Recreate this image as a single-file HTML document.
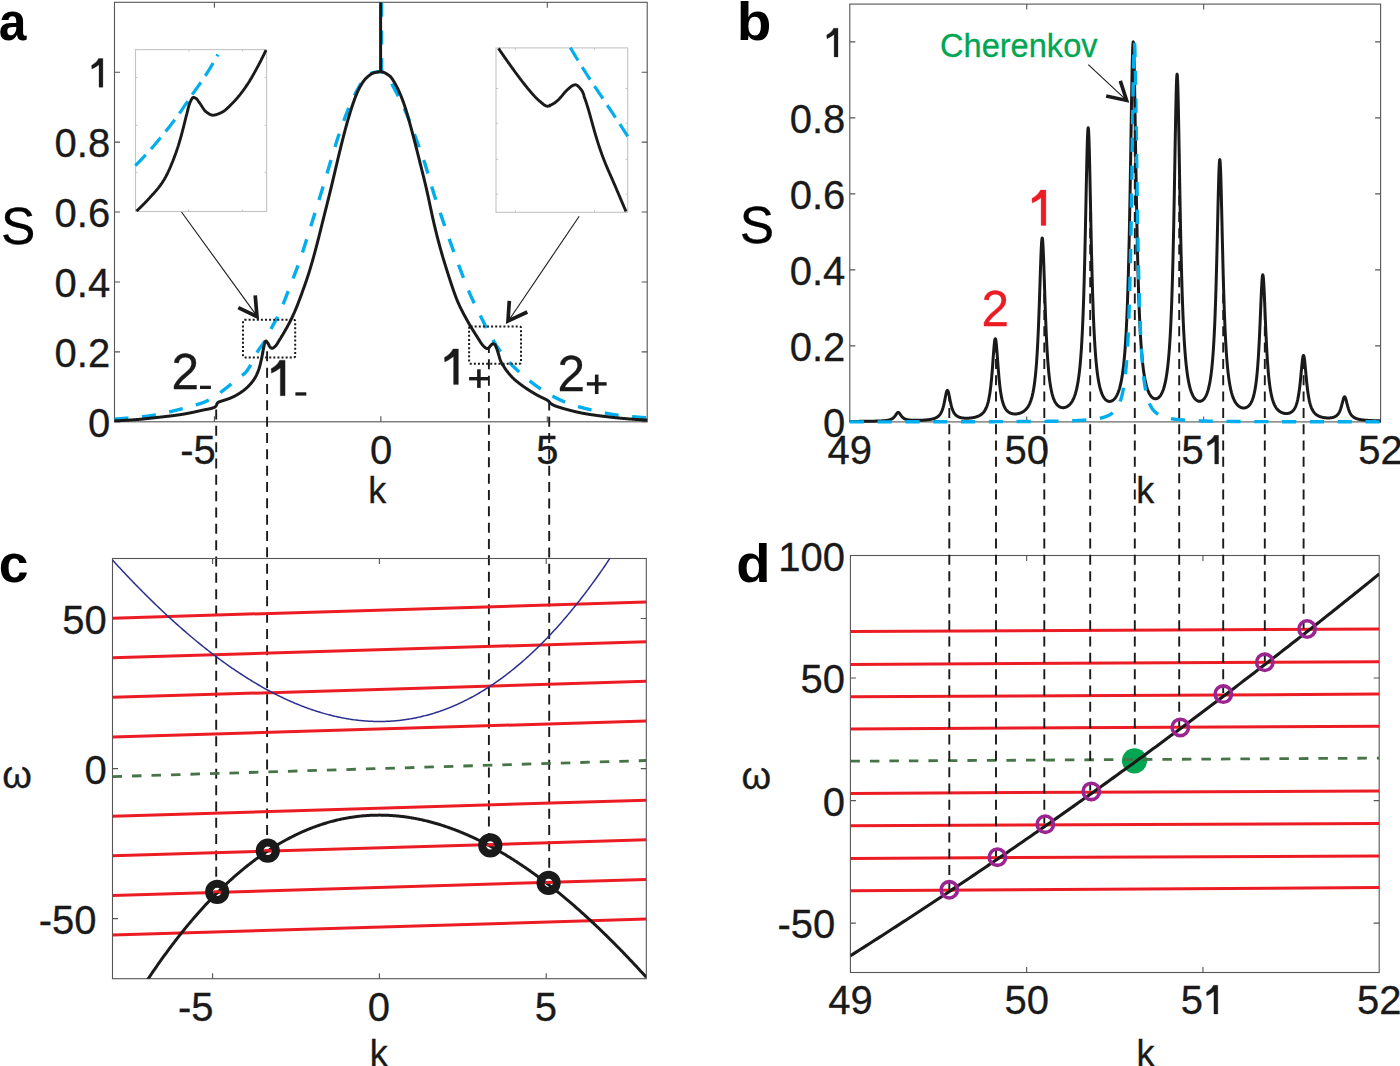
<!DOCTYPE html>
<html><head><meta charset="utf-8"><style>
html,body{margin:0;padding:0;background:#fff;overflow:hidden;}
svg{display:block;}
</style></head><body>
<svg width="1400" height="1066" viewBox="0 0 1400 1066">
<rect width="1400" height="1066" fill="#fff"/>
<defs>
<clipPath id="ca"><rect x="111.5" y="2.3" width="538.7" height="423.5"/></clipPath>
<clipPath id="cb"><rect x="846.8" y="4.1" width="536.8" height="421.79999999999995"/></clipPath>
<clipPath id="cc"><rect x="112.5" y="558.5" width="533.8" height="420.20000000000005"/></clipPath>
<clipPath id="cd"><rect x="850.4" y="555.5" width="528.8000000000001" height="417.0"/></clipPath>
</defs>
<rect x="114.5" y="2.3" width="532.7" height="419.5" fill="none" stroke="#565454" stroke-width="1.1"/>
<path d="M214.40,421.8 V416.30 M214.40,2.3 V7.80 M380.85,421.8 V416.30 M380.85,2.3 V7.80 M547.30,421.8 V416.30 M547.30,2.3 V7.80 M114.5,421.80 H120.00 M647.2,421.80 H641.70 M114.5,351.88 H120.00 M647.2,351.88 H641.70 M114.5,281.96 H120.00 M647.2,281.96 H641.70 M114.5,212.04 H120.00 M647.2,212.04 H641.70 M114.5,142.12 H120.00 M647.2,142.12 H641.70 M114.5,72.20 H120.00 M647.2,72.20 H641.70" stroke="#565454" stroke-width="1.1" fill="none"/>
<path d="M216.2,406.0 V880.5" stroke="#1a1a1a" stroke-width="1.9" stroke-dasharray="10.0 6.33" fill="none" stroke-dashoffset="12.79"/>
<path d="M267.1,350.0 V839.5" stroke="#1a1a1a" stroke-width="1.9" stroke-dasharray="10.0 6.33" fill="none" stroke-dashoffset="14.98"/>
<path d="M488.9,348.5 V834.0" stroke="#1a1a1a" stroke-width="1.9" stroke-dasharray="10.0 6.33" fill="none" stroke-dashoffset="5.48"/>
<path d="M549.2,402.0 V871.5" stroke="#1a1a1a" stroke-width="1.9" stroke-dasharray="10.0 6.33" fill="none" stroke-dashoffset="1.56"/>
<g clip-path="url(#ca)">
<path d="M114.50,419.10 L114.72,419.09 L114.94,419.07 L115.17,419.05 L115.39,419.04 L115.61,419.02 L115.83,419.01 L116.06,418.99 L116.28,418.98 L116.50,418.96 L116.72,418.95 L116.94,418.93 L117.17,418.92 L117.39,418.90 L117.61,418.88 L117.83,418.87 L118.05,418.85 L118.28,418.84 L118.50,418.82 L118.72,418.80 L118.94,418.79 L119.17,418.77 L119.39,418.75 L119.61,418.74 L119.83,418.72 L120.05,418.70 L120.28,418.69 L120.50,418.67 L120.72,418.65 L120.94,418.64 L121.16,418.62 L121.39,418.60 L121.61,418.59 L121.83,418.57 L122.05,418.55 L122.28,418.54 L122.50,418.52 L122.72,418.50 L122.94,418.48 L123.16,418.47 L123.39,418.45 L123.61,418.43 L123.83,418.41 L124.05,418.40 L124.27,418.38 L124.50,418.36 L124.72,418.34 L124.94,418.32 L125.16,418.31 L125.39,418.29 L125.61,418.27 L125.83,418.25 L126.05,418.23 L126.27,418.21 L126.50,418.20 L126.72,418.18 L126.94,418.16 L127.16,418.14 L127.38,418.12 L127.61,418.10 L127.83,418.09 L128.05,418.07 L128.27,418.05 L128.50,418.03 L128.72,418.01 L128.94,417.99 L129.16,417.97 L129.38,417.95 L129.61,417.93 L129.83,417.91 L130.05,417.90 L130.27,417.88 L130.49,417.86 L130.72,417.84 L130.94,417.82 L131.16,417.80 L131.38,417.78 L131.61,417.76 L131.83,417.74 L132.05,417.72 L132.27,417.70 L132.49,417.68 L132.72,417.67 L132.94,417.65 L133.16,417.63 L133.38,417.61 L133.60,417.59 L133.83,417.57 L134.05,417.55 L134.27,417.53 L134.49,417.51 L134.72,417.49 L134.94,417.47 L135.16,417.45 L135.38,417.43 L135.60,417.41 L135.83,417.39 L136.05,417.37 L136.27,417.35 L136.49,417.33 L136.71,417.31 L136.94,417.29 L137.16,417.27 L137.38,417.25 L137.60,417.23 L137.83,417.21 L138.05,417.19 L138.27,417.17 L138.49,417.15 L138.71,417.13 L138.94,417.10 L139.16,417.08 L139.38,417.06 L139.60,417.04 L139.82,417.02 L140.05,417.00 L140.27,416.97 L140.49,416.95 L140.71,416.93 L140.94,416.91 L141.16,416.88 L141.38,416.86 L141.60,416.84 L141.82,416.81 L142.05,416.79 L142.27,416.77 L142.49,416.74 L142.71,416.72 L142.93,416.69 L143.16,416.67 L143.38,416.64 L143.60,416.62 L143.82,416.60 L144.05,416.57 L144.27,416.54 L144.49,416.52 L144.71,416.49 L144.93,416.47 L145.16,416.44 L145.38,416.41 L145.60,416.39 L145.82,416.36 L146.04,416.33 L146.27,416.30 L146.49,416.28 L146.71,416.25 L146.93,416.22 L147.16,416.19 L147.38,416.16 L147.60,416.13 L147.82,416.10 L148.04,416.07 L148.27,416.04 L148.49,416.01 L148.71,415.98 L148.93,415.94 L149.15,415.91 L149.38,415.88 L149.60,415.84 L149.82,415.81 L150.04,415.78 L150.27,415.74 L150.49,415.71 L150.71,415.67 L150.93,415.64 L151.15,415.60 L151.38,415.57 L151.60,415.53 L151.82,415.49 L152.04,415.46 L152.26,415.42 L152.49,415.38 L152.71,415.35 L152.93,415.31 L153.15,415.27 L153.38,415.23 L153.60,415.19 L153.82,415.15 L154.04,415.12 L154.26,415.08 L154.49,415.04 L154.71,415.00 L154.93,414.96 L155.15,414.92 L155.37,414.88 L155.60,414.84 L155.82,414.80 L156.04,414.75 L156.26,414.71 L156.49,414.67 L156.71,414.63 L156.93,414.59 L157.15,414.55 L157.37,414.51 L157.60,414.46 L157.82,414.42 L158.04,414.38 L158.26,414.34 L158.48,414.29 L158.71,414.25 L158.93,414.21 L159.15,414.16 L159.37,414.12 L159.60,414.08 L159.82,414.03 L160.04,413.99 L160.26,413.95 L160.48,413.90 L160.71,413.86 L160.93,413.81 L161.15,413.77 L161.37,413.73 L161.59,413.68 L161.82,413.64 L162.04,413.59 L162.26,413.55 L162.48,413.50 L162.71,413.46 L162.93,413.41 L163.15,413.36 L163.37,413.32 L163.59,413.27 L163.82,413.22 L164.04,413.18 L164.26,413.13 L164.48,413.08 L164.70,413.03 L164.93,412.98 L165.15,412.93 L165.37,412.88 L165.59,412.83 L165.82,412.78 L166.04,412.73 L166.26,412.68 L166.48,412.63 L166.70,412.58 L166.93,412.53 L167.15,412.47 L167.37,412.42 L167.59,412.37 L167.81,412.32 L168.04,412.26 L168.26,412.21 L168.48,412.16 L168.70,412.10 L168.93,412.05 L169.15,412.00 L169.37,411.94 L169.59,411.89 L169.81,411.83 L170.04,411.78 L170.26,411.72 L170.48,411.67 L170.70,411.61 L170.92,411.56 L171.15,411.50 L171.37,411.45 L171.59,411.39 L171.81,411.34 L172.04,411.28 L172.26,411.22 L172.48,411.17 L172.70,411.11 L172.92,411.06 L173.15,411.00 L173.37,410.94 L173.59,410.89 L173.81,410.83 L174.03,410.78 L174.26,410.72 L174.48,410.66 L174.70,410.61 L174.92,410.55 L175.15,410.49 L175.37,410.44 L175.59,410.38 L175.81,410.33 L176.03,410.27 L176.26,410.21 L176.48,410.16 L176.70,410.10 L176.92,410.04 L177.14,409.99 L177.37,409.93 L177.59,409.88 L177.81,409.82 L178.03,409.76 L178.26,409.71 L178.48,409.65 L178.70,409.60 L178.92,409.54 L179.14,409.48 L179.37,409.43 L179.59,409.37 L179.81,409.31 L180.03,409.26 L180.25,409.20 L180.48,409.14 L180.70,409.09 L180.92,409.03 L181.14,408.97 L181.37,408.92 L181.59,408.86 L181.81,408.80 L182.03,408.74 L182.25,408.69 L182.48,408.63 L182.70,408.57 L182.92,408.51 L183.14,408.45 L183.36,408.40 L183.59,408.34 L183.81,408.28 L184.03,408.22 L184.25,408.16 L184.48,408.10 L184.70,408.04 L184.92,407.98 L185.14,407.93 L185.36,407.87 L185.59,407.81 L185.81,407.75 L186.03,407.69 L186.25,407.63 L186.47,407.57 L186.70,407.51 L186.92,407.45 L187.14,407.38 L187.36,407.32 L187.59,407.26 L187.81,407.20 L188.03,407.14 L188.25,407.08 L188.47,407.02 L188.70,406.95 L188.92,406.89 L189.14,406.83 L189.36,406.77 L189.58,406.70 L189.81,406.64 L190.03,406.58 L190.25,406.52 L190.47,406.45 L190.70,406.39 L190.92,406.32 L191.14,406.26 L191.36,406.20 L191.58,406.13 L191.81,406.07 L192.03,406.01 L192.25,405.94 L192.47,405.88 L192.69,405.82 L192.92,405.75 L193.14,405.69 L193.36,405.63 L193.58,405.57 L193.81,405.50 L194.03,405.44 L194.25,405.38 L194.47,405.32 L194.69,405.25 L194.92,405.19 L195.14,405.13 L195.36,405.07 L195.58,405.00 L195.80,404.94 L196.03,404.87 L196.25,404.81 L196.47,404.75 L196.69,404.68 L196.92,404.62 L197.14,404.55 L197.36,404.49 L197.58,404.42 L197.80,404.35 L198.03,404.29 L198.25,404.22 L198.47,404.15 L198.69,404.08 L198.91,404.02 L199.14,403.95 L199.36,403.88 L199.58,403.81 L199.80,403.74 L200.03,403.66 L200.25,403.59 L200.47,403.52 L200.69,403.44 L200.91,403.37 L201.14,403.29 L201.36,403.22 L201.58,403.14 L201.80,403.06 L202.02,402.98 L202.25,402.90 L202.47,402.82 L202.69,402.74 L202.91,402.66 L203.14,402.58 L203.36,402.49 L203.58,402.41 L203.80,402.32 L204.02,402.23 L204.25,402.14 L204.47,402.05 L204.69,401.96 L204.91,401.87 L205.13,401.77 L205.36,401.68 L205.58,401.58 L205.80,401.48 L206.02,401.37 L206.25,401.27 L206.47,401.16 L206.69,401.05 L206.91,400.94 L207.13,400.83 L207.36,400.72 L207.58,400.60 L207.80,400.49 L208.02,400.37 L208.24,400.25 L208.47,400.13 L208.69,400.01 L208.91,399.88 L209.13,399.76 L209.36,399.63 L209.58,399.50 L209.80,399.38 L210.02,399.25 L210.24,399.11 L210.47,398.98 L210.69,398.85 L210.91,398.72 L211.13,398.58 L211.35,398.45 L211.58,398.31 L211.80,398.17 L212.02,398.04 L212.24,397.90 L212.47,397.76 L212.69,397.62 L212.91,397.48 L213.13,397.34 L213.35,397.20 L213.58,397.06 L213.80,396.91 L214.02,396.77 L214.24,396.63 L214.46,396.49 L214.69,396.34 L214.91,396.20 L215.13,396.06 L215.35,395.92 L215.58,395.77 L215.80,395.63 L216.02,395.49 L216.24,395.34 L216.46,395.20 L216.69,395.05 L216.91,394.91 L217.13,394.76 L217.35,394.61 L217.57,394.46 L217.80,394.31 L218.02,394.16 L218.24,394.00 L218.46,393.85 L218.69,393.69 L218.91,393.54 L219.13,393.38 L219.35,393.22 L219.57,393.06 L219.80,392.90 L220.02,392.74 L220.24,392.58 L220.46,392.42 L220.68,392.26 L220.91,392.10 L221.13,391.93 L221.35,391.77 L221.57,391.60 L221.80,391.44 L222.02,391.27 L222.24,391.10 L222.46,390.93 L222.68,390.77 L222.91,390.60 L223.13,390.43 L223.35,390.26 L223.57,390.09 L223.79,389.92 L224.02,389.75 L224.24,389.57 L224.46,389.40 L224.68,389.23 L224.91,389.06 L225.13,388.88 L225.35,388.71 L225.57,388.54 L225.79,388.36 L226.02,388.19 L226.24,388.01 L226.46,387.84 L226.68,387.67 L226.90,387.49 L227.13,387.32 L227.35,387.14 L227.57,386.96 L227.79,386.79 L228.02,386.61 L228.24,386.43 L228.46,386.25 L228.68,386.07 L228.90,385.88 L229.13,385.70 L229.35,385.51 L229.57,385.33 L229.79,385.14 L230.01,384.95 L230.24,384.76 L230.46,384.57 L230.68,384.38 L230.90,384.19 L231.13,384.00 L231.35,383.81 L231.57,383.62 L231.79,383.42 L232.01,383.23 L232.24,383.04 L232.46,382.85 L232.68,382.65 L232.90,382.46 L233.12,382.27 L233.35,382.08 L233.57,381.88 L233.79,381.69 L234.01,381.50 L234.24,381.31 L234.46,381.12 L234.68,380.93 L234.90,380.74 L235.12,380.55 L235.35,380.36 L235.57,380.18 L235.79,379.99 L236.01,379.81 L236.23,379.62 L236.46,379.44 L236.68,379.26 L236.90,379.08 L237.12,378.90 L237.35,378.73 L237.57,378.56 L237.79,378.39 L238.01,378.22 L238.23,378.06 L238.46,377.90 L238.68,377.74 L238.90,377.58 L239.12,377.43 L239.34,377.28 L239.57,377.12 L239.79,376.97 L240.01,376.82 L240.23,376.67 L240.46,376.52 L240.68,376.37 L240.90,376.22 L241.12,376.06 L241.34,375.91 L241.57,375.76 L241.79,375.60 L242.01,375.44 L242.23,375.28 L242.45,375.12 L242.68,374.95 L242.90,374.79 L243.12,374.61 L243.34,374.44 L243.57,374.26 L243.79,374.08 L244.01,373.89 L244.23,373.70 L244.45,373.50 L244.68,373.30 L244.90,373.09 L245.12,372.88 L245.34,372.66 L245.56,372.44 L245.79,372.21 L246.01,371.97 L246.23,371.71 L246.45,371.45 L246.68,371.17 L246.90,370.89 L247.12,370.59 L247.34,370.28 L247.56,369.97 L247.79,369.64 L248.01,369.31 L248.23,368.96 L248.45,368.61 L248.67,368.25 L248.90,367.89 L249.12,367.51 L249.34,367.13 L249.56,366.75 L249.79,366.36 L250.01,365.96 L250.23,365.56 L250.45,365.15 L250.67,364.74 L250.90,364.32 L251.12,363.90 L251.34,363.47 L251.56,363.05 L251.78,362.62 L252.01,362.19 L252.23,361.75 L252.45,361.32 L252.67,360.88 L252.90,360.44 L253.12,360.00 L253.34,359.56 L253.56,359.13 L253.78,358.69 L254.01,358.25 L254.23,357.81 L254.45,357.38 L254.67,356.95 L254.89,356.51 L255.12,356.09 L255.34,355.66 L255.56,355.24 L255.78,354.82 L256.01,354.41 L256.23,354.00 L256.45,353.59 L256.67,353.19 L256.89,352.80 L257.12,352.41 L257.34,352.03 L257.56,351.65 L257.78,351.29 L258.00,350.92 L258.23,350.57 L258.45,350.22 L258.67,349.89 L258.89,349.55 L259.12,349.23 L259.34,348.91 L259.56,348.59 L259.78,348.28 L260.00,347.98 L260.23,347.67 L260.45,347.37 L260.67,347.08 L260.89,346.78 L261.11,346.49 L261.34,346.19 L261.56,345.90 L261.78,345.61 L262.00,345.29 L262.23,344.98 L262.45,344.67 L262.67,344.35 L262.89,344.03 L263.11,343.71 L263.34,343.39 L263.56,343.06 L263.78,342.73 L264.00,342.40 L264.22,342.05 L264.45,341.71 L264.67,341.35 L264.89,340.99 L265.11,340.63 L265.34,340.26 L265.56,339.88 L265.78,339.49 L266.00,339.10 L266.22,338.70 L266.45,338.29 L266.67,337.87 L266.89,337.45 L267.11,337.02 L267.33,336.59 L267.56,336.15 L267.78,335.71 L268.00,335.26 L268.22,334.81 L268.45,334.35 L268.67,333.89 L268.89,333.43 L269.11,332.96 L269.33,332.50 L269.56,332.03 L269.78,331.57 L270.00,331.11 L270.22,330.64 L270.44,330.18 L270.67,329.73 L270.89,329.27 L271.11,328.82 L271.33,328.38 L271.56,327.93 L271.78,327.50 L272.00,327.06 L272.22,326.64 L272.44,326.21 L272.67,325.79 L272.89,325.38 L273.11,324.96 L273.33,324.56 L273.55,324.15 L273.78,323.75 L274.00,323.35 L274.22,322.95 L274.44,322.55 L274.67,322.16 L274.89,321.76 L275.11,321.37 L275.33,320.97 L275.55,320.57 L275.78,320.17 L276.00,319.76 L276.22,319.36 L276.44,318.95 L276.66,318.53 L276.89,318.11 L277.11,317.69 L277.33,317.26 L277.55,316.82 L277.78,316.38 L278.00,315.94 L278.22,315.48 L278.44,315.03 L278.66,314.56 L278.89,314.09 L279.11,313.62 L279.33,313.14 L279.55,312.65 L279.77,312.16 L280.00,311.66 L280.22,311.16 L280.44,310.65 L280.66,310.14 L280.89,309.62 L281.11,309.10 L281.33,308.57 L281.55,308.04 L281.77,307.51 L282.00,306.97 L282.22,306.43 L282.44,305.88 L282.66,305.33 L282.88,304.78 L283.11,304.23 L283.33,303.67 L283.55,303.11 L283.77,302.55 L284.00,301.98 L284.22,301.42 L284.44,300.85 L284.66,300.28 L284.88,299.71 L285.11,299.14 L285.33,298.56 L285.55,297.99 L285.77,297.41 L285.99,296.84 L286.22,296.26 L286.44,295.68 L286.66,295.10 L286.88,294.53 L287.11,293.95 L287.33,293.37 L287.55,292.80 L287.77,292.22 L287.99,291.64 L288.22,291.07 L288.44,290.49 L288.66,289.92 L288.88,289.34 L289.10,288.77 L289.33,288.19 L289.55,287.62 L289.77,287.05 L289.99,286.48 L290.22,285.91 L290.44,285.34 L290.66,284.77 L290.88,284.20 L291.10,283.63 L291.33,283.06 L291.55,282.49 L291.77,281.91 L291.99,281.34 L292.21,280.77 L292.44,280.20 L292.66,279.63 L292.88,279.06 L293.10,278.49 L293.33,277.91 L293.55,277.34 L293.77,276.76 L293.99,276.18 L294.21,275.61 L294.44,275.03 L294.66,274.45 L294.88,273.86 L295.10,273.28 L295.32,272.69 L295.55,272.11 L295.77,271.52 L295.99,270.92 L296.21,270.33 L296.44,269.74 L296.66,269.14 L296.88,268.54 L297.10,267.93 L297.32,267.33 L297.55,266.72 L297.77,266.11 L297.99,265.50 L298.21,264.88 L298.43,264.26 L298.66,263.64 L298.88,263.01 L299.10,262.38 L299.32,261.75 L299.55,261.12 L299.77,260.48 L299.99,259.84 L300.21,259.19 L300.43,258.54 L300.66,257.89 L300.88,257.23 L301.10,256.57 L301.32,255.91 L301.54,255.25 L301.77,254.58 L301.99,253.91 L302.21,253.23 L302.43,252.56 L302.66,251.88 L302.88,251.20 L303.10,250.51 L303.32,249.82 L303.54,249.14 L303.77,248.45 L303.99,247.75 L304.21,247.06 L304.43,246.36 L304.65,245.67 L304.88,244.97 L305.10,244.27 L305.32,243.57 L305.54,242.87 L305.77,242.17 L305.99,241.47 L306.21,240.77 L306.43,240.07 L306.65,239.36 L306.88,238.66 L307.10,237.96 L307.32,237.25 L307.54,236.55 L307.76,235.85 L307.99,235.14 L308.21,234.44 L308.43,233.74 L308.65,233.03 L308.88,232.33 L309.10,231.62 L309.32,230.92 L309.54,230.21 L309.76,229.51 L309.99,228.80 L310.21,228.09 L310.43,227.39 L310.65,226.68 L310.87,225.97 L311.10,225.27 L311.32,224.56 L311.54,223.85 L311.76,223.14 L311.99,222.43 L312.21,221.72 L312.43,221.01 L312.65,220.30 L312.87,219.59 L313.10,218.88 L313.32,218.16 L313.54,217.45 L313.76,216.74 L313.98,216.03 L314.21,215.31 L314.43,214.60 L314.65,213.89 L314.87,213.17 L315.10,212.46 L315.32,211.75 L315.54,211.03 L315.76,210.32 L315.98,209.60 L316.21,208.89 L316.43,208.18 L316.65,207.46 L316.87,206.75 L317.09,206.03 L317.32,205.32 L317.54,204.60 L317.76,203.89 L317.98,203.17 L318.21,202.46 L318.43,201.74 L318.65,201.03 L318.87,200.31 L319.09,199.60 L319.32,198.88 L319.54,198.16 L319.76,197.45 L319.98,196.73 L320.20,196.01 L320.43,195.29 L320.65,194.57 L320.87,193.86 L321.09,193.14 L321.32,192.41 L321.54,191.69 L321.76,190.97 L321.98,190.25 L322.20,189.52 L322.43,188.80 L322.65,188.07 L322.87,187.34 L323.09,186.61 L323.31,185.88 L323.54,185.15 L323.76,184.42 L323.98,183.68 L324.20,182.94 L324.43,182.21 L324.65,181.47 L324.87,180.73 L325.09,179.98 L325.31,179.24 L325.54,178.49 L325.76,177.75 L325.98,177.00 L326.20,176.25 L326.42,175.50 L326.65,174.74 L326.87,173.99 L327.09,173.24 L327.31,172.48 L327.54,171.73 L327.76,170.97 L327.98,170.21 L328.20,169.46 L328.42,168.70 L328.65,167.95 L328.87,167.19 L329.09,166.43 L329.31,165.68 L329.53,164.93 L329.76,164.18 L329.98,163.42 L330.20,162.67 L330.42,161.93 L330.65,161.18 L330.87,160.43 L331.09,159.69 L331.31,158.95 L331.53,158.21 L331.76,157.47 L331.98,156.73 L332.20,155.99 L332.42,155.26 L332.64,154.52 L332.87,153.79 L333.09,153.06 L333.31,152.33 L333.53,151.60 L333.76,150.88 L333.98,150.16 L334.20,149.43 L334.42,148.71 L334.64,147.99 L334.87,147.27 L335.09,146.56 L335.31,145.84 L335.53,145.13 L335.75,144.42 L335.98,143.71 L336.20,143.00 L336.42,142.30 L336.64,141.60 L336.87,140.90 L337.09,140.20 L337.31,139.51 L337.53,138.82 L337.75,138.13 L337.98,137.44 L338.20,136.76 L338.42,136.08 L338.64,135.41 L338.86,134.74 L339.09,134.07 L339.31,133.40 L339.53,132.74 L339.75,132.09 L339.98,131.43 L340.20,130.78 L340.42,130.13 L340.64,129.49 L340.86,128.85 L341.09,128.21 L341.31,127.58 L341.53,126.95 L341.75,126.32 L341.97,125.69 L342.20,125.07 L342.42,124.46 L342.64,123.84 L342.86,123.23 L343.09,122.62 L343.31,122.01 L343.53,121.41 L343.75,120.81 L343.97,120.21 L344.20,119.61 L344.42,119.02 L344.64,118.43 L344.86,117.84 L345.08,117.26 L345.31,116.68 L345.53,116.10 L345.75,115.52 L345.97,114.95 L346.20,114.38 L346.42,113.81 L346.64,113.25 L346.86,112.69 L347.08,112.13 L347.31,111.57 L347.53,111.02 L347.75,110.47 L347.97,109.93 L348.19,109.39 L348.42,108.85 L348.64,108.31 L348.86,107.78 L349.08,107.25 L349.31,106.72 L349.53,106.20 L349.75,105.68 L349.97,105.16 L350.19,104.65 L350.42,104.14 L350.64,103.63 L350.86,103.13 L351.08,102.63 L351.30,102.13 L351.53,101.64 L351.75,101.14 L351.97,100.66 L352.19,100.17 L352.42,99.69 L352.64,99.21 L352.86,98.74 L353.08,98.27 L353.30,97.80 L353.53,97.34 L353.75,96.87 L353.97,96.42 L354.19,95.96 L354.41,95.51 L354.64,95.06 L354.86,94.62 L355.08,94.18 L355.30,93.74 L355.53,93.31 L355.75,92.88 L355.97,92.45 L356.19,92.02 L356.41,91.60 L356.64,91.18 L356.86,90.77 L357.08,90.35 L357.30,89.94 L357.52,89.53 L357.75,89.13 L357.97,88.73 L358.19,88.33 L358.41,87.93 L358.64,87.53 L358.86,87.14 L359.08,86.75 L359.30,86.37 L359.52,85.99 L359.75,85.61 L359.97,85.23 L360.19,84.86 L360.41,84.50 L360.63,84.13 L360.86,83.78 L361.08,83.42 L361.30,83.08 L361.52,82.73 L361.75,82.40 L361.97,82.07 L362.19,81.47 L362.41,81.14 L362.63,80.81 L362.86,80.50 L363.08,80.20 L363.30,79.90 L363.52,79.62 L363.74,79.35 L363.97,79.08 L364.19,78.83 L364.41,78.59 L364.63,78.37 L364.86,78.15 L365.08,77.93 L365.30,77.72 L365.52,77.51 L365.74,77.30 L365.97,77.09 L366.19,76.88 L366.41,76.68 L366.63,76.47 L366.85,76.28 L367.08,76.08 L367.30,75.89 L367.52,75.70 L367.74,75.51 L367.97,75.33 L368.19,75.15 L368.41,74.98 L368.63,74.81 L368.85,74.65 L369.08,74.49 L369.30,74.33 L369.52,74.18 L369.74,74.04 L369.96,73.90 L370.19,73.77 L370.41,73.64 L370.63,73.52 L370.85,73.41 L371.08,73.30 L371.30,73.21 L371.52,73.11 L371.74,73.03 L371.96,72.95 L372.19,72.88 L372.41,72.82 L372.63,72.77 L372.85,72.72 L373.07,72.66 L373.30,72.61 L373.52,72.56 L373.74,72.51 L373.96,72.46 L374.19,72.41 L374.41,72.37 L374.63,72.32 L374.85,72.28 L375.07,72.23 L375.30,72.19 L375.52,72.15 L375.74,72.11 L375.96,72.07 L376.18,72.03 L376.41,71.99 L376.63,71.96 L376.85,71.92 L377.07,71.89 L377.30,71.86 L377.52,71.83 L377.74,71.80 L377.96,71.77 L378.18,71.75 L378.41,71.73 L378.63,71.71 L378.85,71.69 L379.07,71.67 L379.29,71.65 L379.52,71.64 L379.74,71.63 L379.96,71.62 L380.18,71.61 L380.41,71.60 L380.63,71.60 L380.85,71.60 L381.07,71.62 L381.29,71.66 L381.52,71.70 L381.74,71.76 L381.96,71.83 L382.18,71.92 L382.41,72.01 L382.63,72.11 L382.85,72.22 L383.07,72.34 L383.29,72.47 L383.52,72.61 L383.74,72.76 L383.96,72.91 L384.18,73.07 L384.40,73.24 L384.63,73.41 L384.85,73.59 L385.07,73.77 L385.29,73.96 L385.52,74.15 L385.74,74.34 L385.96,74.54 L386.18,74.74 L386.40,74.95 L386.63,75.15 L386.85,75.36 L387.07,75.57 L387.29,75.79 L387.51,76.04 L387.74,76.32 L387.96,76.61 L388.18,76.92 L388.40,77.25 L388.63,77.60 L388.85,77.97 L389.07,78.35 L389.29,78.74 L389.51,79.14 L389.74,79.56 L389.96,79.98 L390.18,80.42 L390.40,80.86 L390.62,81.31 L390.85,81.76 L391.07,82.21 L391.29,82.67 L391.51,83.13 L391.74,83.59 L391.96,84.04 L392.18,84.50 L392.40,84.95 L392.62,85.39 L392.85,85.83 L393.07,86.26 L393.29,86.68 L393.51,87.10 L393.73,87.51 L393.96,87.93 L394.18,88.35 L394.40,88.76 L394.62,89.18 L394.85,89.59 L395.07,90.01 L395.29,90.43 L395.51,90.85 L395.73,91.27 L395.96,91.68 L396.18,92.10 L396.40,92.52 L396.62,92.94 L396.84,93.37 L397.07,93.79 L397.29,94.21 L397.51,94.64 L397.73,95.06 L397.96,95.49 L398.18,95.96 L398.40,96.40 L398.62,96.83 L398.84,97.26 L399.07,97.70 L399.29,98.14 L399.51,98.57 L399.73,99.01 L399.95,99.46 L400.18,99.90 L400.40,100.35 L400.62,100.79 L400.84,101.24 L401.07,101.69 L401.29,102.15 L401.51,102.60 L401.73,103.06 L401.95,103.52 L402.18,103.98 L402.40,104.45 L402.62,104.91 L402.84,105.38 L403.06,105.85 L403.29,106.33 L403.51,106.81 L403.73,107.29 L403.95,107.77 L404.18,108.26 L404.40,108.75 L404.62,109.24 L404.84,109.74 L405.06,110.24 L405.29,110.75 L405.51,111.25 L405.73,111.77 L405.95,112.28 L406.17,112.80 L406.40,113.32 L406.62,113.85 L406.84,114.38 L407.06,114.92 L407.29,115.46 L407.51,116.00 L407.73,116.55 L407.95,117.10 L408.17,117.66 L408.40,118.22 L408.62,118.78 L408.84,119.35 L409.06,119.92 L409.28,120.49 L409.51,121.07 L409.73,121.65 L409.95,122.23 L410.17,122.81 L410.40,123.40 L410.62,123.99 L410.84,124.59 L411.06,125.18 L411.28,125.78 L411.51,126.38 L411.73,126.98 L411.95,127.58 L412.17,128.18 L412.39,128.78 L412.62,129.39 L412.84,129.99 L413.06,130.60 L413.28,131.20 L413.51,131.81 L413.73,132.42 L413.95,133.02 L414.17,133.63 L414.39,134.23 L414.62,134.84 L414.84,135.45 L415.06,136.05 L415.28,136.65 L415.50,137.26 L415.73,137.86 L415.95,138.46 L416.17,139.07 L416.39,139.67 L416.62,140.27 L416.84,140.87 L417.06,141.47 L417.28,142.07 L417.50,142.67 L417.73,143.27 L417.95,143.87 L418.17,144.47 L418.39,145.07 L418.61,145.67 L418.84,146.27 L419.06,146.88 L419.28,147.48 L419.50,148.09 L419.73,148.69 L419.95,149.30 L420.17,149.91 L420.39,150.52 L420.61,151.13 L420.84,151.75 L421.06,152.37 L421.28,152.99 L421.50,153.61 L421.72,154.24 L421.95,154.87 L422.17,155.50 L422.39,156.14 L422.61,156.78 L422.84,157.42 L423.06,158.07 L423.28,158.73 L423.50,159.39 L423.72,160.05 L423.95,160.72 L424.17,161.40 L424.39,162.08 L424.61,162.76 L424.83,163.45 L425.06,164.15 L425.28,164.86 L425.50,165.56 L425.72,166.28 L425.95,167.00 L426.17,167.73 L426.39,168.46 L426.61,169.19 L426.83,169.93 L427.06,170.68 L427.28,171.43 L427.50,172.18 L427.72,172.94 L427.94,173.70 L428.17,174.47 L428.39,175.23 L428.61,176.00 L428.83,176.77 L429.06,177.54 L429.28,178.31 L429.50,179.08 L429.72,179.85 L429.94,180.61 L430.17,181.38 L430.39,182.14 L430.61,182.90 L430.83,183.66 L431.05,184.42 L431.28,185.17 L431.50,185.92 L431.72,186.66 L431.94,187.41 L432.17,188.14 L432.39,188.88 L432.61,189.60 L432.83,190.33 L433.05,191.05 L433.28,191.76 L433.50,192.47 L433.72,193.18 L433.94,193.89 L434.16,194.59 L434.39,195.28 L434.61,195.97 L434.83,196.66 L435.05,197.35 L435.28,198.03 L435.50,198.71 L435.72,199.39 L435.94,200.07 L436.16,200.74 L436.39,201.41 L436.61,202.08 L436.83,202.75 L437.05,203.41 L437.27,204.08 L437.50,204.74 L437.72,205.40 L437.94,206.06 L438.16,206.72 L438.39,207.38 L438.61,208.04 L438.83,208.70 L439.05,209.36 L439.27,210.01 L439.50,210.67 L439.72,211.33 L439.94,211.98 L440.16,212.64 L440.38,213.29 L440.61,213.95 L440.83,214.60 L441.05,215.26 L441.27,215.91 L441.50,216.57 L441.72,217.22 L441.94,217.87 L442.16,218.53 L442.38,219.18 L442.61,219.83 L442.83,220.49 L443.05,221.14 L443.27,221.79 L443.49,222.44 L443.72,223.09 L443.94,223.74 L444.16,224.39 L444.38,225.04 L444.61,225.69 L444.83,226.34 L445.05,226.99 L445.27,227.64 L445.49,228.28 L445.72,228.93 L445.94,229.57 L446.16,230.22 L446.38,230.86 L446.60,231.50 L446.83,232.15 L447.05,232.79 L447.27,233.43 L447.49,234.07 L447.72,234.71 L447.94,235.34 L448.16,235.98 L448.38,236.61 L448.60,237.25 L448.83,237.88 L449.05,238.52 L449.27,239.15 L449.49,239.78 L449.71,240.41 L449.94,241.04 L450.16,241.67 L450.38,242.29 L450.60,242.92 L450.83,243.54 L451.05,244.17 L451.27,244.79 L451.49,245.41 L451.71,246.04 L451.94,246.66 L452.16,247.28 L452.38,247.90 L452.60,248.51 L452.82,249.13 L453.05,249.75 L453.27,250.36 L453.49,250.98 L453.71,251.59 L453.94,252.21 L454.16,252.82 L454.38,253.43 L454.60,254.04 L454.82,254.65 L455.05,255.26 L455.27,255.87 L455.49,256.47 L455.71,257.08 L455.93,257.69 L456.16,258.29 L456.38,258.89 L456.60,259.50 L456.82,260.10 L457.05,260.70 L457.27,261.30 L457.49,261.90 L457.71,262.50 L457.93,263.09 L458.16,263.69 L458.38,264.29 L458.60,264.88 L458.82,265.48 L459.04,266.07 L459.27,266.67 L459.49,267.26 L459.71,267.85 L459.93,268.44 L460.16,269.04 L460.38,269.63 L460.60,270.22 L460.82,270.81 L461.04,271.40 L461.27,271.99 L461.49,272.58 L461.71,273.17 L461.93,273.75 L462.15,274.34 L462.38,274.93 L462.60,275.51 L462.82,276.10 L463.04,276.69 L463.27,277.27 L463.49,277.85 L463.71,278.44 L463.93,279.02 L464.15,279.60 L464.38,280.18 L464.60,280.75 L464.82,281.33 L465.04,281.90 L465.26,282.47 L465.49,283.04 L465.71,283.61 L465.93,284.18 L466.15,284.74 L466.38,285.31 L466.60,285.86 L466.82,286.42 L467.04,286.98 L467.26,287.53 L467.49,288.08 L467.71,288.62 L467.93,289.16 L468.15,289.70 L468.37,290.24 L468.60,290.77 L468.82,291.30 L469.04,291.83 L469.26,292.35 L469.49,292.87 L469.71,293.39 L469.93,293.90 L470.15,294.41 L470.37,294.92 L470.60,295.42 L470.82,295.93 L471.04,296.42 L471.26,296.92 L471.48,297.41 L471.71,297.90 L471.93,298.38 L472.15,298.87 L472.37,299.35 L472.60,299.83 L472.82,300.30 L473.04,300.77 L473.26,301.24 L473.48,301.71 L473.71,302.18 L473.93,302.64 L474.15,303.10 L474.37,303.57 L474.59,304.02 L474.82,304.48 L475.04,304.94 L475.26,305.39 L475.48,305.84 L475.71,306.30 L475.93,306.75 L476.15,307.19 L476.37,307.64 L476.59,308.09 L476.82,308.54 L477.04,308.98 L477.26,309.43 L477.48,309.87 L477.70,310.32 L477.93,310.76 L478.15,311.20 L478.37,311.65 L478.59,312.09 L478.82,312.54 L479.04,312.98 L479.26,313.42 L479.48,313.87 L479.70,314.31 L479.93,314.76 L480.15,315.20 L480.37,315.65 L480.59,316.10 L480.81,316.54 L481.04,316.99 L481.26,317.44 L481.48,317.89 L481.70,318.34 L481.93,318.79 L482.15,319.25 L482.37,319.70 L482.59,320.15 L482.81,320.61 L483.04,321.06 L483.26,321.52 L483.48,321.98 L483.70,322.43 L483.92,322.89 L484.15,323.35 L484.37,323.80 L484.59,324.26 L484.81,324.72 L485.04,325.17 L485.26,325.63 L485.48,326.08 L485.70,326.53 L485.92,326.99 L486.15,327.44 L486.37,327.89 L486.59,328.33 L486.81,328.78 L487.03,329.22 L487.26,329.66 L487.48,330.10 L487.70,330.53 L487.92,330.97 L488.15,331.40 L488.37,331.83 L488.59,332.25 L488.81,332.67 L489.03,333.09 L489.26,333.51 L489.48,333.92 L489.70,334.33 L489.92,334.73 L490.14,335.14 L490.37,335.54 L490.59,335.94 L490.81,336.33 L491.03,336.72 L491.26,337.11 L491.48,337.50 L491.70,337.88 L491.92,338.27 L492.14,338.65 L492.37,339.02 L492.59,339.40 L492.81,339.77 L493.03,340.14 L493.25,340.51 L493.48,340.87 L493.70,341.24 L493.92,341.60 L494.14,341.96 L494.37,342.31 L494.59,342.67 L494.81,343.02 L495.03,343.45 L495.25,343.80 L495.48,344.14 L495.70,344.49 L495.92,344.83 L496.14,345.18 L496.36,345.52 L496.59,345.86 L496.81,346.19 L497.03,346.53 L497.25,346.86 L497.48,347.19 L497.70,347.52 L497.92,347.85 L498.14,348.18 L498.36,348.50 L498.59,348.83 L498.81,349.15 L499.03,349.47 L499.25,349.79 L499.47,350.11 L499.70,350.42 L499.92,350.74 L500.14,351.05 L500.36,351.36 L500.59,351.67 L500.81,351.98 L501.03,352.29 L501.25,352.60 L501.47,352.90 L501.70,353.20 L501.92,353.51 L502.14,353.81 L502.36,354.10 L502.58,354.40 L502.81,354.70 L503.03,354.99 L503.25,355.28 L503.47,355.57 L503.70,355.86 L503.92,356.14 L504.14,356.43 L504.36,356.71 L504.58,356.99 L504.81,357.27 L505.03,357.54 L505.25,357.81 L505.47,358.08 L505.69,358.35 L505.92,358.62 L506.14,358.88 L506.36,359.15 L506.58,359.41 L506.81,359.66 L507.03,359.92 L507.25,360.17 L507.47,360.42 L507.69,360.67 L507.92,360.92 L508.14,361.16 L508.36,361.40 L508.58,361.65 L508.80,361.88 L509.03,362.12 L509.25,362.36 L509.47,362.59 L509.69,362.83 L509.92,363.06 L510.14,363.29 L510.36,363.52 L510.58,363.75 L510.80,363.98 L511.03,364.20 L511.25,364.43 L511.47,364.65 L511.69,364.87 L511.91,365.09 L512.14,365.31 L512.36,365.53 L512.58,365.75 L512.80,365.96 L513.03,366.18 L513.25,366.39 L513.47,366.61 L513.69,366.82 L513.91,367.03 L514.14,367.25 L514.36,367.46 L514.58,367.67 L514.80,367.88 L515.02,368.09 L515.25,368.30 L515.47,368.50 L515.69,368.71 L515.91,368.92 L516.14,369.13 L516.36,369.33 L516.58,369.54 L516.80,369.75 L517.02,369.95 L517.25,370.16 L517.47,370.36 L517.69,370.57 L517.91,370.77 L518.13,370.98 L518.36,371.18 L518.58,371.38 L518.80,371.59 L519.02,371.79 L519.25,371.99 L519.47,372.19 L519.69,372.40 L519.91,372.60 L520.13,372.80 L520.36,373.00 L520.58,373.19 L520.80,373.39 L521.02,373.59 L521.24,373.79 L521.47,373.99 L521.69,374.18 L521.91,374.38 L522.13,374.57 L522.36,374.77 L522.58,374.96 L522.80,375.16 L523.02,375.35 L523.24,375.54 L523.47,375.73 L523.69,375.93 L523.91,376.12 L524.13,376.31 L524.35,376.50 L524.58,376.69 L524.80,376.87 L525.02,377.06 L525.24,377.25 L525.47,377.44 L525.69,377.62 L525.91,377.81 L526.13,377.99 L526.35,378.18 L526.58,378.36 L526.80,378.54 L527.02,378.72 L527.24,378.91 L527.46,379.09 L527.69,379.27 L527.91,379.45 L528.13,379.62 L528.35,379.80 L528.58,379.98 L528.80,380.16 L529.02,380.33 L529.24,380.51 L529.46,380.68 L529.69,380.86 L529.91,381.03 L530.13,381.20 L530.35,381.37 L530.57,381.55 L530.80,381.72 L531.02,381.89 L531.24,382.06 L531.46,382.23 L531.69,382.40 L531.91,382.57 L532.13,382.75 L532.35,382.92 L532.57,383.09 L532.80,383.26 L533.02,383.43 L533.24,383.60 L533.46,383.76 L533.68,383.93 L533.91,384.10 L534.13,384.27 L534.35,384.44 L534.57,384.61 L534.80,384.77 L535.02,384.94 L535.24,385.11 L535.46,385.27 L535.68,385.44 L535.91,385.60 L536.13,385.77 L536.35,385.93 L536.57,386.10 L536.79,386.26 L537.02,386.42 L537.24,386.59 L537.46,386.75 L537.68,386.91 L537.91,387.07 L538.13,387.23 L538.35,387.39 L538.57,387.55 L538.79,387.71 L539.02,387.87 L539.24,388.02 L539.46,388.18 L539.68,388.34 L539.90,388.49 L540.13,388.65 L540.35,388.80 L540.57,388.95 L540.79,389.11 L541.02,389.26 L541.24,389.41 L541.46,389.56 L541.68,389.71 L541.90,389.86 L542.13,390.01 L542.35,390.16 L542.57,390.30 L542.79,390.45 L543.01,390.59 L543.24,390.74 L543.46,390.88 L543.68,391.02 L543.90,391.17 L544.13,391.31 L544.35,391.45 L544.57,391.59 L544.79,391.72 L545.01,391.86 L545.24,392.00 L545.46,392.13 L545.68,392.27 L545.90,392.40 L546.12,392.53 L546.35,392.66 L546.57,392.79 L546.79,392.92 L547.01,393.05 L547.24,393.18 L547.46,393.30 L547.68,393.43 L547.90,393.56 L548.12,393.68 L548.35,393.81 L548.57,393.93 L548.79,394.06 L549.01,394.18 L549.23,394.31 L549.46,394.43 L549.68,394.56 L549.90,394.68 L550.12,394.80 L550.35,394.93 L550.57,395.05 L550.79,395.17 L551.01,395.29 L551.23,395.41 L551.46,395.53 L551.68,395.66 L551.90,395.78 L552.12,395.90 L552.34,396.02 L552.57,396.13 L552.79,396.25 L553.01,396.37 L553.23,396.49 L553.46,396.61 L553.68,396.72 L553.90,396.84 L554.12,396.96 L554.34,397.07 L554.57,397.19 L554.79,397.31 L555.01,397.42 L555.23,397.53 L555.45,397.65 L555.68,397.76 L555.90,397.88 L556.12,397.99 L556.34,398.10 L556.57,398.21 L556.79,398.32 L557.01,398.43 L557.23,398.54 L557.45,398.65 L557.68,398.76 L557.90,398.87 L558.12,398.98 L558.34,399.09 L558.56,399.20 L558.79,399.31 L559.01,399.41 L559.23,399.52 L559.45,399.62 L559.68,399.73 L559.90,399.83 L560.12,399.94 L560.34,400.04 L560.56,400.14 L560.79,400.25 L561.01,400.35 L561.23,400.45 L561.45,400.55 L561.67,400.65 L561.90,400.75 L562.12,400.85 L562.34,400.95 L562.56,401.05 L562.79,401.15 L563.01,401.24 L563.23,401.34 L563.45,401.44 L563.67,401.53 L563.90,401.63 L564.12,401.72 L564.34,401.82 L564.56,401.91 L564.78,402.00 L565.01,402.09 L565.23,402.19 L565.45,402.28 L565.67,402.37 L565.90,402.46 L566.12,402.55 L566.34,402.63 L566.56,402.72 L566.78,402.81 L567.01,402.90 L567.23,402.98 L567.45,403.07 L567.67,403.15 L567.89,403.24 L568.12,403.32 L568.34,403.40 L568.56,403.48 L568.78,403.57 L569.01,403.65 L569.23,403.73 L569.45,403.81 L569.67,403.88 L569.89,403.96 L570.12,404.04 L570.34,404.12 L570.56,404.19 L570.78,404.27 L571.00,404.35 L571.23,404.42 L571.45,404.50 L571.67,404.57 L571.89,404.64 L572.12,404.72 L572.34,404.79 L572.56,404.86 L572.78,404.94 L573.00,405.01 L573.23,405.08 L573.45,405.15 L573.67,405.22 L573.89,405.29 L574.11,405.36 L574.34,405.43 L574.56,405.50 L574.78,405.57 L575.00,405.64 L575.23,405.71 L575.45,405.77 L575.67,405.84 L575.89,405.91 L576.11,405.97 L576.34,406.04 L576.56,406.11 L576.78,406.17 L577.00,406.24 L577.22,406.30 L577.45,406.37 L577.67,406.43 L577.89,406.50 L578.11,406.56 L578.34,406.62 L578.56,406.69 L578.78,406.75 L579.00,406.81 L579.22,406.87 L579.45,406.94 L579.67,407.00 L579.89,407.06 L580.11,407.12 L580.33,407.18 L580.56,407.24 L580.78,407.30 L581.00,407.36 L581.22,407.42 L581.45,407.48 L581.67,407.54 L581.89,407.60 L582.11,407.66 L582.33,407.72 L582.56,407.77 L582.78,407.83 L583.00,407.89 L583.22,407.95 L583.44,408.01 L583.67,408.06 L583.89,408.12 L584.11,408.18 L584.33,408.23 L584.56,408.29 L584.78,408.35 L585.00,408.40 L585.22,408.46 L585.44,408.51 L585.67,408.57 L585.89,408.62 L586.11,408.68 L586.33,408.73 L586.55,408.79 L586.78,408.84 L587.00,408.90 L587.22,408.95 L587.44,409.01 L587.67,409.06 L587.89,409.11 L588.11,409.17 L588.33,409.22 L588.55,409.27 L588.78,409.33 L589.00,409.38 L589.22,409.43 L589.44,409.49 L589.66,409.54 L589.89,409.59 L590.11,409.65 L590.33,409.70 L590.55,409.75 L590.78,409.80 L591.00,409.86 L591.22,409.91 L591.44,409.96 L591.66,410.01 L591.89,410.06 L592.11,410.12 L592.33,410.17 L592.55,410.22 L592.77,410.27 L593.00,410.32 L593.22,410.37 L593.44,410.43 L593.66,410.48 L593.89,410.53 L594.11,410.58 L594.33,410.63 L594.55,410.68 L594.77,410.74 L595.00,410.79 L595.22,410.84 L595.44,410.89 L595.66,410.94 L595.88,410.99 L596.11,411.05 L596.33,411.10 L596.55,411.15 L596.77,411.20 L597.00,411.25 L597.22,411.30 L597.44,411.35 L597.66,411.41 L597.88,411.46 L598.11,411.51 L598.33,411.56 L598.55,411.61 L598.77,411.66 L598.99,411.71 L599.22,411.76 L599.44,411.81 L599.66,411.86 L599.88,411.91 L600.11,411.96 L600.33,412.01 L600.55,412.06 L600.77,412.11 L600.99,412.16 L601.22,412.21 L601.44,412.26 L601.66,412.31 L601.88,412.36 L602.10,412.41 L602.33,412.45 L602.55,412.50 L602.77,412.55 L602.99,412.60 L603.22,412.65 L603.44,412.69 L603.66,412.74 L603.88,412.79 L604.10,412.84 L604.33,412.88 L604.55,412.93 L604.77,412.98 L604.99,413.02 L605.21,413.07 L605.44,413.11 L605.66,413.16 L605.88,413.20 L606.10,413.25 L606.33,413.29 L606.55,413.34 L606.77,413.38 L606.99,413.43 L607.21,413.47 L607.44,413.51 L607.66,413.56 L607.88,413.60 L608.10,413.64 L608.32,413.69 L608.55,413.73 L608.77,413.77 L608.99,413.81 L609.21,413.85 L609.44,413.89 L609.66,413.93 L609.88,413.97 L610.10,414.01 L610.32,414.05 L610.55,414.09 L610.77,414.13 L610.99,414.17 L611.21,414.21 L611.43,414.25 L611.66,414.28 L611.88,414.32 L612.10,414.36 L612.32,414.39 L612.55,414.43 L612.77,414.47 L612.99,414.50 L613.21,414.54 L613.43,414.57 L613.66,414.61 L613.88,414.64 L614.10,414.67 L614.32,414.71 L614.54,414.74 L614.77,414.77 L614.99,414.80 L615.21,414.83 L615.43,414.86 L615.66,414.89 L615.88,414.92 L616.10,414.95 L616.32,414.98 L616.54,415.01 L616.77,415.04 L616.99,415.07 L617.21,415.10 L617.43,415.13 L617.65,415.16 L617.88,415.18 L618.10,415.21 L618.32,415.24 L618.54,415.27 L618.77,415.29 L618.99,415.32 L619.21,415.35 L619.43,415.37 L619.65,415.40 L619.88,415.42 L620.10,415.45 L620.32,415.48 L620.54,415.50 L620.76,415.53 L620.99,415.55 L621.21,415.58 L621.43,415.60 L621.65,415.63 L621.88,415.65 L622.10,415.67 L622.32,415.70 L622.54,415.72 L622.76,415.75 L622.99,415.77 L623.21,415.79 L623.43,415.82 L623.65,415.84 L623.87,415.86 L624.10,415.89 L624.32,415.91 L624.54,415.93 L624.76,415.95 L624.99,415.97 L625.21,416.00 L625.43,416.02 L625.65,416.04 L625.87,416.06 L626.10,416.08 L626.32,416.11 L626.54,416.13 L626.76,416.15 L626.98,416.17 L627.21,416.19 L627.43,416.21 L627.65,416.23 L627.87,416.25 L628.10,416.27 L628.32,416.29 L628.54,416.31 L628.76,416.34 L628.98,416.36 L629.21,416.38 L629.43,416.40 L629.65,416.42 L629.87,416.44 L630.09,416.46 L630.32,416.48 L630.54,416.50 L630.76,416.52 L630.98,416.54 L631.21,416.56 L631.43,416.58 L631.65,416.59 L631.87,416.61 L632.09,416.63 L632.32,416.65 L632.54,416.67 L632.76,416.69 L632.98,416.71 L633.20,416.73 L633.43,416.75 L633.65,416.77 L633.87,416.79 L634.09,416.81 L634.32,416.83 L634.54,416.85 L634.76,416.87 L634.98,416.88 L635.20,416.90 L635.43,416.92 L635.65,416.94 L635.87,416.96 L636.09,416.98 L636.31,417.00 L636.54,417.02 L636.76,417.03 L636.98,417.05 L637.20,417.07 L637.43,417.09 L637.65,417.11 L637.87,417.12 L638.09,417.14 L638.31,417.16 L638.54,417.18 L638.76,417.20 L638.98,417.21 L639.20,417.23 L639.42,417.25 L639.65,417.26 L639.87,417.28 L640.09,417.30 L640.31,417.32 L640.54,417.33 L640.76,417.35 L640.98,417.37 L641.20,417.38 L641.42,417.40 L641.65,417.42 L641.87,417.43 L642.09,417.45 L642.31,417.47 L642.53,417.48 L642.76,417.50 L642.98,417.51 L643.20,417.53 L643.42,417.55 L643.65,417.56 L643.87,417.58 L644.09,417.59 L644.31,417.61 L644.53,417.62 L644.76,417.64 L644.98,417.65 L645.20,417.67 L645.42,417.68 L645.64,417.70 L645.87,417.71 L646.09,417.73 L646.31,417.74 L646.53,417.76 L646.76,417.77 L646.98,417.79 L647.20,417.80" stroke="#00aeef" stroke-width="3.4" fill="none" stroke-dasharray="14 13.6"/>
<path d="M381.7,72 V2.3" stroke="#00aeef" stroke-width="3.2" stroke-dasharray="14 13.6"/>
<path d="M380.6,72 V2.3" stroke="#1a1a1a" stroke-width="3.0"/>
<path d="M114.50,420.90 L114.72,420.89 L114.94,420.88 L115.17,420.87 L115.39,420.86 L115.61,420.86 L115.83,420.85 L116.06,420.84 L116.28,420.83 L116.50,420.82 L116.72,420.81 L116.94,420.80 L117.17,420.79 L117.39,420.78 L117.61,420.77 L117.83,420.76 L118.05,420.75 L118.28,420.74 L118.50,420.73 L118.72,420.71 L118.94,420.70 L119.17,420.69 L119.39,420.68 L119.61,420.67 L119.83,420.66 L120.05,420.65 L120.28,420.64 L120.50,420.63 L120.72,420.61 L120.94,420.60 L121.16,420.59 L121.39,420.58 L121.61,420.57 L121.83,420.55 L122.05,420.54 L122.28,420.53 L122.50,420.52 L122.72,420.50 L122.94,420.49 L123.16,420.48 L123.39,420.47 L123.61,420.45 L123.83,420.44 L124.05,420.43 L124.27,420.41 L124.50,420.40 L124.72,420.39 L124.94,420.37 L125.16,420.36 L125.39,420.35 L125.61,420.33 L125.83,420.32 L126.05,420.31 L126.27,420.29 L126.50,420.28 L126.72,420.26 L126.94,420.25 L127.16,420.24 L127.38,420.22 L127.61,420.21 L127.83,420.19 L128.05,420.18 L128.27,420.16 L128.50,420.15 L128.72,420.14 L128.94,420.12 L129.16,420.11 L129.38,420.09 L129.61,420.08 L129.83,420.06 L130.05,420.05 L130.27,420.03 L130.49,420.01 L130.72,420.00 L130.94,419.98 L131.16,419.97 L131.38,419.95 L131.61,419.94 L131.83,419.92 L132.05,419.91 L132.27,419.89 L132.49,419.87 L132.72,419.86 L132.94,419.84 L133.16,419.83 L133.38,419.81 L133.60,419.79 L133.83,419.78 L134.05,419.76 L134.27,419.75 L134.49,419.73 L134.72,419.71 L134.94,419.70 L135.16,419.68 L135.38,419.66 L135.60,419.65 L135.83,419.63 L136.05,419.61 L136.27,419.60 L136.49,419.58 L136.71,419.56 L136.94,419.54 L137.16,419.52 L137.38,419.51 L137.60,419.49 L137.83,419.47 L138.05,419.45 L138.27,419.43 L138.49,419.41 L138.71,419.39 L138.94,419.37 L139.16,419.35 L139.38,419.33 L139.60,419.31 L139.82,419.29 L140.05,419.27 L140.27,419.25 L140.49,419.23 L140.71,419.21 L140.94,419.19 L141.16,419.17 L141.38,419.15 L141.60,419.13 L141.82,419.11 L142.05,419.08 L142.27,419.06 L142.49,419.04 L142.71,419.02 L142.93,419.00 L143.16,418.98 L143.38,418.95 L143.60,418.93 L143.82,418.91 L144.05,418.89 L144.27,418.86 L144.49,418.84 L144.71,418.82 L144.93,418.80 L145.16,418.77 L145.38,418.75 L145.60,418.73 L145.82,418.70 L146.04,418.68 L146.27,418.66 L146.49,418.63 L146.71,418.61 L146.93,418.59 L147.16,418.56 L147.38,418.54 L147.60,418.52 L147.82,418.49 L148.04,418.47 L148.27,418.44 L148.49,418.42 L148.71,418.40 L148.93,418.37 L149.15,418.35 L149.38,418.32 L149.60,418.30 L149.82,418.28 L150.04,418.25 L150.27,418.23 L150.49,418.20 L150.71,418.18 L150.93,418.15 L151.15,418.13 L151.38,418.10 L151.60,418.08 L151.82,418.05 L152.04,418.03 L152.26,418.01 L152.49,417.98 L152.71,417.96 L152.93,417.93 L153.15,417.91 L153.38,417.88 L153.60,417.86 L153.82,417.83 L154.04,417.81 L154.26,417.78 L154.49,417.76 L154.71,417.73 L154.93,417.71 L155.15,417.68 L155.37,417.66 L155.60,417.63 L155.82,417.61 L156.04,417.58 L156.26,417.56 L156.49,417.53 L156.71,417.51 L156.93,417.49 L157.15,417.46 L157.37,417.44 L157.60,417.41 L157.82,417.39 L158.04,417.36 L158.26,417.34 L158.48,417.31 L158.71,417.29 L158.93,417.26 L159.15,417.24 L159.37,417.22 L159.60,417.19 L159.82,417.17 L160.04,417.14 L160.26,417.12 L160.48,417.09 L160.71,417.07 L160.93,417.04 L161.15,417.02 L161.37,417.00 L161.59,416.97 L161.82,416.95 L162.04,416.92 L162.26,416.90 L162.48,416.87 L162.71,416.85 L162.93,416.83 L163.15,416.80 L163.37,416.78 L163.59,416.75 L163.82,416.73 L164.04,416.70 L164.26,416.68 L164.48,416.65 L164.70,416.63 L164.93,416.60 L165.15,416.58 L165.37,416.55 L165.59,416.53 L165.82,416.50 L166.04,416.48 L166.26,416.45 L166.48,416.43 L166.70,416.40 L166.93,416.38 L167.15,416.35 L167.37,416.33 L167.59,416.30 L167.81,416.28 L168.04,416.25 L168.26,416.22 L168.48,416.20 L168.70,416.17 L168.93,416.15 L169.15,416.12 L169.37,416.09 L169.59,416.07 L169.81,416.04 L170.04,416.01 L170.26,415.99 L170.48,415.96 L170.70,415.93 L170.92,415.91 L171.15,415.88 L171.37,415.85 L171.59,415.83 L171.81,415.80 L172.04,415.77 L172.26,415.74 L172.48,415.72 L172.70,415.69 L172.92,415.66 L173.15,415.63 L173.37,415.60 L173.59,415.58 L173.81,415.55 L174.03,415.52 L174.26,415.49 L174.48,415.46 L174.70,415.43 L174.92,415.40 L175.15,415.37 L175.37,415.34 L175.59,415.31 L175.81,415.28 L176.03,415.25 L176.26,415.22 L176.48,415.19 L176.70,415.16 L176.92,415.13 L177.14,415.10 L177.37,415.07 L177.59,415.04 L177.81,415.01 L178.03,414.98 L178.26,414.95 L178.48,414.91 L178.70,414.88 L178.92,414.85 L179.14,414.82 L179.37,414.78 L179.59,414.75 L179.81,414.72 L180.03,414.69 L180.25,414.65 L180.48,414.62 L180.70,414.58 L180.92,414.55 L181.14,414.52 L181.37,414.48 L181.59,414.45 L181.81,414.41 L182.03,414.38 L182.25,414.34 L182.48,414.30 L182.70,414.27 L182.92,414.23 L183.14,414.19 L183.36,414.16 L183.59,414.12 L183.81,414.08 L184.03,414.04 L184.25,414.00 L184.48,413.96 L184.70,413.92 L184.92,413.89 L185.14,413.85 L185.36,413.81 L185.59,413.77 L185.81,413.72 L186.03,413.68 L186.25,413.64 L186.47,413.60 L186.70,413.56 L186.92,413.52 L187.14,413.48 L187.36,413.44 L187.59,413.39 L187.81,413.35 L188.03,413.31 L188.25,413.26 L188.47,413.22 L188.70,413.18 L188.92,413.13 L189.14,413.09 L189.36,413.05 L189.58,413.00 L189.81,412.96 L190.03,412.91 L190.25,412.87 L190.47,412.82 L190.70,412.78 L190.92,412.73 L191.14,412.69 L191.36,412.64 L191.58,412.60 L191.81,412.55 L192.03,412.50 L192.25,412.46 L192.47,412.41 L192.69,412.36 L192.92,412.32 L193.14,412.27 L193.36,412.22 L193.58,412.18 L193.81,412.13 L194.03,412.08 L194.25,412.03 L194.47,411.99 L194.69,411.94 L194.92,411.89 L195.14,411.84 L195.36,411.79 L195.58,411.75 L195.80,411.70 L196.03,411.65 L196.25,411.60 L196.47,411.55 L196.69,411.50 L196.92,411.45 L197.14,411.41 L197.36,411.36 L197.58,411.31 L197.80,411.26 L198.03,411.21 L198.25,411.16 L198.47,411.11 L198.69,411.06 L198.91,411.01 L199.14,410.96 L199.36,410.91 L199.58,410.86 L199.80,410.81 L200.03,410.76 L200.25,410.71 L200.47,410.66 L200.69,410.61 L200.91,410.56 L201.14,410.51 L201.36,410.46 L201.58,410.41 L201.80,410.36 L202.02,410.31 L202.25,410.26 L202.47,410.21 L202.69,410.16 L202.91,410.11 L203.14,410.06 L203.36,410.01 L203.58,409.96 L203.80,409.91 L204.02,409.86 L204.25,409.82 L204.47,409.77 L204.69,409.73 L204.91,409.69 L205.13,409.65 L205.36,409.60 L205.58,409.56 L205.80,409.52 L206.02,409.48 L206.25,409.45 L206.47,409.41 L206.69,409.37 L206.91,409.33 L207.13,409.29 L207.36,409.25 L207.58,409.21 L207.80,409.17 L208.02,409.13 L208.24,409.09 L208.47,409.05 L208.69,409.00 L208.91,408.96 L209.13,408.92 L209.36,408.87 L209.58,408.82 L209.80,408.77 L210.02,408.72 L210.24,408.67 L210.47,408.62 L210.69,408.56 L210.91,408.51 L211.13,408.45 L211.35,408.39 L211.58,408.33 L211.80,408.26 L212.02,408.19 L212.24,408.12 L212.47,408.05 L212.69,407.97 L212.91,407.90 L213.13,407.82 L213.35,407.73 L213.58,407.64 L213.80,407.55 L214.02,407.46 L214.24,407.36 L214.46,407.26 L214.69,407.16 L214.91,407.02 L215.13,406.84 L215.35,406.63 L215.58,406.40 L215.80,406.13 L216.02,405.85 L216.24,405.54 L216.46,405.10 L216.69,404.54 L216.91,403.97 L217.13,403.47 L217.35,403.14 L217.57,402.89 L217.80,402.68 L218.02,402.49 L218.24,402.32 L218.46,402.18 L218.69,402.06 L218.91,401.95 L219.13,401.86 L219.35,401.78 L219.57,401.71 L219.80,401.64 L220.02,401.58 L220.24,401.51 L220.46,401.45 L220.68,401.37 L220.91,401.30 L221.13,401.22 L221.35,401.15 L221.57,401.07 L221.80,401.00 L222.02,400.93 L222.24,400.86 L222.46,400.78 L222.68,400.71 L222.91,400.64 L223.13,400.57 L223.35,400.50 L223.57,400.43 L223.79,400.36 L224.02,400.28 L224.24,400.21 L224.46,400.14 L224.68,400.07 L224.91,400.00 L225.13,399.93 L225.35,399.86 L225.57,399.78 L225.79,399.71 L226.02,399.64 L226.24,399.57 L226.46,399.49 L226.68,399.42 L226.90,399.34 L227.13,399.27 L227.35,399.19 L227.57,399.12 L227.79,399.04 L228.02,398.96 L228.24,398.88 L228.46,398.80 L228.68,398.72 L228.90,398.64 L229.13,398.56 L229.35,398.48 L229.57,398.39 L229.79,398.31 L230.01,398.22 L230.24,398.14 L230.46,398.05 L230.68,397.96 L230.90,397.87 L231.13,397.78 L231.35,397.68 L231.57,397.59 L231.79,397.49 L232.01,397.39 L232.24,397.29 L232.46,397.19 L232.68,397.09 L232.90,396.99 L233.12,396.88 L233.35,396.78 L233.57,396.67 L233.79,396.56 L234.01,396.45 L234.24,396.34 L234.46,396.23 L234.68,396.11 L234.90,396.00 L235.12,395.88 L235.35,395.76 L235.57,395.64 L235.79,395.52 L236.01,395.40 L236.23,395.27 L236.46,395.15 L236.68,395.02 L236.90,394.89 L237.12,394.77 L237.35,394.63 L237.57,394.50 L237.79,394.37 L238.01,394.24 L238.23,394.10 L238.46,393.96 L238.68,393.82 L238.90,393.69 L239.12,393.54 L239.34,393.40 L239.57,393.26 L239.79,393.12 L240.01,392.97 L240.23,392.82 L240.46,392.67 L240.68,392.53 L240.90,392.38 L241.12,392.22 L241.34,392.07 L241.57,391.92 L241.79,391.76 L242.01,391.60 L242.23,391.45 L242.45,391.29 L242.68,391.13 L242.90,390.97 L243.12,390.81 L243.34,390.64 L243.57,390.48 L243.79,390.31 L244.01,390.14 L244.23,389.96 L244.45,389.79 L244.68,389.61 L244.90,389.43 L245.12,389.24 L245.34,389.05 L245.56,388.86 L245.79,388.67 L246.01,388.47 L246.23,388.28 L246.45,388.07 L246.68,387.87 L246.90,387.66 L247.12,387.45 L247.34,387.24 L247.56,387.03 L247.79,386.81 L248.01,386.59 L248.23,386.37 L248.45,386.14 L248.67,385.91 L248.90,385.68 L249.12,385.45 L249.34,385.21 L249.56,384.98 L249.79,384.73 L250.01,384.49 L250.23,384.25 L250.45,384.00 L250.67,383.75 L250.90,383.49 L251.12,383.23 L251.34,382.97 L251.56,382.71 L251.78,382.44 L252.01,382.16 L252.23,381.88 L252.45,381.59 L252.67,381.30 L252.90,381.00 L253.12,380.70 L253.34,380.39 L253.56,380.07 L253.78,379.75 L254.01,379.42 L254.23,379.08 L254.45,378.73 L254.67,378.37 L254.89,378.01 L255.12,377.63 L255.34,377.25 L255.56,376.85 L255.78,376.45 L256.01,376.03 L256.23,375.59 L256.45,375.15 L256.67,374.68 L256.89,374.21 L257.12,373.72 L257.34,373.21 L257.56,372.69 L257.78,372.15 L258.00,371.59 L258.23,371.01 L258.45,370.42 L258.67,369.80 L258.89,369.14 L259.12,368.44 L259.34,367.71 L259.56,366.93 L259.78,366.12 L260.00,365.28 L260.23,364.41 L260.45,363.51 L260.67,362.59 L260.89,361.65 L261.11,360.69 L261.34,359.72 L261.56,358.73 L261.78,357.68 L262.00,356.54 L262.23,355.34 L262.45,354.11 L262.67,352.87 L262.89,351.63 L263.11,350.43 L263.34,349.27 L263.56,348.19 L263.78,347.15 L264.00,346.07 L264.22,345.01 L264.45,344.02 L264.67,343.15 L264.89,342.46 L265.11,341.96 L265.34,341.51 L265.56,341.16 L265.78,341.00 L266.00,341.04 L266.22,341.15 L266.45,341.34 L266.67,341.57 L266.89,341.83 L267.11,342.11 L267.33,342.40 L267.56,342.67 L267.78,342.99 L268.00,343.36 L268.22,343.77 L268.45,344.21 L268.67,344.66 L268.89,345.11 L269.11,345.55 L269.33,345.96 L269.56,346.33 L269.78,346.65 L270.00,346.90 L270.22,347.11 L270.44,347.32 L270.67,347.53 L270.89,347.72 L271.11,347.89 L271.33,348.05 L271.56,348.17 L271.78,348.25 L272.00,348.30 L272.22,348.29 L272.44,348.26 L272.67,348.20 L272.89,348.10 L273.11,347.99 L273.33,347.85 L273.55,347.70 L273.78,347.54 L274.00,347.36 L274.22,347.17 L274.44,346.98 L274.67,346.79 L274.89,346.60 L275.11,346.40 L275.33,346.20 L275.55,345.97 L275.78,345.72 L276.00,345.45 L276.22,345.16 L276.44,344.86 L276.66,344.55 L276.89,344.22 L277.11,343.89 L277.33,343.54 L277.55,343.19 L277.78,342.83 L278.00,342.46 L278.22,341.89 L278.44,341.56 L278.66,341.23 L278.89,340.89 L279.11,340.54 L279.33,340.20 L279.55,339.85 L279.77,339.50 L280.00,339.14 L280.22,338.79 L280.44,338.43 L280.66,338.07 L280.89,337.71 L281.11,337.34 L281.33,336.98 L281.55,336.61 L281.77,336.25 L282.00,335.88 L282.22,335.51 L282.44,335.14 L282.66,334.77 L282.88,334.40 L283.11,334.03 L283.33,333.65 L283.55,333.28 L283.77,332.90 L284.00,332.53 L284.22,332.15 L284.44,331.77 L284.66,331.38 L284.88,331.00 L285.11,330.62 L285.33,330.23 L285.55,329.84 L285.77,329.45 L285.99,329.06 L286.22,328.66 L286.44,328.27 L286.66,327.87 L286.88,327.47 L287.11,327.07 L287.33,326.66 L287.55,326.26 L287.77,325.85 L287.99,325.44 L288.22,325.03 L288.44,324.61 L288.66,324.19 L288.88,323.77 L289.10,323.35 L289.33,322.92 L289.55,322.50 L289.77,322.06 L289.99,321.63 L290.22,321.19 L290.44,320.75 L290.66,320.31 L290.88,319.87 L291.10,319.42 L291.33,318.96 L291.55,318.51 L291.77,318.05 L291.99,317.59 L292.21,317.12 L292.44,316.65 L292.66,316.18 L292.88,315.70 L293.10,315.22 L293.33,314.74 L293.55,314.25 L293.77,313.76 L293.99,313.26 L294.21,312.76 L294.44,312.26 L294.66,311.75 L294.88,311.23 L295.10,310.72 L295.32,310.20 L295.55,309.67 L295.77,309.14 L295.99,308.61 L296.21,308.07 L296.44,307.53 L296.66,306.99 L296.88,306.44 L297.10,305.88 L297.32,305.33 L297.55,304.77 L297.77,304.20 L297.99,303.63 L298.21,303.06 L298.43,302.49 L298.66,301.91 L298.88,301.33 L299.10,300.74 L299.32,300.16 L299.55,299.56 L299.77,298.97 L299.99,298.38 L300.21,297.78 L300.43,297.18 L300.66,296.58 L300.88,295.97 L301.10,295.37 L301.32,294.76 L301.54,294.15 L301.77,293.54 L301.99,292.93 L302.21,292.32 L302.43,291.71 L302.66,291.09 L302.88,290.48 L303.10,289.86 L303.32,289.24 L303.54,288.62 L303.77,288.00 L303.99,287.38 L304.21,286.75 L304.43,286.13 L304.65,285.50 L304.88,284.87 L305.10,284.24 L305.32,283.60 L305.54,282.96 L305.77,282.32 L305.99,281.68 L306.21,281.03 L306.43,280.38 L306.65,279.73 L306.88,279.07 L307.10,278.40 L307.32,277.74 L307.54,277.07 L307.76,276.39 L307.99,275.71 L308.21,275.03 L308.43,274.33 L308.65,273.64 L308.88,272.94 L309.10,272.23 L309.32,271.52 L309.54,270.81 L309.76,270.09 L309.99,269.36 L310.21,268.63 L310.43,267.89 L310.65,267.15 L310.87,266.40 L311.10,265.65 L311.32,264.90 L311.54,264.13 L311.76,263.37 L311.99,262.60 L312.21,261.83 L312.43,261.05 L312.65,260.26 L312.87,259.48 L313.10,258.69 L313.32,257.89 L313.54,257.09 L313.76,256.29 L313.98,255.48 L314.21,254.67 L314.43,253.86 L314.65,253.04 L314.87,252.22 L315.10,251.40 L315.32,250.57 L315.54,249.74 L315.76,248.91 L315.98,248.07 L316.21,247.23 L316.43,246.38 L316.65,245.53 L316.87,244.68 L317.09,243.82 L317.32,242.97 L317.54,242.10 L317.76,241.24 L317.98,240.37 L318.21,239.50 L318.43,238.63 L318.65,237.75 L318.87,236.87 L319.09,235.99 L319.32,235.10 L319.54,234.22 L319.76,233.33 L319.98,232.44 L320.20,231.55 L320.43,230.66 L320.65,229.77 L320.87,228.87 L321.09,227.98 L321.32,227.08 L321.54,226.19 L321.76,225.29 L321.98,224.40 L322.20,223.50 L322.43,222.61 L322.65,221.72 L322.87,220.82 L323.09,219.93 L323.31,219.04 L323.54,218.15 L323.76,217.26 L323.98,216.37 L324.20,215.49 L324.43,214.60 L324.65,213.71 L324.87,212.83 L325.09,211.94 L325.31,211.06 L325.54,210.18 L325.76,209.29 L325.98,208.41 L326.20,207.53 L326.42,206.65 L326.65,205.76 L326.87,204.88 L327.09,204.00 L327.31,203.11 L327.54,202.23 L327.76,201.34 L327.98,200.45 L328.20,199.56 L328.42,198.67 L328.65,197.78 L328.87,196.88 L329.09,195.98 L329.31,195.08 L329.53,194.18 L329.76,193.28 L329.98,192.37 L330.20,191.46 L330.42,190.55 L330.65,189.63 L330.87,188.71 L331.09,187.79 L331.31,186.87 L331.53,185.95 L331.76,185.02 L331.98,184.09 L332.20,183.16 L332.42,182.22 L332.64,181.29 L332.87,180.35 L333.09,179.41 L333.31,178.47 L333.53,177.52 L333.76,176.58 L333.98,175.64 L334.20,174.69 L334.42,173.75 L334.64,172.80 L334.87,171.86 L335.09,170.91 L335.31,169.96 L335.53,169.02 L335.75,168.07 L335.98,167.13 L336.20,166.19 L336.42,165.25 L336.64,164.30 L336.87,163.37 L337.09,162.43 L337.31,161.49 L337.53,160.55 L337.75,159.62 L337.98,158.69 L338.20,157.76 L338.42,156.83 L338.64,155.90 L338.86,154.97 L339.09,154.05 L339.31,153.13 L339.53,152.21 L339.75,151.29 L339.98,150.38 L340.20,149.47 L340.42,148.56 L340.64,147.65 L340.86,146.75 L341.09,145.84 L341.31,144.95 L341.53,144.05 L341.75,143.16 L341.97,142.27 L342.20,141.38 L342.42,140.50 L342.64,139.62 L342.86,138.74 L343.09,137.87 L343.31,137.00 L343.53,136.14 L343.75,135.28 L343.97,134.43 L344.20,133.57 L344.42,132.73 L344.64,131.88 L344.86,131.04 L345.08,130.21 L345.31,129.38 L345.53,128.55 L345.75,127.73 L345.97,126.91 L346.20,126.10 L346.42,125.29 L346.64,124.49 L346.86,123.69 L347.08,122.90 L347.31,122.11 L347.53,121.33 L347.75,120.55 L347.97,119.78 L348.19,119.01 L348.42,118.24 L348.64,117.48 L348.86,116.73 L349.08,115.98 L349.31,115.24 L349.53,114.50 L349.75,113.77 L349.97,113.04 L350.19,112.32 L350.42,111.60 L350.64,110.89 L350.86,110.19 L351.08,109.49 L351.30,108.79 L351.53,108.10 L351.75,107.42 L351.97,106.74 L352.19,106.07 L352.42,105.40 L352.64,104.74 L352.86,104.08 L353.08,103.43 L353.30,102.78 L353.53,102.15 L353.75,101.51 L353.97,100.89 L354.19,100.27 L354.41,99.65 L354.64,99.05 L354.86,98.45 L355.08,97.85 L355.30,97.27 L355.53,96.69 L355.75,96.12 L355.97,95.56 L356.19,95.01 L356.41,94.47 L356.64,93.93 L356.86,93.40 L357.08,92.89 L357.30,92.38 L357.52,91.88 L357.75,91.39 L357.97,90.90 L358.19,90.43 L358.41,89.97 L358.64,89.51 L358.86,89.07 L359.08,88.63 L359.30,88.21 L359.52,87.79 L359.75,87.38 L359.97,86.97 L360.19,86.58 L360.41,86.19 L360.63,85.82 L360.86,85.44 L361.08,85.08 L361.30,84.72 L361.52,84.37 L361.75,84.03 L361.97,83.69 L362.19,83.08 L362.41,82.76 L362.63,82.44 L362.86,82.13 L363.08,81.82 L363.30,81.52 L363.52,81.23 L363.74,80.94 L363.97,80.65 L364.19,80.37 L364.41,80.10 L364.63,79.83 L364.86,79.57 L365.08,79.31 L365.30,79.06 L365.52,78.81 L365.74,78.58 L365.97,78.34 L366.19,78.12 L366.41,77.89 L366.63,77.68 L366.85,77.47 L367.08,77.27 L367.30,77.07 L367.52,76.88 L367.74,76.69 L367.97,76.51 L368.19,76.32 L368.41,76.14 L368.63,75.96 L368.85,75.78 L369.08,75.60 L369.30,75.42 L369.52,75.25 L369.74,75.08 L369.96,74.92 L370.19,74.75 L370.41,74.59 L370.63,74.44 L370.85,74.29 L371.08,74.14 L371.30,74.00 L371.52,73.87 L371.74,73.74 L371.96,73.61 L372.19,73.50 L372.41,73.39 L372.63,73.28 L372.85,73.18 L373.07,73.09 L373.30,73.01 L373.52,72.93 L373.74,72.87 L373.96,72.81 L374.19,72.76 L374.41,72.70 L374.63,72.65 L374.85,72.60 L375.07,72.55 L375.30,72.50 L375.52,72.46 L375.74,72.41 L375.96,72.36 L376.18,72.32 L376.41,72.27 L376.63,72.23 L376.85,72.19 L377.07,72.15 L377.30,72.12 L377.52,72.08 L377.74,72.05 L377.96,72.02 L378.18,71.99 L378.41,71.96 L378.63,71.93 L378.85,71.91 L379.07,71.89 L379.29,71.87 L379.52,71.85 L379.74,71.83 L379.96,71.82 L380.18,71.81 L380.41,71.81 L380.63,71.80 L380.85,71.80 L381.07,71.80 L381.29,71.82 L381.52,71.83 L381.74,71.86 L381.96,71.89 L382.18,71.93 L382.41,71.98 L382.63,72.03 L382.85,72.09 L383.07,72.16 L383.29,72.23 L383.52,72.31 L383.74,72.39 L383.96,72.48 L384.18,72.57 L384.40,72.67 L384.63,72.77 L384.85,72.88 L385.07,72.99 L385.29,73.10 L385.52,73.22 L385.74,73.34 L385.96,73.47 L386.18,73.60 L386.40,73.73 L386.63,73.87 L386.85,74.00 L387.07,74.14 L387.29,74.28 L387.51,74.43 L387.74,74.58 L387.96,74.72 L388.18,74.87 L388.40,75.02 L388.63,75.17 L388.85,75.33 L389.07,75.48 L389.29,75.64 L389.51,75.81 L389.74,76.00 L389.96,76.20 L390.18,76.41 L390.40,76.64 L390.62,76.88 L390.85,77.13 L391.07,77.39 L391.29,77.66 L391.51,77.95 L391.74,78.24 L391.96,78.54 L392.18,78.86 L392.40,79.18 L392.62,79.51 L392.85,79.85 L393.07,80.20 L393.29,80.55 L393.51,80.91 L393.73,81.28 L393.96,81.65 L394.18,82.03 L394.40,82.42 L394.62,82.81 L394.85,83.20 L395.07,83.60 L395.29,84.00 L395.51,84.40 L395.73,84.81 L395.96,85.22 L396.18,85.63 L396.40,86.05 L396.62,86.46 L396.84,86.88 L397.07,87.29 L397.29,87.71 L397.51,88.12 L397.73,88.54 L397.96,88.97 L398.18,89.72 L398.40,90.18 L398.62,90.65 L398.84,91.12 L399.07,91.60 L399.29,92.09 L399.51,92.58 L399.73,93.07 L399.95,93.58 L400.18,94.09 L400.40,94.61 L400.62,95.13 L400.84,95.66 L401.07,96.20 L401.29,96.74 L401.51,97.29 L401.73,97.85 L401.95,98.42 L402.18,98.99 L402.40,99.58 L402.62,100.17 L402.84,100.77 L403.06,101.37 L403.29,101.99 L403.51,102.61 L403.73,103.24 L403.95,103.88 L404.18,104.53 L404.40,105.18 L404.62,105.85 L404.84,106.52 L405.06,107.20 L405.29,107.89 L405.51,108.58 L405.73,109.29 L405.95,110.00 L406.17,110.72 L406.40,111.45 L406.62,112.18 L406.84,112.92 L407.06,113.67 L407.29,114.42 L407.51,115.18 L407.73,115.95 L407.95,116.72 L408.17,117.49 L408.40,118.27 L408.62,119.06 L408.84,119.85 L409.06,120.64 L409.28,121.44 L409.51,122.24 L409.73,123.05 L409.95,123.85 L410.17,124.66 L410.40,125.48 L410.62,126.29 L410.84,127.11 L411.06,127.93 L411.28,128.75 L411.51,129.58 L411.73,130.40 L411.95,131.23 L412.17,132.06 L412.39,132.89 L412.62,133.73 L412.84,134.56 L413.06,135.40 L413.28,136.24 L413.51,137.09 L413.73,137.93 L413.95,138.78 L414.17,139.63 L414.39,140.48 L414.62,141.34 L414.84,142.19 L415.06,143.05 L415.28,143.91 L415.50,144.78 L415.73,145.64 L415.95,146.51 L416.17,147.38 L416.39,148.25 L416.62,149.13 L416.84,150.00 L417.06,150.88 L417.28,151.76 L417.50,152.64 L417.73,153.53 L417.95,154.41 L418.17,155.29 L418.39,156.18 L418.61,157.07 L418.84,157.96 L419.06,158.84 L419.28,159.73 L419.50,160.62 L419.73,161.51 L419.95,162.40 L420.17,163.29 L420.39,164.18 L420.61,165.07 L420.84,165.95 L421.06,166.84 L421.28,167.73 L421.50,168.62 L421.72,169.51 L421.95,170.39 L422.17,171.28 L422.39,172.17 L422.61,173.06 L422.84,173.95 L423.06,174.85 L423.28,175.74 L423.50,176.64 L423.72,177.54 L423.95,178.44 L424.17,179.34 L424.39,180.25 L424.61,181.17 L424.83,182.09 L425.06,183.01 L425.28,183.94 L425.50,184.88 L425.72,185.82 L425.95,186.77 L426.17,187.73 L426.39,188.69 L426.61,189.66 L426.83,190.64 L427.06,191.63 L427.28,192.62 L427.50,193.62 L427.72,194.62 L427.94,195.64 L428.17,196.65 L428.39,197.68 L428.61,198.71 L428.83,199.74 L429.06,200.78 L429.28,201.81 L429.50,202.86 L429.72,203.90 L429.94,204.94 L430.17,205.99 L430.39,207.03 L430.61,208.08 L430.83,209.12 L431.05,210.16 L431.28,211.19 L431.50,212.22 L431.72,213.25 L431.94,214.28 L432.17,215.29 L432.39,216.31 L432.61,217.31 L432.83,218.31 L433.05,219.30 L433.28,220.29 L433.50,221.27 L433.72,222.24 L433.94,223.21 L434.16,224.16 L434.39,225.12 L434.61,226.06 L434.83,227.00 L435.05,227.93 L435.28,228.85 L435.50,229.77 L435.72,230.68 L435.94,231.58 L436.16,232.48 L436.39,233.37 L436.61,234.26 L436.83,235.14 L437.05,236.02 L437.27,236.89 L437.50,237.75 L437.72,238.61 L437.94,239.46 L438.16,240.31 L438.39,241.16 L438.61,242.00 L438.83,242.83 L439.05,243.66 L439.27,244.48 L439.50,245.30 L439.72,246.12 L439.94,246.93 L440.16,247.73 L440.38,248.54 L440.61,249.33 L440.83,250.12 L441.05,250.91 L441.27,251.70 L441.50,252.47 L441.72,253.25 L441.94,254.02 L442.16,254.79 L442.38,255.55 L442.61,256.31 L442.83,257.06 L443.05,257.82 L443.27,258.56 L443.49,259.31 L443.72,260.05 L443.94,260.79 L444.16,261.52 L444.38,262.26 L444.61,262.98 L444.83,263.71 L445.05,264.43 L445.27,265.15 L445.49,265.87 L445.72,266.59 L445.94,267.30 L446.16,268.01 L446.38,268.72 L446.60,269.43 L446.83,270.13 L447.05,270.84 L447.27,271.54 L447.49,272.24 L447.72,272.94 L447.94,273.63 L448.16,274.33 L448.38,275.02 L448.60,275.72 L448.83,276.41 L449.05,277.10 L449.27,277.79 L449.49,278.47 L449.71,279.16 L449.94,279.84 L450.16,280.53 L450.38,281.21 L450.60,281.89 L450.83,282.56 L451.05,283.24 L451.27,283.91 L451.49,284.58 L451.71,285.25 L451.94,285.92 L452.16,286.58 L452.38,287.24 L452.60,287.89 L452.82,288.55 L453.05,289.20 L453.27,289.84 L453.49,290.48 L453.71,291.12 L453.94,291.75 L454.16,292.38 L454.38,293.00 L454.60,293.62 L454.82,294.23 L455.05,294.84 L455.27,295.44 L455.49,296.04 L455.71,296.63 L455.93,297.21 L456.16,297.78 L456.38,298.35 L456.60,298.92 L456.82,299.47 L457.05,300.02 L457.27,300.57 L457.49,301.10 L457.71,301.63 L457.93,302.16 L458.16,302.67 L458.38,303.18 L458.60,303.69 L458.82,304.19 L459.04,304.68 L459.27,305.16 L459.49,305.64 L459.71,306.12 L459.93,306.59 L460.16,307.05 L460.38,307.51 L460.60,307.97 L460.82,308.42 L461.04,308.87 L461.27,309.31 L461.49,309.75 L461.71,310.19 L461.93,310.62 L462.15,311.05 L462.38,311.48 L462.60,311.91 L462.82,312.33 L463.04,312.75 L463.27,313.17 L463.49,313.59 L463.71,314.01 L463.93,314.43 L464.15,314.84 L464.38,315.26 L464.60,315.67 L464.82,316.08 L465.04,316.49 L465.26,316.90 L465.49,317.31 L465.71,317.72 L465.93,318.12 L466.15,318.53 L466.38,318.94 L466.60,319.34 L466.82,319.74 L467.04,320.14 L467.26,320.54 L467.49,320.94 L467.71,321.34 L467.93,321.73 L468.15,322.13 L468.37,322.52 L468.60,322.91 L468.82,323.30 L469.04,323.69 L469.26,324.08 L469.49,324.46 L469.71,324.84 L469.93,325.22 L470.15,325.60 L470.37,325.98 L470.60,326.35 L470.82,326.73 L471.04,327.10 L471.26,327.47 L471.48,327.83 L471.71,328.20 L471.93,328.56 L472.15,328.93 L472.37,329.29 L472.60,329.65 L472.82,330.01 L473.04,330.36 L473.26,330.72 L473.48,331.07 L473.71,331.43 L473.93,331.78 L474.15,332.17 L474.37,332.52 L474.59,332.86 L474.82,333.21 L475.04,333.55 L475.26,333.89 L475.48,334.23 L475.71,334.58 L475.93,334.92 L476.15,335.26 L476.37,335.60 L476.59,335.94 L476.82,336.29 L477.04,336.64 L477.26,336.99 L477.48,337.35 L477.70,337.71 L477.93,338.06 L478.15,338.42 L478.37,338.78 L478.59,339.14 L478.82,339.50 L479.04,339.86 L479.26,340.22 L479.48,340.57 L479.70,340.92 L479.93,341.27 L480.15,341.61 L480.37,341.95 L480.59,342.29 L480.81,342.61 L481.04,342.94 L481.26,343.25 L481.48,343.56 L481.70,343.86 L481.93,344.15 L482.15,344.44 L482.37,344.71 L482.59,344.97 L482.81,345.23 L483.04,345.48 L483.26,345.74 L483.48,345.98 L483.70,346.23 L483.92,346.46 L484.15,346.69 L484.37,346.91 L484.59,347.11 L484.81,347.31 L485.04,347.48 L485.26,347.64 L485.48,347.79 L485.70,347.92 L485.92,348.06 L486.15,348.19 L486.37,348.32 L486.59,348.43 L486.81,348.51 L487.03,348.57 L487.26,348.60 L487.48,348.58 L487.70,348.52 L487.92,348.41 L488.15,348.28 L488.37,348.12 L488.59,347.94 L488.81,347.76 L489.03,347.57 L489.26,347.34 L489.48,347.05 L489.70,346.73 L489.92,346.40 L490.14,346.10 L490.37,345.83 L490.59,345.61 L490.81,345.38 L491.03,345.14 L491.26,344.91 L491.48,344.69 L491.70,344.48 L491.92,344.29 L492.14,344.12 L492.37,343.98 L492.59,343.88 L492.81,343.82 L493.03,343.80 L493.25,343.82 L493.48,343.87 L493.70,343.95 L493.92,344.04 L494.14,344.16 L494.37,344.30 L494.59,344.45 L494.81,344.61 L495.03,344.84 L495.25,345.18 L495.48,345.60 L495.70,346.08 L495.92,346.60 L496.14,347.13 L496.36,347.65 L496.59,348.21 L496.81,348.82 L497.03,349.47 L497.25,350.16 L497.48,350.86 L497.70,351.57 L497.92,352.29 L498.14,353.00 L498.36,353.70 L498.59,354.43 L498.81,355.18 L499.03,355.95 L499.25,356.73 L499.47,357.49 L499.70,358.23 L499.92,358.93 L500.14,359.57 L500.36,360.16 L500.59,360.71 L500.81,361.24 L501.03,361.76 L501.25,362.25 L501.47,362.72 L501.70,363.18 L501.92,363.63 L502.14,364.06 L502.36,364.47 L502.58,364.87 L502.81,365.27 L503.03,365.06 L503.25,365.47 L503.47,365.87 L503.70,366.26 L503.92,366.64 L504.14,367.01 L504.36,367.37 L504.58,367.72 L504.81,368.07 L505.03,368.41 L505.25,368.74 L505.47,369.06 L505.69,369.38 L505.92,369.70 L506.14,370.01 L506.36,370.31 L506.58,370.61 L506.81,370.91 L507.03,371.21 L507.25,371.50 L507.47,371.78 L507.69,372.07 L507.92,372.35 L508.14,372.63 L508.36,372.90 L508.58,373.18 L508.80,373.45 L509.03,373.71 L509.25,373.98 L509.47,374.24 L509.69,374.50 L509.92,374.76 L510.14,375.01 L510.36,375.26 L510.58,375.51 L510.80,375.76 L511.03,376.00 L511.25,376.24 L511.47,376.48 L511.69,376.71 L511.91,376.95 L512.14,377.17 L512.36,377.40 L512.58,377.62 L512.80,377.84 L513.03,378.06 L513.25,378.28 L513.47,378.49 L513.69,378.70 L513.91,378.91 L514.14,379.11 L514.36,379.32 L514.58,379.52 L514.80,379.72 L515.02,379.91 L515.25,380.11 L515.47,380.30 L515.69,380.49 L515.91,380.68 L516.14,380.87 L516.36,381.05 L516.58,381.24 L516.80,381.42 L517.02,381.60 L517.25,381.78 L517.47,381.96 L517.69,382.14 L517.91,382.32 L518.13,382.49 L518.36,382.67 L518.58,382.84 L518.80,383.01 L519.02,383.18 L519.25,383.35 L519.47,383.52 L519.69,383.69 L519.91,383.86 L520.13,384.03 L520.36,384.19 L520.58,384.36 L520.80,384.52 L521.02,384.69 L521.24,384.85 L521.47,385.02 L521.69,385.18 L521.91,385.34 L522.13,385.50 L522.36,385.66 L522.58,385.82 L522.80,385.98 L523.02,386.14 L523.24,386.30 L523.47,386.45 L523.69,386.61 L523.91,386.77 L524.13,386.92 L524.35,387.08 L524.58,387.23 L524.80,387.39 L525.02,387.54 L525.24,387.69 L525.47,387.84 L525.69,388.00 L525.91,388.15 L526.13,388.30 L526.35,388.45 L526.58,388.60 L526.80,388.75 L527.02,388.89 L527.24,389.04 L527.46,389.19 L527.69,389.34 L527.91,389.48 L528.13,389.63 L528.35,389.77 L528.58,389.92 L528.80,390.06 L529.02,390.20 L529.24,390.35 L529.46,390.49 L529.69,390.63 L529.91,390.77 L530.13,390.91 L530.35,391.05 L530.57,391.19 L530.80,391.33 L531.02,391.47 L531.24,391.61 L531.46,391.75 L531.69,391.88 L531.91,392.02 L532.13,392.16 L532.35,392.29 L532.57,392.43 L532.80,392.56 L533.02,392.69 L533.24,392.83 L533.46,392.96 L533.68,393.09 L533.91,393.22 L534.13,393.35 L534.35,393.48 L534.57,393.61 L534.80,393.74 L535.02,393.87 L535.24,394.00 L535.46,394.12 L535.68,394.25 L535.91,394.38 L536.13,394.50 L536.35,394.63 L536.57,394.75 L536.79,394.87 L537.02,394.99 L537.24,395.12 L537.46,395.24 L537.68,395.36 L537.91,395.48 L538.13,395.59 L538.35,395.71 L538.57,395.83 L538.79,395.95 L539.02,396.06 L539.24,396.18 L539.46,396.29 L539.68,396.41 L539.90,396.52 L540.13,396.63 L540.35,396.74 L540.57,396.86 L540.79,396.97 L541.02,397.08 L541.24,397.19 L541.46,397.30 L541.68,397.41 L541.90,397.52 L542.13,397.62 L542.35,397.73 L542.57,397.84 L542.79,397.95 L543.01,398.06 L543.24,398.17 L543.46,398.28 L543.68,398.39 L543.90,398.50 L544.13,398.58 L544.35,398.68 L544.57,398.78 L544.79,398.88 L545.01,398.98 L545.24,399.08 L545.46,399.19 L545.68,399.29 L545.90,399.41 L546.12,399.52 L546.35,399.64 L546.57,399.76 L546.79,399.89 L547.01,400.02 L547.24,400.16 L547.46,400.30 L547.68,400.46 L547.90,400.63 L548.12,400.81 L548.35,401.00 L548.57,401.20 L548.79,401.40 L549.01,401.61 L549.23,401.84 L549.46,402.09 L549.68,402.35 L549.90,402.60 L550.12,402.84 L550.35,403.06 L550.57,403.25 L550.79,403.43 L551.01,403.60 L551.23,403.77 L551.46,403.93 L551.68,404.08 L551.90,404.23 L552.12,404.37 L552.34,404.51 L552.57,404.65 L552.79,404.78 L553.01,404.90 L553.23,405.02 L553.46,405.14 L553.68,405.25 L553.90,405.35 L554.12,405.46 L554.34,405.56 L554.57,405.65 L554.79,405.75 L555.01,405.84 L555.23,405.93 L555.45,406.01 L555.68,406.10 L555.90,406.18 L556.12,406.26 L556.34,406.34 L556.57,406.41 L556.79,406.49 L557.01,406.56 L557.23,406.64 L557.45,406.71 L557.68,406.78 L557.90,406.85 L558.12,406.92 L558.34,406.99 L558.56,407.06 L558.79,407.12 L559.01,407.19 L559.23,407.26 L559.45,407.33 L559.68,407.40 L559.90,407.47 L560.12,407.54 L560.34,407.61 L560.56,407.68 L560.79,407.74 L561.01,407.81 L561.23,407.88 L561.45,407.95 L561.67,408.01 L561.90,408.08 L562.12,408.15 L562.34,408.21 L562.56,408.28 L562.79,408.34 L563.01,408.41 L563.23,408.47 L563.45,408.54 L563.67,408.60 L563.90,408.66 L564.12,408.72 L564.34,408.79 L564.56,408.85 L564.78,408.91 L565.01,408.97 L565.23,409.04 L565.45,409.10 L565.67,409.16 L565.90,409.22 L566.12,409.28 L566.34,409.34 L566.56,409.40 L566.78,409.46 L567.01,409.52 L567.23,409.58 L567.45,409.64 L567.67,409.69 L567.89,409.75 L568.12,409.81 L568.34,409.87 L568.56,409.93 L568.78,409.99 L569.01,410.04 L569.23,410.10 L569.45,410.16 L569.67,410.22 L569.89,410.27 L570.12,410.33 L570.34,410.39 L570.56,410.44 L570.78,410.50 L571.00,410.56 L571.23,410.61 L571.45,410.67 L571.67,410.73 L571.89,410.78 L572.12,410.84 L572.34,410.90 L572.56,410.95 L572.78,411.01 L573.00,411.07 L573.23,411.12 L573.45,411.18 L573.67,411.23 L573.89,411.29 L574.11,411.34 L574.34,411.40 L574.56,411.45 L574.78,411.51 L575.00,411.56 L575.23,411.62 L575.45,411.67 L575.67,411.72 L575.89,411.78 L576.11,411.83 L576.34,411.88 L576.56,411.93 L576.78,411.99 L577.00,412.04 L577.22,412.09 L577.45,412.14 L577.67,412.19 L577.89,412.24 L578.11,412.29 L578.34,412.34 L578.56,412.39 L578.78,412.44 L579.00,412.49 L579.22,412.53 L579.45,412.58 L579.67,412.63 L579.89,412.68 L580.11,412.72 L580.33,412.77 L580.56,412.81 L580.78,412.86 L581.00,412.90 L581.22,412.94 L581.45,412.99 L581.67,413.03 L581.89,413.07 L582.11,413.12 L582.33,413.16 L582.56,413.20 L582.78,413.24 L583.00,413.28 L583.22,413.32 L583.44,413.36 L583.67,413.41 L583.89,413.45 L584.11,413.49 L584.33,413.53 L584.56,413.57 L584.78,413.61 L585.00,413.64 L585.22,413.68 L585.44,413.72 L585.67,413.76 L585.89,413.80 L586.11,413.84 L586.33,413.87 L586.55,413.91 L586.78,413.95 L587.00,413.99 L587.22,414.02 L587.44,414.06 L587.67,414.10 L587.89,414.13 L588.11,414.17 L588.33,414.20 L588.55,414.24 L588.78,414.28 L589.00,414.31 L589.22,414.35 L589.44,414.38 L589.66,414.42 L589.89,414.45 L590.11,414.48 L590.33,414.52 L590.55,414.55 L590.78,414.59 L591.00,414.62 L591.22,414.65 L591.44,414.69 L591.66,414.72 L591.89,414.75 L592.11,414.78 L592.33,414.82 L592.55,414.85 L592.77,414.88 L593.00,414.91 L593.22,414.95 L593.44,414.98 L593.66,415.01 L593.89,415.04 L594.11,415.07 L594.33,415.10 L594.55,415.14 L594.77,415.17 L595.00,415.20 L595.22,415.23 L595.44,415.26 L595.66,415.29 L595.88,415.32 L596.11,415.35 L596.33,415.38 L596.55,415.41 L596.77,415.44 L597.00,415.47 L597.22,415.50 L597.44,415.53 L597.66,415.56 L597.88,415.59 L598.11,415.62 L598.33,415.65 L598.55,415.68 L598.77,415.71 L598.99,415.74 L599.22,415.77 L599.44,415.80 L599.66,415.83 L599.88,415.86 L600.11,415.89 L600.33,415.92 L600.55,415.95 L600.77,415.97 L600.99,416.00 L601.22,416.03 L601.44,416.06 L601.66,416.09 L601.88,416.12 L602.10,416.14 L602.33,416.17 L602.55,416.20 L602.77,416.23 L602.99,416.26 L603.22,416.28 L603.44,416.31 L603.66,416.34 L603.88,416.37 L604.10,416.39 L604.33,416.42 L604.55,416.45 L604.77,416.47 L604.99,416.50 L605.21,416.53 L605.44,416.55 L605.66,416.58 L605.88,416.61 L606.10,416.63 L606.33,416.66 L606.55,416.69 L606.77,416.71 L606.99,416.74 L607.21,416.77 L607.44,416.79 L607.66,416.82 L607.88,416.84 L608.10,416.87 L608.32,416.89 L608.55,416.92 L608.77,416.95 L608.99,416.97 L609.21,417.00 L609.44,417.02 L609.66,417.05 L609.88,417.07 L610.10,417.10 L610.32,417.12 L610.55,417.15 L610.77,417.17 L610.99,417.20 L611.21,417.22 L611.43,417.25 L611.66,417.27 L611.88,417.29 L612.10,417.32 L612.32,417.34 L612.55,417.37 L612.77,417.39 L612.99,417.41 L613.21,417.44 L613.43,417.46 L613.66,417.49 L613.88,417.51 L614.10,417.53 L614.32,417.56 L614.54,417.58 L614.77,417.60 L614.99,417.63 L615.21,417.65 L615.43,417.67 L615.66,417.70 L615.88,417.72 L616.10,417.74 L616.32,417.76 L616.54,417.79 L616.77,417.81 L616.99,417.83 L617.21,417.85 L617.43,417.88 L617.65,417.90 L617.88,417.92 L618.10,417.94 L618.32,417.97 L618.54,417.99 L618.77,418.01 L618.99,418.03 L619.21,418.05 L619.43,418.08 L619.65,418.10 L619.88,418.12 L620.10,418.14 L620.32,418.16 L620.54,418.18 L620.76,418.20 L620.99,418.23 L621.21,418.25 L621.43,418.27 L621.65,418.29 L621.88,418.31 L622.10,418.33 L622.32,418.35 L622.54,418.37 L622.76,418.39 L622.99,418.41 L623.21,418.43 L623.43,418.45 L623.65,418.47 L623.87,418.49 L624.10,418.51 L624.32,418.53 L624.54,418.55 L624.76,418.57 L624.99,418.59 L625.21,418.61 L625.43,418.63 L625.65,418.65 L625.87,418.67 L626.10,418.69 L626.32,418.71 L626.54,418.72 L626.76,418.74 L626.98,418.76 L627.21,418.78 L627.43,418.80 L627.65,418.82 L627.87,418.83 L628.10,418.85 L628.32,418.87 L628.54,418.89 L628.76,418.90 L628.98,418.92 L629.21,418.94 L629.43,418.96 L629.65,418.97 L629.87,418.99 L630.09,419.01 L630.32,419.02 L630.54,419.04 L630.76,419.06 L630.98,419.07 L631.21,419.09 L631.43,419.11 L631.65,419.12 L631.87,419.14 L632.09,419.16 L632.32,419.17 L632.54,419.19 L632.76,419.20 L632.98,419.22 L633.20,419.24 L633.43,419.25 L633.65,419.27 L633.87,419.28 L634.09,419.30 L634.32,419.32 L634.54,419.33 L634.76,419.35 L634.98,419.36 L635.20,419.38 L635.43,419.39 L635.65,419.41 L635.87,419.42 L636.09,419.44 L636.31,419.45 L636.54,419.47 L636.76,419.48 L636.98,419.50 L637.20,419.51 L637.43,419.53 L637.65,419.54 L637.87,419.56 L638.09,419.57 L638.31,419.59 L638.54,419.60 L638.76,419.62 L638.98,419.63 L639.20,419.65 L639.42,419.66 L639.65,419.67 L639.87,419.69 L640.09,419.70 L640.31,419.72 L640.54,419.73 L640.76,419.74 L640.98,419.76 L641.20,419.77 L641.42,419.78 L641.65,419.80 L641.87,419.81 L642.09,419.82 L642.31,419.84 L642.53,419.85 L642.76,419.86 L642.98,419.87 L643.20,419.89 L643.42,419.90 L643.65,419.91 L643.87,419.92 L644.09,419.94 L644.31,419.95 L644.53,419.96 L644.76,419.97 L644.98,419.99 L645.20,420.00 L645.42,420.01 L645.64,420.02 L645.87,420.03 L646.09,420.04 L646.31,420.06 L646.53,420.07 L646.76,420.08 L646.98,420.09 L647.20,420.10" stroke="#1a1a1a" stroke-width="3.0" fill="none" stroke-linejoin="round"/>
</g>
<rect x="135.5" y="49.6" width="131.10000000000002" height="161.9" fill="#fff" stroke="#c4c4c4" stroke-width="1.1"/>
<path d="M188.7,49.6 v2 M188.7,211.5 v-2 M242.4,49.6 v2 M242.4,211.5 v-2 M135.5,77.5 h2 M266.6,77.5 h-2 M135.5,125.3 h2 M266.6,125.3 h-2 M135.5,172.3 h2 M266.6,172.3 h-2" stroke="#c4c4c4" stroke-width="1"/>
<path d="M135.30,165.60 L136.13,164.77 L136.97,163.94 L137.80,163.10 L138.64,162.26 L139.47,161.41 L140.31,160.56 L141.14,159.70 L141.97,158.83 L142.81,157.96 L143.64,157.07 L144.48,156.19 L145.31,155.29 L146.15,154.39 L146.98,153.48 L147.82,152.57 L148.65,151.65 L149.48,150.72 L150.32,149.78 L151.15,148.84 L151.99,147.89 L152.82,146.93 L153.66,145.97 L154.49,145.00 L155.32,144.03 L156.16,143.05 L156.99,142.07 L157.83,141.08 L158.66,140.08 L159.50,139.08 L160.33,138.07 L161.16,137.06 L162.00,136.04 L162.83,135.02 L163.67,133.99 L164.50,132.95 L165.34,131.91 L166.17,130.86 L167.01,129.81 L167.84,128.75 L168.67,127.69 L169.51,126.62 L170.34,125.54 L171.18,124.46 L172.01,123.37 L172.85,122.28 L173.68,121.18 L174.51,120.08 L175.35,118.97 L176.18,117.85 L177.02,116.72 L177.85,115.57 L178.69,114.41 L179.52,113.23 L180.35,112.04 L181.19,110.84 L182.02,109.64 L182.86,108.42 L183.69,107.20 L184.53,105.97 L185.36,104.74 L186.19,103.51 L187.03,102.28 L187.86,101.04 L188.70,99.81 L189.53,98.58 L190.37,97.35 L191.20,96.13 L192.04,94.92 L192.87,93.71 L193.70,92.52 L194.54,91.33 L195.37,90.15 L196.21,88.98 L197.04,87.81 L197.88,86.64 L198.71,85.46 L199.54,84.29 L200.38,83.10 L201.21,81.91 L202.05,80.70 L202.88,79.48 L203.72,78.25 L204.55,76.99 L205.38,75.71 L206.22,74.41 L207.05,73.09 L207.89,71.75 L208.72,70.39 L209.56,69.02 L210.39,67.63 L211.23,66.22 L212.06,64.79 L212.89,63.35 L213.73,61.89 L214.56,60.42 L215.40,58.94 L216.23,57.44 L217.07,55.93 L217.90,54.40" stroke="#00aeef" stroke-width="3.2" fill="none" stroke-dasharray="15 7.8"/>
<path d="M136.50,211.00 L136.66,210.86 L136.82,210.71 L136.99,210.57 L137.15,210.42 L137.31,210.27 L137.47,210.13 L137.63,209.98 L137.80,209.83 L137.96,209.68 L138.12,209.53 L138.28,209.39 L138.44,209.24 L138.61,209.09 L138.77,208.94 L138.93,208.78 L139.09,208.63 L139.26,208.48 L139.42,208.33 L139.58,208.17 L139.74,208.02 L139.90,207.87 L140.07,207.70 L140.23,207.54 L140.39,207.38 L140.55,207.23 L140.71,207.07 L140.88,206.91 L141.04,206.75 L141.20,206.59 L141.36,206.43 L141.52,206.27 L141.69,206.11 L141.85,205.95 L142.01,205.80 L142.17,205.64 L142.33,205.47 L142.50,205.31 L142.66,205.15 L142.82,204.99 L142.98,204.83 L143.15,204.67 L143.31,204.50 L143.47,204.34 L143.63,204.17 L143.79,204.01 L143.96,203.84 L144.12,203.68 L144.28,203.51 L144.44,203.35 L144.60,203.18 L144.77,203.01 L144.93,202.85 L145.09,202.68 L145.25,202.51 L145.41,202.34 L145.58,202.17 L145.74,202.00 L145.90,201.83 L146.06,201.66 L146.22,201.49 L146.39,201.32 L146.55,201.15 L146.71,200.98 L146.87,200.81 L147.04,200.63 L147.20,200.46 L147.36,200.29 L147.52,200.11 L147.68,199.94 L147.85,199.77 L148.01,199.59 L148.17,199.42 L148.33,199.24 L148.49,199.07 L148.66,198.89 L148.82,198.71 L148.98,198.54 L149.14,198.36 L149.30,198.18 L149.47,198.01 L149.63,197.83 L149.79,197.65 L149.95,197.48 L150.11,197.30 L150.28,197.12 L150.44,196.94 L150.60,196.76 L150.76,196.59 L150.92,196.41 L151.09,196.23 L151.25,196.05 L151.41,195.87 L151.57,195.69 L151.74,195.52 L151.90,195.34 L152.06,195.16 L152.22,194.98 L152.38,194.80 L152.55,194.62 L152.71,194.44 L152.87,194.26 L153.03,194.08 L153.19,193.90 L153.36,193.72 L153.52,193.54 L153.68,193.36 L153.84,193.18 L154.00,192.99 L154.17,192.81 L154.33,192.63 L154.49,192.45 L154.65,192.26 L154.81,192.08 L154.98,191.90 L155.14,191.71 L155.30,191.53 L155.46,191.34 L155.63,191.15 L155.79,190.97 L155.95,190.78 L156.11,190.59 L156.27,190.40 L156.44,190.21 L156.60,190.02 L156.76,189.83 L156.92,189.63 L157.08,189.44 L157.25,189.25 L157.41,189.05 L157.57,188.85 L157.73,188.66 L157.89,188.46 L158.06,188.26 L158.22,188.06 L158.38,187.86 L158.54,187.65 L158.70,187.45 L158.87,187.24 L159.03,187.03 L159.19,186.83 L159.35,186.62 L159.52,186.41 L159.68,186.19 L159.84,185.98 L160.00,185.76 L160.16,185.55 L160.33,185.33 L160.49,185.11 L160.65,184.89 L160.81,184.66 L160.97,184.44 L161.14,184.21 L161.30,183.98 L161.46,183.75 L161.62,183.52 L161.78,183.28 L161.95,183.04 L162.11,182.81 L162.27,182.56 L162.43,182.32 L162.59,182.07 L162.76,181.83 L162.92,181.58 L163.08,181.32 L163.24,181.07 L163.40,180.81 L163.57,180.55 L163.73,180.29 L163.89,180.02 L164.05,179.75 L164.22,179.48 L164.38,179.20 L164.54,178.93 L164.70,178.65 L164.86,178.36 L165.03,178.08 L165.19,177.79 L165.35,177.50 L165.51,177.20 L165.67,176.90 L165.84,176.60 L166.00,176.30 L166.16,175.99 L166.32,175.68 L166.48,175.37 L166.65,175.05 L166.81,174.73 L166.97,174.41 L167.13,174.08 L167.29,173.75 L167.46,173.42 L167.62,173.09 L167.78,172.75 L167.94,172.41 L168.11,172.07 L168.27,171.72 L168.43,171.37 L168.59,171.02 L168.75,170.67 L168.92,170.31 L169.08,169.95 L169.24,169.59 L169.40,169.23 L169.56,168.87 L169.73,168.50 L169.89,168.13 L170.05,167.75 L170.21,167.38 L170.37,167.00 L170.54,166.62 L170.70,166.24 L170.86,165.86 L171.02,165.48 L171.18,165.09 L171.35,164.70 L171.51,164.31 L171.67,163.92 L171.83,163.52 L171.99,163.12 L172.16,162.72 L172.32,162.32 L172.48,161.92 L172.64,161.51 L172.81,161.11 L172.97,160.70 L173.13,160.28 L173.29,159.87 L173.45,159.45 L173.62,159.03 L173.78,158.61 L173.94,158.19 L174.10,157.76 L174.26,157.33 L174.43,156.90 L174.59,156.47 L174.75,156.03 L174.91,155.59 L175.07,155.15 L175.24,154.70 L175.40,154.25 L175.56,153.80 L175.72,153.35 L175.88,152.89 L176.05,152.43 L176.21,151.96 L176.37,151.50 L176.53,151.02 L176.70,150.55 L176.86,150.07 L177.02,149.59 L177.18,149.11 L177.34,148.62 L177.51,148.13 L177.67,147.63 L177.83,147.13 L177.99,146.63 L178.15,146.13 L178.32,145.62 L178.48,145.10 L178.64,144.58 L178.80,144.06 L178.96,143.54 L179.13,143.01 L179.29,142.47 L179.45,141.93 L179.61,141.39 L179.77,140.84 L179.94,140.29 L180.10,139.73 L180.26,139.17 L180.42,138.61 L180.59,138.04 L180.75,137.46 L180.91,136.88 L181.07,136.30 L181.23,135.71 L181.40,135.12 L181.56,134.52 L181.72,133.92 L181.88,133.31 L182.04,132.70 L182.21,132.09 L182.37,131.47 L182.53,130.85 L182.69,130.23 L182.85,129.60 L183.02,128.97 L183.18,128.34 L183.34,127.70 L183.50,127.06 L183.66,126.42 L183.83,125.78 L183.99,125.14 L184.15,124.51 L184.31,123.84 L184.47,123.17 L184.64,122.50 L184.80,121.83 L184.96,121.17 L185.12,120.50 L185.29,119.84 L185.45,119.19 L185.61,118.54 L185.77,117.89 L185.93,117.25 L186.10,116.61 L186.26,115.98 L186.42,115.36 L186.58,114.74 L186.74,114.13 L186.91,113.52 L187.07,112.88 L187.23,112.24 L187.39,111.59 L187.55,110.93 L187.72,110.27 L187.88,109.61 L188.04,108.96 L188.20,108.31 L188.36,107.67 L188.53,107.05 L188.69,106.44 L188.85,105.85 L189.01,105.29 L189.18,104.75 L189.34,104.24 L189.50,103.75 L189.66,103.31 L189.82,102.90 L189.99,102.53 L190.15,102.19 L190.31,101.84 L190.47,101.49 L190.63,101.15 L190.80,100.80 L190.96,100.47 L191.12,100.14 L191.28,99.82 L191.44,99.51 L191.61,99.21 L191.77,98.93 L191.93,98.67 L192.09,98.43 L192.25,98.20 L192.42,98.00 L192.58,97.83 L192.74,97.68 L192.90,97.56 L193.07,97.48 L193.23,97.42 L193.39,97.40 L193.55,97.40 L193.71,97.42 L193.88,97.45 L194.04,97.48 L194.20,97.53 L194.36,97.58 L194.52,97.64 L194.69,97.71 L194.85,97.79 L195.01,97.87 L195.17,97.95 L195.33,98.05 L195.50,98.14 L195.66,98.24 L195.82,98.35 L195.98,98.45 L196.14,98.56 L196.31,98.67 L196.47,98.78 L196.63,98.90 L196.79,99.04 L196.95,99.19 L197.12,99.37 L197.28,99.57 L197.44,99.77 L197.60,99.99 L197.77,100.22 L197.93,100.46 L198.09,100.70 L198.25,100.95 L198.41,101.20 L198.58,101.45 L198.74,101.69 L198.90,101.93 L199.06,102.17 L199.22,102.40 L199.39,102.62 L199.55,102.84 L199.71,103.07 L199.87,103.30 L200.03,103.53 L200.20,103.77 L200.36,104.02 L200.52,104.26 L200.68,104.51 L200.84,104.76 L201.01,105.01 L201.17,105.26 L201.33,105.52 L201.49,105.77 L201.66,106.03 L201.82,106.28 L201.98,106.54 L202.14,106.79 L202.30,107.05 L202.47,107.30 L202.63,107.55 L202.79,107.80 L202.95,108.04 L203.11,108.29 L203.28,108.53 L203.44,108.76 L203.60,108.99 L203.76,109.22 L203.92,109.44 L204.09,109.66 L204.25,109.87 L204.41,110.08 L204.57,110.28 L204.73,110.47 L204.90,110.66 L205.06,110.84 L205.22,111.01 L205.38,111.18 L205.55,111.33 L205.71,111.48 L205.87,111.62 L206.03,111.75 L206.19,111.87 L206.36,111.99 L206.52,112.11 L206.68,112.23 L206.84,112.35 L207.00,112.47 L207.17,112.59 L207.33,112.71 L207.49,112.82 L207.65,112.94 L207.81,113.06 L207.98,113.17 L208.14,113.28 L208.30,113.39 L208.46,113.50 L208.62,113.61 L208.79,113.71 L208.95,113.82 L209.11,113.92 L209.27,114.02 L209.43,114.11 L209.60,114.20 L209.76,114.29 L209.92,114.38 L210.08,114.46 L210.25,114.54 L210.41,114.62 L210.57,114.69 L210.73,114.75 L210.89,114.82 L211.06,114.88 L211.22,114.93 L211.38,114.98 L211.54,115.03 L211.70,115.07 L211.87,115.10 L212.03,115.13 L212.19,115.16 L212.35,115.18 L212.51,115.19 L212.68,115.20 L212.84,115.20 L213.00,115.20 L213.16,115.19 L213.32,115.18 L213.49,115.17 L213.65,115.16 L213.81,115.14 L213.97,115.13 L214.14,115.11 L214.30,115.08 L214.46,115.06 L214.62,115.03 L214.78,115.00 L214.95,114.96 L215.11,114.93 L215.27,114.89 L215.43,114.85 L215.59,114.81 L215.76,114.77 L215.92,114.73 L216.08,114.68 L216.24,114.63 L216.40,114.58 L216.57,114.53 L216.73,114.48 L216.89,114.42 L217.05,114.37 L217.21,114.31 L217.38,114.25 L217.54,114.19 L217.70,114.13 L217.86,114.07 L218.03,114.00 L218.19,113.94 L218.35,113.88 L218.51,113.81 L218.67,113.74 L218.84,113.68 L219.00,113.61 L219.16,113.54 L219.32,113.47 L219.48,113.40 L219.65,113.33 L219.81,113.26 L219.97,113.19 L220.13,113.12 L220.29,113.04 L220.46,112.97 L220.62,112.90 L220.78,112.83 L220.94,112.76 L221.10,112.69 L221.27,112.61 L221.43,112.54 L221.59,112.47 L221.75,112.39 L221.91,112.31 L222.08,112.22 L222.24,112.14 L222.40,112.05 L222.56,111.96 L222.73,111.86 L222.89,111.77 L223.05,111.67 L223.21,111.56 L223.37,111.46 L223.54,111.35 L223.70,111.24 L223.86,111.13 L224.02,111.02 L224.18,110.90 L224.35,110.78 L224.51,110.66 L224.67,110.54 L224.83,110.41 L224.99,110.29 L225.16,110.16 L225.32,110.03 L225.48,109.90 L225.64,109.76 L225.80,109.63 L225.97,109.49 L226.13,109.35 L226.29,109.21 L226.45,109.07 L226.62,108.93 L226.78,108.78 L226.94,108.63 L227.10,108.49 L227.26,108.34 L227.43,108.19 L227.59,108.03 L227.75,107.88 L227.91,107.73 L228.07,107.57 L228.24,107.42 L228.40,107.26 L228.56,107.10 L228.72,106.94 L228.88,106.78 L229.05,106.62 L229.21,106.46 L229.37,106.30 L229.53,106.14 L229.69,105.98 L229.86,105.81 L230.02,105.65 L230.18,105.48 L230.34,105.32 L230.51,105.15 L230.67,104.99 L230.83,104.82 L230.99,104.66 L231.15,104.49 L231.32,104.32 L231.48,104.16 L231.64,103.99 L231.80,103.83 L231.96,103.66 L232.13,103.49 L232.29,103.33 L232.45,103.16 L232.61,103.00 L232.77,102.83 L232.94,102.67 L233.10,102.50 L233.26,102.34 L233.42,102.17 L233.58,102.00 L233.75,101.84 L233.91,101.67 L234.07,101.50 L234.23,101.33 L234.39,101.16 L234.56,100.98 L234.72,100.81 L234.88,100.63 L235.04,100.46 L235.21,100.28 L235.37,100.10 L235.53,99.92 L235.69,99.74 L235.85,99.56 L236.02,99.38 L236.18,99.20 L236.34,99.01 L236.50,98.83 L236.66,98.64 L236.83,98.45 L236.99,98.27 L237.15,98.08 L237.31,97.89 L237.47,97.70 L237.64,97.50 L237.80,97.31 L237.96,97.12 L238.12,96.92 L238.28,96.73 L238.45,96.53 L238.61,96.34 L238.77,96.14 L238.93,95.94 L239.10,95.74 L239.26,95.54 L239.42,95.34 L239.58,95.13 L239.74,94.93 L239.91,94.73 L240.07,94.52 L240.23,94.31 L240.39,94.11 L240.55,93.90 L240.72,93.69 L240.88,93.48 L241.04,93.27 L241.20,93.06 L241.36,92.85 L241.53,92.64 L241.69,92.42 L241.85,92.21 L242.01,91.99 L242.17,91.78 L242.34,91.56 L242.50,91.34 L242.66,91.13 L242.82,90.91 L242.98,90.69 L243.15,90.47 L243.31,90.25 L243.47,90.02 L243.63,89.80 L243.80,89.58 L243.96,89.35 L244.12,89.13 L244.28,88.90 L244.44,88.68 L244.61,88.45 L244.77,88.22 L244.93,87.99 L245.09,87.76 L245.25,87.53 L245.42,87.30 L245.58,87.07 L245.74,86.84 L245.90,86.61 L246.06,86.38 L246.23,86.14 L246.39,85.91 L246.55,85.67 L246.71,85.44 L246.87,85.20 L247.04,84.96 L247.20,84.72 L247.36,84.47 L247.52,84.23 L247.69,83.98 L247.85,83.74 L248.01,83.49 L248.17,83.24 L248.33,82.98 L248.50,82.73 L248.66,82.47 L248.82,82.22 L248.98,81.96 L249.14,81.70 L249.31,81.44 L249.47,81.18 L249.63,80.91 L249.79,80.65 L249.95,80.38 L250.12,80.11 L250.28,79.85 L250.44,79.58 L250.60,79.30 L250.76,79.03 L250.93,78.76 L251.09,78.48 L251.25,78.21 L251.41,77.93 L251.58,77.65 L251.74,77.37 L251.90,77.09 L252.06,76.81 L252.22,76.53 L252.39,76.25 L252.55,75.96 L252.71,75.68 L252.87,75.39 L253.03,75.11 L253.20,74.82 L253.36,74.53 L253.52,74.24 L253.68,73.95 L253.84,73.66 L254.01,73.37 L254.17,73.08 L254.33,72.79 L254.49,72.50 L254.65,72.20 L254.82,71.91 L254.98,71.61 L255.14,71.32 L255.30,71.02 L255.46,70.73 L255.63,70.43 L255.79,70.13 L255.95,69.83 L256.11,69.54 L256.28,69.24 L256.44,68.94 L256.60,68.64 L256.76,68.34 L256.92,68.04 L257.09,67.74 L257.25,67.44 L257.41,67.14 L257.57,66.84 L257.73,66.54 L257.90,66.24 L258.06,65.94 L258.22,65.63 L258.38,65.33 L258.54,65.03 L258.71,64.73 L258.87,64.42 L259.03,64.12 L259.19,63.81 L259.35,63.50 L259.52,63.20 L259.68,62.89 L259.84,62.57 L260.00,62.26 L260.17,61.95 L260.33,61.64 L260.49,61.32 L260.65,61.00 L260.81,60.69 L260.98,60.37 L261.14,60.05 L261.30,59.73 L261.46,59.41 L261.62,59.09 L261.79,58.77 L261.95,58.44 L262.11,58.12 L262.27,57.79 L262.43,57.47 L262.60,57.14 L262.76,56.81 L262.92,56.48 L263.08,56.15 L263.24,55.82 L263.41,55.49 L263.57,55.16 L263.73,54.83 L263.89,54.49 L264.06,54.16 L264.22,53.83 L264.38,53.49 L264.54,53.15 L264.70,52.82 L264.87,52.48 L265.03,52.14 L265.19,51.80 L265.35,51.46 L265.51,51.12 L265.68,50.78 L265.84,50.44 L266.00,50.10" stroke="#1a1a1a" stroke-width="2.9" fill="none"/>
<rect x="496" y="47.9" width="131.70000000000005" height="164.4" fill="#fff" stroke="#c4c4c4" stroke-width="1.1"/>
<path d="M515.4,47.9 v2 M515.4,212.3 v-2 M594.5,47.9 v2 M594.5,212.3 v-2 M496,88.5 h2 M627.7,88.5 h-2 M496,123.3 h2 M627.7,123.3 h-2 M496,159.4 h2 M627.7,159.4 h-2 M496,194.2 h2 M627.7,194.2 h-2" stroke="#c4c4c4" stroke-width="1"/>
<path d="M570.30,47.60 L570.88,48.58 L571.46,49.55 L572.04,50.52 L572.62,51.49 L573.20,52.46 L573.78,53.43 L574.36,54.39 L574.94,55.35 L575.52,56.30 L576.10,57.26 L576.68,58.21 L577.26,59.16 L577.84,60.11 L578.42,61.05 L579.00,62.00 L579.58,62.94 L580.16,63.87 L580.74,64.81 L581.32,65.74 L581.90,66.67 L582.48,67.60 L583.06,68.52 L583.64,69.44 L584.22,70.36 L584.79,71.28 L585.37,72.19 L585.95,73.10 L586.53,74.01 L587.11,74.91 L587.69,75.81 L588.27,76.71 L588.85,77.60 L589.43,78.49 L590.01,79.37 L590.59,80.25 L591.17,81.13 L591.75,82.01 L592.33,82.88 L592.91,83.75 L593.49,84.62 L594.07,85.49 L594.65,86.36 L595.23,87.22 L595.81,88.08 L596.39,88.95 L596.97,89.81 L597.55,90.67 L598.13,91.53 L598.71,92.39 L599.29,93.26 L599.87,94.12 L600.45,94.98 L601.03,95.85 L601.61,96.71 L602.19,97.58 L602.77,98.45 L603.35,99.32 L603.93,100.19 L604.51,101.07 L605.09,101.93 L605.67,102.80 L606.25,103.67 L606.83,104.54 L607.41,105.40 L607.99,106.27 L608.57,107.14 L609.15,108.00 L609.73,108.87 L610.31,109.74 L610.89,110.60 L611.47,111.47 L612.05,112.34 L612.63,113.20 L613.21,114.07 L613.78,114.94 L614.36,115.81 L614.94,116.68 L615.52,117.56 L616.10,118.43 L616.68,119.31 L617.26,120.18 L617.84,121.06 L618.42,121.94 L619.00,122.82 L619.58,123.71 L620.16,124.60 L620.74,125.48 L621.32,126.38 L621.90,127.27 L622.48,128.17 L623.06,129.06 L623.64,129.96 L624.22,130.86 L624.80,131.77 L625.38,132.67 L625.96,133.58 L626.54,134.48 L627.12,135.39 L627.70,136.30" stroke="#00aeef" stroke-width="3.2" fill="none" stroke-dasharray="15 7.8"/>
<path d="M498.50,48.40 L498.66,48.63 L498.82,48.87 L498.98,49.10 L499.14,49.34 L499.30,49.57 L499.46,49.81 L499.62,50.04 L499.78,50.27 L499.94,50.51 L500.10,50.74 L500.26,50.97 L500.41,51.20 L500.57,51.44 L500.73,51.67 L500.89,51.90 L501.05,52.13 L501.21,52.36 L501.37,52.60 L501.53,52.83 L501.69,53.06 L501.85,53.29 L502.01,53.52 L502.17,53.75 L502.33,53.98 L502.49,54.21 L502.65,54.44 L502.81,54.67 L502.97,54.90 L503.13,55.13 L503.29,55.36 L503.45,55.59 L503.61,55.82 L503.77,56.05 L503.93,56.27 L504.09,56.50 L504.24,56.73 L504.40,56.96 L504.56,57.19 L504.72,57.41 L504.88,57.64 L505.04,57.87 L505.20,58.09 L505.36,58.32 L505.52,58.55 L505.68,58.77 L505.84,59.00 L506.00,59.23 L506.16,59.46 L506.32,59.68 L506.48,59.91 L506.64,60.13 L506.80,60.36 L506.96,60.59 L507.12,60.81 L507.28,61.04 L507.44,61.26 L507.60,61.49 L507.76,61.71 L507.91,61.94 L508.07,62.16 L508.23,62.39 L508.39,62.61 L508.55,62.84 L508.71,63.06 L508.87,63.29 L509.03,63.51 L509.19,63.73 L509.35,63.96 L509.51,64.18 L509.67,64.40 L509.83,64.63 L509.99,64.85 L510.15,65.07 L510.31,65.30 L510.47,65.52 L510.63,65.74 L510.79,65.96 L510.95,66.19 L511.11,66.41 L511.27,66.63 L511.43,66.85 L511.59,67.07 L511.74,67.30 L511.90,67.52 L512.06,67.74 L512.22,67.96 L512.38,68.18 L512.54,68.40 L512.70,68.62 L512.86,68.84 L513.02,69.06 L513.18,69.28 L513.34,69.50 L513.50,69.72 L513.66,69.94 L513.82,70.16 L513.98,70.38 L514.14,70.60 L514.30,70.82 L514.46,71.04 L514.62,71.26 L514.78,71.48 L514.94,71.70 L515.10,71.91 L515.26,72.13 L515.41,72.35 L515.57,72.57 L515.73,72.78 L515.89,73.00 L516.05,73.22 L516.21,73.44 L516.37,73.65 L516.53,73.87 L516.69,74.08 L516.85,74.30 L517.01,74.52 L517.17,74.73 L517.33,74.95 L517.49,75.16 L517.65,75.37 L517.81,75.59 L517.97,75.80 L518.13,76.02 L518.29,76.23 L518.45,76.44 L518.61,76.65 L518.77,76.87 L518.93,77.08 L519.09,77.29 L519.24,77.50 L519.40,77.71 L519.56,77.92 L519.72,78.14 L519.88,78.35 L520.04,78.56 L520.20,78.77 L520.36,78.98 L520.52,79.18 L520.68,79.39 L520.84,79.60 L521.00,79.81 L521.16,80.02 L521.32,80.23 L521.48,80.43 L521.64,80.64 L521.80,80.85 L521.96,81.05 L522.12,81.26 L522.28,81.47 L522.44,81.67 L522.60,81.88 L522.76,82.08 L522.91,82.29 L523.07,82.49 L523.23,82.70 L523.39,82.90 L523.55,83.11 L523.71,83.31 L523.87,83.52 L524.03,83.72 L524.19,83.92 L524.35,84.12 L524.51,84.33 L524.67,84.53 L524.83,84.73 L524.99,84.93 L525.15,85.14 L525.31,85.34 L525.47,85.54 L525.63,85.74 L525.79,85.94 L525.95,86.14 L526.11,86.34 L526.27,86.54 L526.43,86.74 L526.59,86.94 L526.74,87.13 L526.90,87.33 L527.06,87.53 L527.22,87.73 L527.38,87.92 L527.54,88.12 L527.70,88.32 L527.86,88.51 L528.02,88.71 L528.18,88.90 L528.34,89.10 L528.50,89.29 L528.66,89.48 L528.82,89.68 L528.98,89.87 L529.14,90.06 L529.30,90.25 L529.46,90.44 L529.62,90.63 L529.78,90.82 L529.94,91.01 L530.10,91.20 L530.26,91.39 L530.41,91.57 L530.57,91.76 L530.73,91.95 L530.89,92.13 L531.05,92.32 L531.21,92.50 L531.37,92.69 L531.53,92.87 L531.69,93.05 L531.85,93.23 L532.01,93.42 L532.17,93.60 L532.33,93.78 L532.49,93.96 L532.65,94.13 L532.81,94.31 L532.97,94.49 L533.13,94.67 L533.29,94.84 L533.45,95.02 L533.61,95.19 L533.77,95.37 L533.93,95.54 L534.09,95.71 L534.24,95.88 L534.40,96.06 L534.56,96.23 L534.72,96.39 L534.88,96.56 L535.04,96.73 L535.20,96.90 L535.36,97.06 L535.52,97.23 L535.68,97.39 L535.84,97.56 L536.00,97.72 L536.16,97.88 L536.32,98.04 L536.48,98.20 L536.64,98.36 L536.80,98.51 L536.96,98.67 L537.12,98.83 L537.28,98.98 L537.44,99.14 L537.60,99.29 L537.76,99.44 L537.91,99.59 L538.07,99.74 L538.23,99.89 L538.39,100.04 L538.55,100.18 L538.71,100.33 L538.87,100.47 L539.03,100.62 L539.19,100.76 L539.35,100.90 L539.51,101.04 L539.67,101.18 L539.83,101.32 L539.99,101.46 L540.15,101.59 L540.31,101.73 L540.47,101.86 L540.63,101.99 L540.79,102.12 L540.95,102.25 L541.11,102.38 L541.27,102.51 L541.43,102.63 L541.59,102.76 L541.74,102.88 L541.90,103.00 L542.06,103.24 L542.22,103.37 L542.38,103.50 L542.54,103.63 L542.70,103.75 L542.86,103.88 L543.02,104.01 L543.18,104.13 L543.34,104.26 L543.50,104.38 L543.66,104.50 L543.82,104.62 L543.98,104.74 L544.14,104.85 L544.30,104.96 L544.46,105.07 L544.62,105.17 L544.78,105.27 L544.94,105.36 L545.10,105.46 L545.26,105.54 L545.41,105.63 L545.57,105.71 L545.73,105.78 L545.89,105.85 L546.05,105.91 L546.21,105.97 L546.37,106.02 L546.53,106.07 L546.69,106.11 L546.85,106.14 L547.01,106.16 L547.17,106.18 L547.33,106.20 L547.49,106.20 L547.65,106.20 L547.81,106.19 L547.97,106.18 L548.13,106.17 L548.29,106.15 L548.45,106.13 L548.61,106.10 L548.77,106.07 L548.93,106.03 L549.09,106.00 L549.24,105.95 L549.40,105.91 L549.56,105.86 L549.72,105.81 L549.88,105.75 L550.04,105.27 L550.20,105.22 L550.36,105.17 L550.52,105.11 L550.68,105.05 L550.84,104.99 L551.00,104.93 L551.16,104.86 L551.32,104.79 L551.48,104.72 L551.64,104.65 L551.80,104.57 L551.96,104.49 L552.12,104.41 L552.28,104.33 L552.44,104.24 L552.60,104.15 L552.76,104.06 L552.91,103.97 L553.07,103.88 L553.23,103.78 L553.39,103.68 L553.55,103.58 L553.71,103.48 L553.87,103.38 L554.03,103.28 L554.19,103.17 L554.35,103.06 L554.51,102.95 L554.67,102.84 L554.83,102.73 L554.99,102.61 L555.15,102.50 L555.31,102.38 L555.47,102.26 L555.63,102.14 L555.79,102.02 L555.95,101.89 L556.11,101.76 L556.27,101.64 L556.43,101.51 L556.59,101.37 L556.74,101.24 L556.90,101.10 L557.06,100.97 L557.22,100.83 L557.38,100.68 L557.54,100.54 L557.70,100.40 L557.86,100.25 L558.02,100.10 L558.18,99.95 L558.34,99.79 L558.50,99.64 L558.66,99.48 L558.82,99.32 L558.98,99.15 L559.14,98.99 L559.30,98.82 L559.46,98.66 L559.62,98.49 L559.78,98.31 L559.94,98.14 L560.10,97.96 L560.26,97.79 L560.41,97.61 L560.57,97.42 L560.73,97.24 L560.89,97.06 L561.05,96.87 L561.21,96.69 L561.37,96.50 L561.53,96.31 L561.69,96.12 L561.85,95.93 L562.01,95.74 L562.17,95.54 L562.33,95.35 L562.49,95.16 L562.65,94.97 L562.81,94.77 L562.97,94.58 L563.13,94.39 L563.29,94.19 L563.45,94.00 L563.61,93.81 L563.77,93.62 L563.93,93.43 L564.09,93.24 L564.24,93.05 L564.40,92.87 L564.56,92.68 L564.72,92.50 L564.88,92.32 L565.04,92.13 L565.20,91.96 L565.36,91.78 L565.52,91.60 L565.68,91.43 L565.84,91.26 L566.00,91.09 L566.16,90.92 L566.32,90.75 L566.48,90.59 L566.64,90.43 L566.80,90.27 L566.96,90.11 L567.12,89.95 L567.28,89.80 L567.44,89.65 L567.60,89.50 L567.76,89.35 L567.91,89.21 L568.07,89.07 L568.23,88.93 L568.39,88.79 L568.55,88.66 L568.71,88.52 L568.87,88.39 L569.03,88.27 L569.19,88.14 L569.35,88.02 L569.51,87.89 L569.67,87.78 L569.83,87.66 L569.99,87.55 L570.15,87.22 L570.31,87.10 L570.47,86.98 L570.63,86.87 L570.79,86.75 L570.95,86.64 L571.11,86.53 L571.27,86.42 L571.43,86.32 L571.59,86.21 L571.74,86.11 L571.90,86.01 L572.06,85.91 L572.22,85.82 L572.38,85.73 L572.54,85.64 L572.70,85.56 L572.86,85.48 L573.02,85.40 L573.18,85.33 L573.34,85.26 L573.50,85.19 L573.66,85.13 L573.82,85.08 L573.98,85.03 L574.14,84.98 L574.30,84.94 L574.46,84.90 L574.62,84.87 L574.78,84.85 L574.94,84.83 L575.10,84.81 L575.26,84.80 L575.41,84.80 L575.57,84.81 L575.73,84.82 L575.89,84.85 L576.05,84.89 L576.21,84.94 L576.37,84.99 L576.53,85.06 L576.69,85.13 L576.85,85.22 L577.01,85.31 L577.17,85.41 L577.33,85.51 L577.49,85.63 L577.65,85.75 L577.81,85.88 L577.97,86.01 L578.13,86.16 L578.29,86.30 L578.45,86.46 L578.61,86.61 L578.77,86.78 L578.93,86.94 L579.09,87.12 L579.24,87.29 L579.40,87.47 L579.56,87.66 L579.72,87.84 L579.88,88.03 L580.04,88.23 L580.20,88.42 L580.36,88.62 L580.52,88.82 L580.68,89.02 L580.84,89.22 L581.00,89.42 L581.16,89.62 L581.32,89.82 L581.48,90.04 L581.64,90.27 L581.80,90.52 L581.96,90.78 L582.12,91.06 L582.28,91.35 L582.44,91.66 L582.60,91.99 L582.76,92.32 L582.91,92.67 L583.07,93.03 L583.23,93.41 L583.39,93.79 L583.55,94.19 L583.71,94.60 L583.87,95.01 L584.03,96.51 L584.19,96.91 L584.35,97.31 L584.51,97.72 L584.67,98.13 L584.83,98.55 L584.99,98.98 L585.15,99.42 L585.31,99.86 L585.47,100.30 L585.63,100.76 L585.79,101.22 L585.95,101.68 L586.11,102.15 L586.27,102.63 L586.43,103.11 L586.59,103.60 L586.74,104.09 L586.90,104.59 L587.06,105.10 L587.22,105.60 L587.38,106.12 L587.54,106.63 L587.70,107.16 L587.86,107.68 L588.02,108.21 L588.18,108.75 L588.34,109.29 L588.50,109.83 L588.66,110.38 L588.82,110.93 L588.98,111.48 L589.14,112.04 L589.30,112.59 L589.46,113.16 L589.62,113.72 L589.78,114.29 L589.94,114.86 L590.10,115.43 L590.26,116.00 L590.41,116.57 L590.57,117.15 L590.73,117.73 L590.89,118.31 L591.05,118.88 L591.21,119.47 L591.37,120.05 L591.53,120.63 L591.69,121.21 L591.85,121.79 L592.01,122.37 L592.17,122.96 L592.33,123.54 L592.49,124.12 L592.65,124.70 L592.81,125.28 L592.97,125.86 L593.13,126.43 L593.29,127.01 L593.45,127.58 L593.61,128.15 L593.77,128.73 L593.93,129.29 L594.09,129.86 L594.24,130.43 L594.40,130.99 L594.56,131.55 L594.72,132.11 L594.88,132.66 L595.04,133.21 L595.20,133.76 L595.36,134.31 L595.52,134.85 L595.68,135.39 L595.84,135.93 L596.00,136.47 L596.16,137.00 L596.32,137.53 L596.48,138.06 L596.64,138.58 L596.80,139.10 L596.96,139.62 L597.12,140.13 L597.28,140.64 L597.44,141.15 L597.60,141.66 L597.76,142.16 L597.91,142.66 L598.07,143.16 L598.23,143.66 L598.39,144.15 L598.55,144.64 L598.71,145.13 L598.87,145.62 L599.03,146.10 L599.19,146.58 L599.35,147.06 L599.51,147.53 L599.67,148.00 L599.83,148.48 L599.99,148.94 L600.15,149.41 L600.31,149.87 L600.47,150.33 L600.63,150.79 L600.79,151.25 L600.95,151.70 L601.11,152.16 L601.27,152.60 L601.43,153.05 L601.59,153.50 L601.74,153.94 L601.90,154.38 L602.06,154.82 L602.22,155.25 L602.38,155.69 L602.54,156.12 L602.70,156.55 L602.86,156.97 L603.02,157.40 L603.18,157.82 L603.34,158.24 L603.50,158.65 L603.66,159.07 L603.82,159.48 L603.98,159.89 L604.14,160.30 L604.30,160.71 L604.46,161.11 L604.62,161.51 L604.78,161.92 L604.94,162.31 L605.10,162.71 L605.26,163.10 L605.41,163.50 L605.57,163.89 L605.73,164.28 L605.89,164.66 L606.05,165.05 L606.21,165.43 L606.37,165.82 L606.53,166.20 L606.69,166.58 L606.85,166.95 L607.01,167.33 L607.17,167.71 L607.33,168.08 L607.49,168.45 L607.65,168.82 L607.81,169.20 L607.97,169.57 L608.13,169.93 L608.29,170.30 L608.45,170.67 L608.61,171.04 L608.77,171.40 L608.93,171.77 L609.09,172.13 L609.24,172.50 L609.40,172.86 L609.56,173.23 L609.72,173.59 L609.88,173.95 L610.04,174.32 L610.20,174.68 L610.36,175.04 L610.52,175.40 L610.68,175.77 L610.84,176.13 L611.00,176.49 L611.16,176.85 L611.32,177.22 L611.48,177.58 L611.64,177.94 L611.80,178.31 L611.96,178.67 L612.12,179.04 L612.28,179.40 L612.44,179.76 L612.60,180.13 L612.76,180.50 L612.91,180.86 L613.07,181.23 L613.23,181.59 L613.39,181.96 L613.55,182.33 L613.71,182.69 L613.87,183.06 L614.03,183.43 L614.19,183.80 L614.35,184.17 L614.51,184.54 L614.67,184.91 L614.83,185.28 L614.99,185.65 L615.15,186.02 L615.31,186.39 L615.47,186.76 L615.63,187.13 L615.79,187.50 L615.95,187.87 L616.11,188.25 L616.27,188.62 L616.43,188.99 L616.59,189.36 L616.74,189.74 L616.90,190.11 L617.06,190.48 L617.22,190.86 L617.38,191.23 L617.54,191.60 L617.70,191.98 L617.86,192.35 L618.02,192.72 L618.18,193.10 L618.34,193.47 L618.50,193.85 L618.66,194.22 L618.82,194.60 L618.98,194.97 L619.14,195.34 L619.30,195.72 L619.46,196.09 L619.62,196.47 L619.78,196.84 L619.94,197.22 L620.10,197.59 L620.26,197.97 L620.41,198.34 L620.57,198.72 L620.73,199.09 L620.89,199.47 L621.05,199.84 L621.21,200.22 L621.37,200.59 L621.53,200.97 L621.69,201.34 L621.85,201.72 L622.01,202.09 L622.17,202.47 L622.33,202.84 L622.49,203.22 L622.65,203.60 L622.81,203.97 L622.97,204.35 L623.13,204.72 L623.29,205.10 L623.45,205.47 L623.61,205.85 L623.77,206.23 L623.93,206.60 L624.09,206.98 L624.24,207.36 L624.40,207.73 L624.56,208.11 L624.72,208.49 L624.88,208.86 L625.04,209.24 L625.20,209.62 L625.36,209.99 L625.52,210.37 L625.68,210.75 L625.84,211.12 L626.00,211.50" stroke="#1a1a1a" stroke-width="2.9" fill="none"/>
<rect x="243.0" y="319.7" width="52.2" height="37.8" fill="none" stroke="#1a1a1a" stroke-width="2.0" stroke-dasharray="2.0 2.1" rx="1.5"/>
<rect x="469.1" y="326.4" width="51.9" height="37.4" fill="none" stroke="#1a1a1a" stroke-width="2.0" stroke-dasharray="2.0 2.1" rx="1.5"/>
<path d="M181.5,212 L257.3,316.5" stroke="#1a1a1a" stroke-width="1.1"/>
<path d="M238.3,307.6 L257.0,316.6 L255.2,295.3" stroke="#1a1a1a" stroke-width="3.7" fill="none" stroke-linejoin="miter"/>
<path d="M579.2,216.2 L508.5,320.8" stroke="#1a1a1a" stroke-width="1.1"/>
<path d="M527.3,312.0 L508.0,321.0 L509.3,300.8" stroke="#1a1a1a" stroke-width="3.7" fill="none"/>
<rect x="849.8" y="4.1" width="530.8" height="417.79999999999995" fill="none" stroke="#565454" stroke-width="1.1"/>
<path d="M1026.73,421.9 V416.40 M1026.73,4.1 V9.60 M1203.66,421.9 V416.40 M1203.66,4.1 V9.60 M849.8,421.90 H855.30 M1380.6,421.90 H1375.10 M849.8,345.90 H855.30 M1380.6,345.90 H1375.10 M849.8,269.90 H855.30 M1380.6,269.90 H1375.10 M849.8,193.90 H855.30 M1380.6,193.90 H1375.10 M849.8,117.90 H855.30 M1380.6,117.90 H1375.10 M849.8,41.90 H855.30 M1380.6,41.90 H1375.10" stroke="#565454" stroke-width="1.1" fill="none"/>
<g clip-path="url(#cb)">
<path d="M849.80,421.44 L849.98,421.44 L850.15,421.44 L850.33,421.44 L850.51,421.44 L850.68,421.44 L850.86,421.44 L851.04,421.44 L851.22,421.43 L851.39,421.43 L851.57,421.43 L851.75,421.43 L851.92,421.43 L852.10,421.43 L852.28,421.43 L852.45,421.43 L852.63,421.43 L852.81,421.42 L852.99,421.42 L853.16,421.42 L853.34,421.42 L853.52,421.42 L853.69,421.42 L853.87,421.42 L854.05,421.42 L854.22,421.41 L854.40,421.41 L854.58,421.41 L854.76,421.41 L854.93,421.41 L855.11,421.41 L855.29,421.41 L855.46,421.40 L855.64,421.40 L855.82,421.40 L855.99,421.40 L856.17,421.40 L856.35,421.40 L856.53,421.40 L856.70,421.39 L856.88,421.39 L857.06,421.39 L857.23,421.39 L857.41,421.39 L857.59,421.39 L857.76,421.39 L857.94,421.38 L858.12,421.38 L858.30,421.38 L858.47,421.38 L858.65,421.38 L858.83,421.38 L859.00,421.38 L859.18,421.37 L859.36,421.37 L859.53,421.37 L859.71,421.37 L859.89,421.37 L860.07,421.37 L860.24,421.36 L860.42,421.36 L860.60,421.36 L860.77,421.36 L860.95,421.36 L861.13,421.36 L861.30,421.35 L861.48,421.35 L861.66,421.35 L861.84,421.35 L862.01,421.35 L862.19,421.34 L862.37,421.34 L862.54,421.34 L862.72,421.34 L862.90,421.34 L863.07,421.34 L863.25,421.33 L863.43,421.33 L863.61,421.33 L863.78,421.33 L863.96,421.33 L864.14,421.32 L864.31,421.32 L864.49,421.32 L864.67,421.32 L864.84,421.31 L865.02,421.31 L865.20,421.31 L865.38,421.31 L865.55,421.31 L865.73,421.30 L865.91,421.30 L866.08,421.30 L866.26,421.30 L866.44,421.29 L866.61,421.29 L866.79,421.29 L866.97,421.29 L867.15,421.29 L867.32,421.28 L867.50,421.28 L867.68,421.28 L867.85,421.28 L868.03,421.27 L868.21,421.27 L868.38,421.27 L868.56,421.26 L868.74,421.26 L868.92,421.26 L869.09,421.26 L869.27,421.25 L869.45,421.25 L869.62,421.25 L869.80,421.24 L869.98,421.24 L870.15,421.24 L870.33,421.24 L870.51,421.23 L870.69,421.23 L870.86,421.23 L871.04,421.22 L871.22,421.22 L871.39,421.22 L871.57,421.21 L871.75,421.21 L871.92,421.21 L872.10,421.20 L872.28,421.20 L872.46,421.20 L872.63,421.19 L872.81,421.19 L872.99,421.18 L873.16,421.18 L873.34,421.18 L873.52,421.17 L873.69,421.17 L873.87,421.16 L874.05,421.16 L874.22,421.16 L874.40,421.15 L874.58,421.15 L874.76,421.14 L874.93,421.14 L875.11,421.13 L875.29,421.13 L875.46,421.12 L875.64,421.12 L875.82,421.11 L875.99,421.11 L876.17,421.10 L876.35,421.10 L876.53,421.09 L876.70,421.09 L876.88,421.08 L877.06,421.08 L877.23,421.07 L877.41,421.07 L877.59,421.06 L877.76,421.05 L877.94,421.05 L878.12,421.04 L878.30,421.03 L878.47,421.03 L878.65,421.02 L878.83,421.01 L879.00,421.01 L879.18,421.00 L879.36,420.99 L879.53,420.98 L879.71,420.98 L879.89,420.97 L880.07,420.96 L880.24,420.95 L880.42,420.94 L880.60,420.93 L880.77,420.93 L880.95,420.92 L881.13,420.91 L881.30,420.90 L881.48,420.89 L881.66,420.88 L881.84,420.87 L882.01,420.86 L882.19,420.84 L882.37,420.83 L882.54,420.82 L882.72,420.81 L882.90,420.80 L883.07,420.78 L883.25,420.77 L883.43,420.76 L883.61,420.74 L883.78,420.73 L883.96,420.71 L884.14,420.70 L884.31,420.68 L884.49,420.67 L884.67,420.65 L884.84,420.63 L885.02,420.62 L885.20,420.60 L885.38,420.58 L885.55,420.56 L885.73,420.54 L885.91,420.52 L886.08,420.49 L886.26,420.47 L886.44,420.45 L886.61,420.42 L886.79,420.40 L886.97,420.37 L887.15,420.34 L887.32,420.31 L887.50,420.28 L887.68,420.25 L887.85,420.22 L888.03,420.19 L888.21,420.15 L888.38,420.12 L888.56,420.08 L888.74,420.04 L888.92,420.00 L889.09,419.95 L889.27,419.91 L889.45,419.86 L889.62,419.81 L889.80,419.76 L889.98,419.70 L890.15,419.64 L890.33,419.58 L890.51,419.52 L890.69,419.45 L890.86,419.38 L891.04,419.31 L891.22,419.23 L891.39,419.15 L891.57,419.06 L891.75,418.97 L891.92,418.87 L892.10,418.77 L892.28,418.66 L892.46,418.55 L892.63,418.43 L892.81,418.31 L892.99,418.17 L893.16,418.03 L893.34,417.89 L893.52,417.73 L893.69,417.56 L893.87,417.39 L894.05,417.21 L894.23,417.02 L894.40,416.82 L894.58,416.61 L894.76,416.39 L894.93,416.16 L895.11,415.92 L895.29,415.67 L895.46,415.42 L895.64,415.16 L895.82,414.90 L895.99,414.63 L896.17,414.36 L896.35,414.10 L896.53,413.84 L896.70,413.59 L896.88,413.36 L897.06,413.14 L897.23,412.94 L897.41,412.77 L897.59,412.63 L897.76,412.52 L897.94,412.44 L898.12,412.41 L898.20,412.40 L898.30,412.40 L898.47,412.44 L898.65,412.51 L898.83,412.62 L899.00,412.76 L899.18,412.93 L899.36,413.13 L899.53,413.34 L899.71,413.57 L899.89,413.82 L900.07,414.07 L900.24,414.33 L900.42,414.59 L900.60,414.85 L900.77,415.11 L900.95,415.36 L901.13,415.61 L901.30,415.85 L901.48,416.08 L901.66,416.30 L901.84,416.52 L902.01,416.72 L902.19,416.92 L902.37,417.10 L902.54,417.28 L902.72,417.45 L902.90,417.61 L903.07,417.76 L903.25,417.90 L903.43,418.03 L903.61,418.16 L903.78,418.28 L903.96,418.39 L904.14,418.50 L904.31,418.60 L904.49,418.70 L904.67,418.79 L904.84,418.87 L905.02,418.95 L905.20,419.03 L905.38,419.10 L905.55,419.17 L905.73,419.23 L905.91,419.30 L906.08,419.35 L906.26,419.41 L906.44,419.46 L906.61,419.51 L906.79,419.56 L906.97,419.60 L907.15,419.64 L907.32,419.68 L907.50,419.72 L907.68,419.76 L907.85,419.79 L908.03,419.82 L908.21,419.85 L908.38,419.88 L908.56,419.91 L908.74,419.94 L908.92,419.96 L909.09,419.99 L909.27,420.01 L909.45,420.03 L909.62,420.05 L909.80,420.07 L909.98,420.09 L910.15,420.11 L910.33,420.12 L910.51,420.14 L910.69,420.15 L910.86,420.17 L911.04,420.18 L911.22,420.19 L911.39,420.20 L911.57,420.22 L911.75,420.23 L911.92,420.24 L912.10,420.25 L912.28,420.25 L912.46,420.26 L912.63,420.27 L912.81,420.28 L912.99,420.29 L913.16,420.29 L913.34,420.30 L913.52,420.30 L913.69,420.31 L913.87,420.31 L914.05,420.32 L914.23,420.32 L914.40,420.33 L914.58,420.33 L914.76,420.33 L914.93,420.33 L915.11,420.34 L915.29,420.34 L915.46,420.34 L915.64,420.34 L915.82,420.34 L916.00,420.34 L916.17,420.34 L916.35,420.34 L916.53,420.34 L916.70,420.34 L916.88,420.34 L917.06,420.34 L917.23,420.34 L917.41,420.34 L917.59,420.34 L917.77,420.33 L917.94,420.33 L918.12,420.33 L918.30,420.33 L918.47,420.32 L918.65,420.32 L918.83,420.32 L919.00,420.31 L919.18,420.31 L919.36,420.30 L919.53,420.30 L919.71,420.29 L919.89,420.29 L920.07,420.28 L920.24,420.28 L920.42,420.27 L920.60,420.27 L920.77,420.26 L920.95,420.25 L921.13,420.25 L921.30,420.24 L921.48,420.23 L921.66,420.23 L921.84,420.22 L922.01,420.21 L922.19,420.20 L922.37,420.19 L922.54,420.18 L922.72,420.17 L922.90,420.17 L923.07,420.16 L923.25,420.15 L923.43,420.14 L923.61,420.13 L923.78,420.11 L923.96,420.10 L924.14,420.09 L924.31,420.08 L924.49,420.07 L924.67,420.06 L924.84,420.04 L925.02,420.03 L925.20,420.02 L925.38,420.00 L925.55,419.99 L925.73,419.97 L925.91,419.96 L926.08,419.94 L926.26,419.93 L926.44,419.91 L926.61,419.89 L926.79,419.88 L926.97,419.86 L927.15,419.84 L927.32,419.82 L927.50,419.81 L927.68,419.79 L927.85,419.77 L928.03,419.75 L928.21,419.72 L928.38,419.70 L928.56,419.68 L928.74,419.66 L928.92,419.63 L929.09,419.61 L929.27,419.59 L929.45,419.56 L929.62,419.53 L929.80,419.51 L929.98,419.48 L930.15,419.45 L930.33,419.42 L930.51,419.39 L930.69,419.36 L930.86,419.33 L931.04,419.29 L931.22,419.26 L931.39,419.23 L931.57,419.19 L931.75,419.15 L931.92,419.11 L932.10,419.07 L932.28,419.03 L932.46,418.99 L932.63,418.95 L932.81,418.90 L932.99,418.86 L933.16,418.81 L933.34,418.76 L933.52,418.71 L933.69,418.65 L933.87,418.60 L934.05,418.54 L934.23,418.48 L934.40,418.42 L934.58,418.36 L934.76,418.29 L934.93,418.23 L935.11,418.16 L935.29,418.08 L935.46,418.01 L935.64,417.93 L935.82,417.85 L936.00,417.76 L936.17,417.67 L936.35,417.58 L936.53,417.48 L936.70,417.38 L936.88,417.28 L937.06,417.17 L937.23,417.06 L937.41,416.94 L937.59,416.81 L937.77,416.68 L937.94,416.55 L938.12,416.41 L938.30,416.26 L938.47,416.11 L938.65,415.94 L938.83,415.77 L939.00,415.59 L939.18,415.41 L939.36,415.21 L939.54,415.00 L939.71,414.79 L939.89,414.56 L940.07,414.32 L940.24,414.06 L940.42,413.80 L940.60,413.52 L940.77,413.22 L940.95,412.91 L941.13,412.58 L941.31,412.23 L941.48,411.87 L941.66,411.48 L941.84,411.07 L942.01,410.64 L942.19,410.18 L942.37,409.70 L942.54,409.19 L942.72,408.66 L942.90,408.09 L943.07,407.50 L943.25,406.87 L943.43,406.21 L943.61,405.52 L943.78,404.79 L943.96,404.04 L944.14,403.25 L944.31,402.43 L944.49,401.59 L944.67,400.71 L944.84,399.82 L945.02,398.91 L945.20,398.00 L945.38,397.08 L945.55,396.18 L945.73,395.29 L945.91,394.44 L946.08,393.63 L946.26,392.88 L946.44,392.21 L946.61,391.62 L946.79,391.13 L946.97,390.76 L947.15,390.50 L947.32,390.37 L947.40,390.36 L947.50,390.38 L947.68,390.51 L947.85,390.77 L948.03,391.15 L948.21,391.64 L948.38,392.23 L948.56,392.90 L948.74,393.65 L948.92,394.45 L949.09,395.30 L949.27,396.18 L949.45,397.07 L949.62,397.98 L949.80,398.88 L949.98,399.78 L950.15,400.65 L950.33,401.51 L950.51,402.34 L950.69,403.15 L950.86,403.92 L951.04,404.66 L951.22,405.37 L951.39,406.05 L951.57,406.69 L951.75,407.30 L951.92,407.88 L952.10,408.43 L952.28,408.95 L952.46,409.45 L952.63,409.91 L952.81,410.35 L952.99,410.77 L953.16,411.17 L953.34,411.54 L953.52,411.89 L953.69,412.22 L953.87,412.54 L954.05,412.84 L954.23,413.12 L954.40,413.39 L954.58,413.64 L954.76,413.88 L954.93,414.10 L955.11,414.32 L955.29,414.52 L955.46,414.72 L955.64,414.90 L955.82,415.07 L956.00,415.24 L956.17,415.39 L956.35,415.54 L956.53,415.68 L956.70,415.82 L956.88,415.95 L957.06,416.07 L957.23,416.18 L957.41,416.29 L957.59,416.40 L957.77,416.50 L957.94,416.59 L958.12,416.68 L958.30,416.77 L958.47,416.85 L958.65,416.93 L958.83,417.00 L959.00,417.08 L959.18,417.14 L959.36,417.21 L959.54,417.27 L959.71,417.33 L959.89,417.38 L960.07,417.44 L960.24,417.49 L960.42,417.53 L960.60,417.58 L960.77,417.62 L960.95,417.67 L961.13,417.71 L961.31,417.74 L961.48,417.78 L961.66,417.81 L961.84,417.84 L962.01,417.87 L962.19,417.90 L962.37,417.93 L962.54,417.95 L962.72,417.98 L962.90,418.00 L963.08,418.02 L963.25,418.04 L963.43,418.06 L963.61,418.08 L963.78,418.09 L963.96,418.11 L964.14,418.12 L964.31,418.14 L964.49,418.15 L964.67,418.16 L964.85,418.17 L965.02,418.18 L965.20,418.18 L965.38,418.19 L965.55,418.20 L965.73,418.20 L965.91,418.20 L966.08,418.21 L966.26,418.21 L966.44,418.21 L966.61,418.21 L966.79,418.21 L966.97,418.21 L967.15,418.21 L967.32,418.20 L967.50,418.20 L967.68,418.19 L967.85,418.19 L968.03,418.18 L968.21,418.17 L968.38,418.17 L968.56,418.16 L968.74,418.15 L968.92,418.14 L969.09,418.13 L969.27,418.11 L969.45,418.10 L969.62,418.09 L969.80,418.07 L969.98,418.06 L970.15,418.04 L970.33,418.02 L970.51,418.01 L970.69,417.99 L970.86,417.97 L971.04,417.95 L971.22,417.93 L971.39,417.91 L971.57,417.88 L971.75,417.86 L971.92,417.83 L972.10,417.81 L972.28,417.78 L972.46,417.76 L972.63,417.73 L972.81,417.70 L972.99,417.67 L973.16,417.64 L973.34,417.60 L973.52,417.57 L973.69,417.54 L973.87,417.50 L974.05,417.46 L974.23,417.43 L974.40,417.39 L974.58,417.35 L974.76,417.31 L974.93,417.26 L975.11,417.22 L975.29,417.17 L975.46,417.13 L975.64,417.08 L975.82,417.03 L976.00,416.98 L976.17,416.93 L976.35,416.87 L976.53,416.82 L976.70,416.76 L976.88,416.70 L977.06,416.64 L977.23,416.58 L977.41,416.51 L977.59,416.44 L977.77,416.38 L977.94,416.30 L978.12,416.23 L978.30,416.16 L978.47,416.08 L978.65,416.00 L978.83,415.92 L979.00,415.83 L979.18,415.74 L979.36,415.65 L979.54,415.56 L979.71,415.46 L979.89,415.36 L980.07,415.26 L980.24,415.15 L980.42,415.04 L980.60,414.93 L980.77,414.81 L980.95,414.69 L981.13,414.56 L981.31,414.43 L981.48,414.29 L981.66,414.15 L981.84,414.01 L982.01,413.86 L982.19,413.70 L982.37,413.54 L982.54,413.37 L982.72,413.20 L982.90,413.02 L983.08,412.83 L983.25,412.63 L983.43,412.43 L983.61,412.22 L983.78,412.00 L983.96,411.77 L984.14,411.54 L984.31,411.29 L984.49,411.03 L984.67,410.76 L984.85,410.48 L985.02,410.19 L985.20,409.89 L985.38,409.57 L985.55,409.23 L985.73,408.88 L985.91,408.52 L986.08,408.14 L986.26,407.74 L986.44,407.32 L986.62,406.88 L986.79,406.42 L986.97,405.94 L987.15,405.43 L987.32,404.90 L987.50,404.34 L987.68,403.75 L987.85,403.13 L988.03,402.48 L988.21,401.79 L988.38,401.07 L988.56,400.30 L988.74,399.50 L988.92,398.65 L989.09,397.75 L989.27,396.81 L989.45,395.81 L989.62,394.75 L989.80,393.64 L989.98,392.46 L990.15,391.22 L990.33,389.91 L990.51,388.52 L990.69,387.06 L990.86,385.52 L991.04,383.90 L991.22,382.19 L991.39,380.40 L991.57,378.52 L991.75,376.55 L991.92,374.49 L992.10,372.36 L992.28,370.14 L992.46,367.85 L992.63,365.49 L992.81,363.09 L992.99,360.65 L993.16,358.20 L993.34,355.76 L993.52,353.35 L993.69,351.01 L993.87,348.76 L994.05,346.66 L994.23,344.72 L994.40,343.00 L994.58,341.52 L994.76,340.33 L994.93,339.45 L995.11,338.89 L995.29,338.68 L995.30,338.68 L995.46,338.82 L995.64,339.31 L995.82,340.13 L996.00,341.26 L996.17,342.68 L996.35,344.34 L996.53,346.23 L996.70,348.30 L996.88,350.50 L997.06,352.81 L997.23,355.19 L997.41,357.61 L997.59,360.04 L997.77,362.46 L997.94,364.85 L998.12,367.19 L998.30,369.47 L998.47,371.68 L998.65,373.80 L998.83,375.85 L999.00,377.81 L999.18,379.68 L999.36,381.47 L999.54,383.16 L999.71,384.78 L999.89,386.31 L1000.07,387.76 L1000.24,389.13 L1000.42,390.43 L1000.60,391.66 L1000.77,392.82 L1000.95,393.92 L1001.13,394.96 L1001.31,395.95 L1001.48,396.88 L1001.66,397.76 L1001.84,398.59 L1002.01,399.38 L1002.19,400.12 L1002.37,400.83 L1002.54,401.50 L1002.72,402.13 L1002.90,402.73 L1003.08,403.30 L1003.25,403.84 L1003.43,404.36 L1003.61,404.84 L1003.78,405.31 L1003.96,405.74 L1004.14,406.16 L1004.31,406.56 L1004.49,406.94 L1004.67,407.30 L1004.85,407.64 L1005.02,407.96 L1005.20,408.27 L1005.38,408.57 L1005.55,408.85 L1005.73,409.12 L1005.91,409.37 L1006.08,409.62 L1006.26,409.85 L1006.44,410.07 L1006.62,410.28 L1006.79,410.49 L1006.97,410.68 L1007.15,410.86 L1007.32,411.04 L1007.50,411.21 L1007.68,411.37 L1007.85,411.52 L1008.03,411.66 L1008.21,411.80 L1008.39,411.94 L1008.56,412.06 L1008.74,412.18 L1008.92,412.30 L1009.09,412.41 L1009.27,412.52 L1009.45,412.61 L1009.62,412.71 L1009.80,412.80 L1009.98,412.89 L1010.16,412.97 L1010.33,413.05 L1010.51,413.12 L1010.69,413.19 L1010.86,413.26 L1011.04,413.32 L1011.22,413.38 L1011.39,413.43 L1011.57,413.49 L1011.75,413.53 L1011.92,413.58 L1012.10,413.62 L1012.28,413.66 L1012.46,413.70 L1012.63,413.74 L1012.81,413.77 L1012.99,413.80 L1013.16,413.82 L1013.34,413.85 L1013.52,413.87 L1013.69,413.89 L1013.87,413.91 L1014.05,413.92 L1014.23,413.93 L1014.40,413.94 L1014.58,413.95 L1014.76,413.95 L1014.93,413.96 L1015.11,413.96 L1015.29,413.96 L1015.46,413.95 L1015.64,413.95 L1015.82,413.94 L1016.00,413.93 L1016.17,413.92 L1016.35,413.90 L1016.53,413.89 L1016.70,413.87 L1016.88,413.85 L1017.06,413.83 L1017.23,413.80 L1017.41,413.78 L1017.59,413.75 L1017.77,413.72 L1017.94,413.69 L1018.12,413.65 L1018.30,413.62 L1018.47,413.58 L1018.65,413.54 L1018.83,413.49 L1019.00,413.45 L1019.18,413.40 L1019.36,413.35 L1019.54,413.30 L1019.71,413.24 L1019.89,413.19 L1020.07,413.13 L1020.24,413.07 L1020.42,413.00 L1020.60,412.93 L1020.77,412.87 L1020.95,412.79 L1021.13,412.72 L1021.31,412.64 L1021.48,412.56 L1021.66,412.48 L1021.84,412.39 L1022.01,412.30 L1022.19,412.21 L1022.37,412.12 L1022.54,412.02 L1022.72,411.92 L1022.90,411.81 L1023.08,411.70 L1023.25,411.59 L1023.43,411.47 L1023.61,411.35 L1023.78,411.23 L1023.96,411.10 L1024.14,410.97 L1024.31,410.83 L1024.49,410.69 L1024.67,410.55 L1024.85,410.40 L1025.02,410.24 L1025.20,410.08 L1025.38,409.92 L1025.55,409.75 L1025.73,409.57 L1025.91,409.39 L1026.08,409.20 L1026.26,409.00 L1026.44,408.80 L1026.62,408.59 L1026.79,408.38 L1026.97,408.15 L1027.15,407.92 L1027.32,407.68 L1027.50,407.44 L1027.68,407.18 L1027.85,406.92 L1028.03,406.64 L1028.21,406.36 L1028.39,406.06 L1028.56,405.76 L1028.74,405.44 L1028.92,405.11 L1029.09,404.77 L1029.27,404.42 L1029.45,404.05 L1029.62,403.67 L1029.80,403.27 L1029.98,402.86 L1030.16,402.43 L1030.33,401.99 L1030.51,401.52 L1030.69,401.04 L1030.86,400.54 L1031.04,400.02 L1031.22,399.47 L1031.39,398.90 L1031.57,398.31 L1031.75,397.69 L1031.93,397.05 L1032.10,396.37 L1032.28,395.67 L1032.46,394.93 L1032.63,394.16 L1032.81,393.35 L1032.99,392.51 L1033.16,391.62 L1033.34,390.70 L1033.52,389.72 L1033.70,388.70 L1033.87,387.63 L1034.05,386.51 L1034.23,385.33 L1034.40,384.08 L1034.58,382.78 L1034.76,381.40 L1034.93,379.95 L1035.11,378.42 L1035.29,376.81 L1035.46,375.12 L1035.64,373.33 L1035.82,371.44 L1036.00,369.45 L1036.17,367.34 L1036.35,365.12 L1036.53,362.77 L1036.70,360.29 L1036.88,357.67 L1037.06,354.91 L1037.23,351.98 L1037.41,348.90 L1037.59,345.64 L1037.77,342.21 L1037.94,338.60 L1038.12,334.79 L1038.30,330.80 L1038.47,326.60 L1038.65,322.22 L1038.83,317.64 L1039.00,312.87 L1039.18,307.93 L1039.36,302.83 L1039.54,297.58 L1039.71,292.23 L1039.89,286.80 L1040.07,281.34 L1040.24,275.89 L1040.42,270.53 L1040.60,265.31 L1040.77,260.32 L1040.95,255.63 L1041.13,251.34 L1041.31,247.51 L1041.48,244.24 L1041.66,241.60 L1041.84,239.64 L1042.01,238.43 L1042.19,237.98 L1042.20,237.98 L1042.37,238.32 L1042.54,239.42 L1042.72,241.27 L1042.90,243.82 L1043.08,247.00 L1043.25,250.74 L1043.43,254.96 L1043.61,259.58 L1043.78,264.52 L1043.96,269.68 L1044.14,275.01 L1044.31,280.42 L1044.49,285.85 L1044.67,291.26 L1044.85,296.59 L1045.02,301.82 L1045.20,306.91 L1045.38,311.84 L1045.55,316.59 L1045.73,321.16 L1045.91,325.54 L1046.08,329.72 L1046.26,333.71 L1046.44,337.51 L1046.62,341.11 L1046.79,344.53 L1046.97,347.77 L1047.15,350.85 L1047.32,353.76 L1047.50,356.51 L1047.68,359.11 L1047.85,361.58 L1048.03,363.91 L1048.21,366.11 L1048.39,368.19 L1048.56,370.17 L1048.74,372.03 L1048.92,373.80 L1049.09,375.48 L1049.27,377.06 L1049.45,378.56 L1049.62,379.99 L1049.80,381.34 L1049.98,382.62 L1050.16,383.84 L1050.33,384.99 L1050.51,386.09 L1050.69,387.13 L1050.86,388.12 L1051.04,389.07 L1051.22,389.97 L1051.39,390.82 L1051.57,391.63 L1051.75,392.41 L1051.93,393.15 L1052.10,393.85 L1052.28,394.52 L1052.46,395.16 L1052.63,395.78 L1052.81,396.36 L1052.99,396.92 L1053.16,397.45 L1053.34,397.96 L1053.52,398.45 L1053.70,398.91 L1053.87,399.36 L1054.05,399.78 L1054.23,400.19 L1054.40,400.58 L1054.58,400.95 L1054.76,401.31 L1054.93,401.65 L1055.11,401.98 L1055.29,402.29 L1055.47,402.59 L1055.64,402.88 L1055.82,403.15 L1056.00,403.41 L1056.17,403.66 L1056.35,403.90 L1056.53,404.13 L1056.70,404.35 L1056.88,404.56 L1057.06,404.76 L1057.24,404.95 L1057.41,405.14 L1057.59,405.31 L1057.77,405.48 L1057.94,405.64 L1058.12,405.79 L1058.30,405.93 L1058.47,406.07 L1058.65,406.20 L1058.83,406.32 L1059.00,406.44 L1059.18,406.55 L1059.36,406.66 L1059.54,406.76 L1059.71,406.85 L1059.89,406.94 L1060.07,407.02 L1060.24,407.09 L1060.42,407.16 L1060.60,407.23 L1060.77,407.29 L1060.95,407.35 L1061.13,407.40 L1061.31,407.45 L1061.48,407.49 L1061.66,407.52 L1061.84,407.56 L1062.01,407.59 L1062.19,407.61 L1062.37,407.63 L1062.54,407.64 L1062.72,407.65 L1062.90,407.66 L1063.08,407.66 L1063.25,407.66 L1063.43,407.65 L1063.61,407.64 L1063.78,407.63 L1063.96,407.61 L1064.14,407.59 L1064.31,407.56 L1064.49,407.53 L1064.67,407.50 L1064.85,407.46 L1065.02,407.41 L1065.20,407.36 L1065.38,407.31 L1065.55,407.26 L1065.73,407.20 L1065.91,407.13 L1066.08,407.06 L1066.26,406.99 L1066.44,406.91 L1066.62,406.83 L1066.79,406.74 L1066.97,406.65 L1067.15,406.55 L1067.32,406.45 L1067.50,406.34 L1067.68,406.23 L1067.85,406.12 L1068.03,405.99 L1068.21,405.87 L1068.39,405.73 L1068.56,405.60 L1068.74,405.45 L1068.92,405.30 L1069.09,405.15 L1069.27,404.99 L1069.45,404.82 L1069.62,404.64 L1069.80,404.46 L1069.98,404.28 L1070.16,404.08 L1070.33,403.88 L1070.51,403.67 L1070.69,403.45 L1070.86,403.23 L1071.04,402.99 L1071.22,402.75 L1071.39,402.50 L1071.57,402.24 L1071.75,401.97 L1071.93,401.69 L1072.10,401.40 L1072.28,401.11 L1072.46,400.80 L1072.63,400.47 L1072.81,400.14 L1072.99,399.80 L1073.16,399.44 L1073.34,399.07 L1073.52,398.68 L1073.70,398.29 L1073.87,397.87 L1074.05,397.44 L1074.23,397.00 L1074.40,396.54 L1074.58,396.06 L1074.76,395.56 L1074.93,395.05 L1075.11,394.51 L1075.29,393.95 L1075.47,393.37 L1075.64,392.77 L1075.82,392.15 L1076.00,391.49 L1076.17,390.82 L1076.35,390.11 L1076.53,389.38 L1076.70,388.61 L1076.88,387.82 L1077.06,386.98 L1077.24,386.12 L1077.41,385.21 L1077.59,384.27 L1077.77,383.28 L1077.94,382.26 L1078.12,381.18 L1078.30,380.05 L1078.47,378.88 L1078.65,377.65 L1078.83,376.36 L1079.01,375.01 L1079.18,373.59 L1079.36,372.11 L1079.54,370.55 L1079.71,368.91 L1079.89,367.20 L1080.07,365.39 L1080.24,363.50 L1080.42,361.50 L1080.60,359.41 L1080.77,357.20 L1080.95,354.87 L1081.13,352.42 L1081.31,349.83 L1081.48,347.11 L1081.66,344.23 L1081.84,341.20 L1082.01,337.99 L1082.19,334.61 L1082.37,331.03 L1082.54,327.25 L1082.72,323.26 L1082.90,319.05 L1083.08,314.59 L1083.25,309.89 L1083.43,304.92 L1083.61,299.68 L1083.78,294.16 L1083.96,288.34 L1084.14,282.22 L1084.31,275.78 L1084.49,269.04 L1084.67,261.98 L1084.85,254.61 L1085.02,246.95 L1085.20,239.00 L1085.38,230.80 L1085.55,222.38 L1085.73,213.79 L1085.91,205.08 L1086.08,196.32 L1086.26,187.61 L1086.44,179.03 L1086.62,170.71 L1086.79,162.75 L1086.97,155.30 L1087.15,148.49 L1087.32,142.45 L1087.50,137.30 L1087.68,133.18 L1087.85,130.17 L1088.03,128.36 L1088.20,127.78 L1088.21,127.78 L1088.39,128.45 L1088.56,130.36 L1088.74,133.45 L1088.92,137.65 L1089.09,142.86 L1089.27,148.95 L1089.45,155.81 L1089.62,163.29 L1089.80,171.26 L1089.98,179.58 L1090.16,188.15 L1090.33,196.84 L1090.51,205.57 L1090.69,214.24 L1090.86,222.79 L1091.04,231.16 L1091.22,239.31 L1091.39,247.20 L1091.57,254.81 L1091.75,262.12 L1091.93,269.11 L1092.10,275.80 L1092.28,282.17 L1092.46,288.24 L1092.63,294.00 L1092.81,299.47 L1092.99,304.65 L1093.16,309.56 L1093.34,314.21 L1093.52,318.61 L1093.70,322.77 L1093.87,326.71 L1094.05,330.44 L1094.23,333.96 L1094.40,337.30 L1094.58,340.45 L1094.76,343.44 L1094.93,346.27 L1095.11,348.95 L1095.29,351.49 L1095.47,353.90 L1095.64,356.18 L1095.82,358.35 L1096.00,360.40 L1096.17,362.35 L1096.35,364.21 L1096.53,365.97 L1096.70,367.64 L1096.88,369.24 L1097.06,370.75 L1097.24,372.20 L1097.41,373.57 L1097.59,374.88 L1097.77,376.13 L1097.94,377.32 L1098.12,378.45 L1098.30,379.54 L1098.47,380.57 L1098.65,381.56 L1098.83,382.50 L1099.01,383.41 L1099.18,384.27 L1099.36,385.09 L1099.54,385.88 L1099.71,386.64 L1099.89,387.36 L1100.07,388.05 L1100.24,388.71 L1100.42,389.35 L1100.60,389.96 L1100.78,390.54 L1100.95,391.09 L1101.13,391.63 L1101.31,392.14 L1101.48,392.63 L1101.66,393.10 L1101.84,393.55 L1102.01,393.98 L1102.19,394.40 L1102.37,394.80 L1102.55,395.18 L1102.72,395.54 L1102.90,395.89 L1103.08,396.22 L1103.25,396.54 L1103.43,396.85 L1103.61,397.14 L1103.78,397.42 L1103.96,397.69 L1104.14,397.95 L1104.31,398.19 L1104.49,398.42 L1104.67,398.65 L1104.85,398.86 L1105.02,399.06 L1105.20,399.25 L1105.38,399.43 L1105.55,399.61 L1105.73,399.77 L1105.91,399.93 L1106.08,400.07 L1106.26,400.21 L1106.44,400.34 L1106.62,400.46 L1106.79,400.57 L1106.97,400.68 L1107.15,400.78 L1107.32,400.87 L1107.50,400.95 L1107.68,401.03 L1107.85,401.10 L1108.03,401.16 L1108.21,401.22 L1108.39,401.26 L1108.56,401.31 L1108.74,401.34 L1108.92,401.37 L1109.09,401.39 L1109.27,401.41 L1109.45,401.41 L1109.62,401.42 L1109.80,401.41 L1109.98,401.40 L1110.16,401.38 L1110.33,401.36 L1110.51,401.33 L1110.69,401.29 L1110.86,401.25 L1111.04,401.20 L1111.22,401.15 L1111.39,401.08 L1111.57,401.01 L1111.75,400.94 L1111.93,400.86 L1112.10,400.77 L1112.28,400.67 L1112.46,400.57 L1112.63,400.46 L1112.81,400.34 L1112.99,400.21 L1113.16,400.08 L1113.34,399.94 L1113.52,399.79 L1113.70,399.64 L1113.87,399.48 L1114.05,399.30 L1114.23,399.12 L1114.40,398.93 L1114.58,398.74 L1114.76,398.53 L1114.93,398.32 L1115.11,398.09 L1115.29,397.86 L1115.47,397.61 L1115.64,397.36 L1115.82,397.09 L1116.00,396.81 L1116.17,396.53 L1116.35,396.23 L1116.53,395.92 L1116.70,395.59 L1116.88,395.26 L1117.06,394.91 L1117.24,394.55 L1117.41,394.17 L1117.59,393.78 L1117.77,393.37 L1117.94,392.95 L1118.12,392.51 L1118.30,392.05 L1118.47,391.58 L1118.65,391.08 L1118.83,390.57 L1119.01,390.04 L1119.18,389.49 L1119.36,388.92 L1119.54,388.32 L1119.71,387.70 L1119.89,387.05 L1120.07,386.38 L1120.24,385.69 L1120.42,384.96 L1120.60,384.21 L1120.78,383.42 L1120.95,382.60 L1121.13,381.75 L1121.31,380.86 L1121.48,379.94 L1121.66,378.97 L1121.84,377.97 L1122.01,376.92 L1122.19,375.82 L1122.37,374.68 L1122.55,373.48 L1122.72,372.24 L1122.90,370.93 L1123.08,369.57 L1123.25,368.15 L1123.43,366.65 L1123.61,365.09 L1123.78,363.46 L1123.96,361.74 L1124.14,359.94 L1124.32,358.06 L1124.49,356.08 L1124.67,354.00 L1124.85,351.82 L1125.02,349.53 L1125.20,347.12 L1125.38,344.58 L1125.55,341.92 L1125.73,339.11 L1125.91,336.14 L1126.09,333.03 L1126.26,329.74 L1126.44,326.27 L1126.62,322.61 L1126.79,318.74 L1126.97,314.66 L1127.15,310.35 L1127.32,305.80 L1127.50,300.99 L1127.68,295.90 L1127.85,290.53 L1128.03,284.86 L1128.21,278.86 L1128.39,272.53 L1128.56,265.85 L1128.74,258.80 L1128.92,251.37 L1129.09,243.56 L1129.27,235.34 L1129.45,226.72 L1129.62,217.69 L1129.80,208.27 L1129.98,198.45 L1130.16,188.26 L1130.33,177.74 L1130.51,166.91 L1130.69,155.85 L1130.86,144.62 L1131.04,133.30 L1131.22,122.01 L1131.39,110.86 L1131.57,100.00 L1131.75,89.58 L1131.93,79.77 L1132.10,70.73 L1132.28,62.66 L1132.46,55.71 L1132.63,50.05 L1132.81,45.80 L1132.99,43.07 L1133.16,41.93 L1133.20,41.90 L1133.34,42.42 L1133.52,44.50 L1133.70,48.15 L1133.87,53.25 L1134.05,59.69 L1134.23,67.33 L1134.40,75.99 L1134.58,85.50 L1134.76,95.69 L1134.93,106.38 L1135.11,117.42 L1135.29,128.66 L1135.47,139.97 L1135.64,151.24 L1135.82,162.37 L1136.00,173.28 L1136.17,183.92 L1136.35,194.24 L1136.53,204.19 L1136.70,213.77 L1136.88,222.94 L1137.06,231.72 L1137.24,240.08 L1137.41,248.05 L1137.59,255.61 L1137.77,262.80 L1137.94,269.61 L1138.12,276.07 L1138.30,282.19 L1138.47,287.98 L1138.65,293.46 L1138.83,298.64 L1139.01,303.55 L1139.18,308.19 L1139.36,312.58 L1139.54,316.74 L1139.71,320.68 L1139.89,324.40 L1140.07,327.94 L1140.24,331.28 L1140.42,334.46 L1140.60,337.47 L1140.78,340.32 L1140.95,343.03 L1141.13,345.61 L1141.31,348.06 L1141.48,350.38 L1141.66,352.59 L1141.84,354.70 L1142.01,356.70 L1142.19,358.61 L1142.37,360.43 L1142.55,362.16 L1142.72,363.81 L1142.90,365.39 L1143.08,366.89 L1143.25,368.33 L1143.43,369.70 L1143.61,371.02 L1143.78,372.27 L1143.96,373.47 L1144.14,374.62 L1144.32,375.72 L1144.49,376.77 L1144.67,377.77 L1144.85,378.74 L1145.02,379.66 L1145.20,380.55 L1145.38,381.40 L1145.55,382.21 L1145.73,383.00 L1145.91,383.75 L1146.09,384.46 L1146.26,385.16 L1146.44,385.82 L1146.62,386.45 L1146.79,387.07 L1146.97,387.65 L1147.15,388.22 L1147.32,388.76 L1147.50,389.28 L1147.68,389.78 L1147.86,390.26 L1148.03,390.72 L1148.21,391.16 L1148.39,391.58 L1148.56,391.99 L1148.74,392.38 L1148.92,392.76 L1149.09,393.12 L1149.27,393.46 L1149.45,393.80 L1149.63,394.11 L1149.80,394.42 L1149.98,394.71 L1150.16,394.99 L1150.33,395.25 L1150.51,395.51 L1150.69,395.75 L1150.86,395.98 L1151.04,396.21 L1151.22,396.42 L1151.39,396.62 L1151.57,396.81 L1151.75,396.99 L1151.93,397.16 L1152.10,397.32 L1152.28,397.47 L1152.46,397.61 L1152.63,397.75 L1152.81,397.87 L1152.99,397.99 L1153.16,398.10 L1153.34,398.20 L1153.52,398.29 L1153.70,398.37 L1153.87,398.45 L1154.05,398.51 L1154.23,398.57 L1154.40,398.62 L1154.58,398.67 L1154.76,398.70 L1154.93,398.73 L1155.11,398.75 L1155.29,398.76 L1155.47,398.77 L1155.64,398.77 L1155.82,398.76 L1156.00,398.74 L1156.17,398.71 L1156.35,398.68 L1156.53,398.64 L1156.70,398.59 L1156.88,398.53 L1157.06,398.47 L1157.24,398.39 L1157.41,398.31 L1157.59,398.22 L1157.77,398.12 L1157.94,398.02 L1158.12,397.90 L1158.30,397.78 L1158.47,397.65 L1158.65,397.50 L1158.83,397.35 L1159.01,397.19 L1159.18,397.02 L1159.36,396.84 L1159.54,396.65 L1159.71,396.45 L1159.89,396.24 L1160.07,396.02 L1160.24,395.78 L1160.42,395.54 L1160.60,395.28 L1160.78,395.01 L1160.95,394.73 L1161.13,394.43 L1161.31,394.12 L1161.48,393.80 L1161.66,393.46 L1161.84,393.11 L1162.01,392.74 L1162.19,392.35 L1162.37,391.95 L1162.55,391.54 L1162.72,391.10 L1162.90,390.64 L1163.08,390.17 L1163.25,389.68 L1163.43,389.16 L1163.61,388.62 L1163.78,388.06 L1163.96,387.48 L1164.14,386.87 L1164.32,386.23 L1164.49,385.57 L1164.67,384.88 L1164.85,384.16 L1165.02,383.41 L1165.20,382.62 L1165.38,381.80 L1165.55,380.95 L1165.73,380.05 L1165.91,379.12 L1166.09,378.14 L1166.26,377.12 L1166.44,376.06 L1166.62,374.94 L1166.79,373.77 L1166.97,372.55 L1167.15,371.27 L1167.32,369.93 L1167.50,368.53 L1167.68,367.06 L1167.86,365.52 L1168.03,363.90 L1168.21,362.20 L1168.39,360.41 L1168.56,358.54 L1168.74,356.57 L1168.92,354.50 L1169.09,352.32 L1169.27,350.02 L1169.45,347.61 L1169.63,345.06 L1169.80,342.38 L1169.98,339.56 L1170.16,336.58 L1170.33,333.43 L1170.51,330.11 L1170.69,326.60 L1170.86,322.90 L1171.04,318.99 L1171.22,314.86 L1171.40,310.49 L1171.57,305.87 L1171.75,300.99 L1171.93,295.83 L1172.10,290.38 L1172.28,284.63 L1172.46,278.55 L1172.63,272.14 L1172.81,265.39 L1172.99,258.28 L1173.16,250.80 L1173.34,242.96 L1173.52,234.74 L1173.70,226.16 L1173.87,217.22 L1174.05,207.94 L1174.23,198.35 L1174.40,188.49 L1174.58,178.41 L1174.76,168.17 L1174.93,157.85 L1175.11,147.55 L1175.29,137.38 L1175.47,127.46 L1175.64,117.94 L1175.82,108.98 L1176.00,100.72 L1176.17,93.32 L1176.35,86.95 L1176.53,81.75 L1176.70,77.84 L1176.88,75.31 L1177.06,74.24 L1177.10,74.20 L1177.24,74.64 L1177.41,76.51 L1177.59,79.80 L1177.77,84.43 L1177.94,90.29 L1178.12,97.24 L1178.30,105.13 L1178.47,113.80 L1178.65,123.10 L1178.83,132.86 L1179.01,142.94 L1179.18,153.21 L1179.36,163.55 L1179.54,173.85 L1179.71,184.03 L1179.89,194.01 L1180.07,203.75 L1180.24,213.19 L1180.42,222.30 L1180.60,231.07 L1180.78,239.47 L1180.95,247.50 L1181.13,255.16 L1181.31,262.45 L1181.48,269.39 L1181.66,275.97 L1181.84,282.21 L1182.01,288.13 L1182.19,293.74 L1182.37,299.04 L1182.55,304.06 L1182.72,308.82 L1182.90,313.31 L1183.08,317.57 L1183.25,321.60 L1183.43,325.41 L1183.61,329.02 L1183.78,332.44 L1183.96,335.69 L1184.14,338.76 L1184.32,341.67 L1184.49,344.43 L1184.67,347.05 L1184.85,349.54 L1185.02,351.91 L1185.20,354.16 L1185.38,356.29 L1185.55,358.33 L1185.73,360.26 L1185.91,362.10 L1186.09,363.86 L1186.26,365.53 L1186.44,367.12 L1186.62,368.64 L1186.79,370.10 L1186.97,371.48 L1187.15,372.81 L1187.32,374.07 L1187.50,375.28 L1187.68,376.44 L1187.86,377.54 L1188.03,378.60 L1188.21,379.62 L1188.39,380.59 L1188.56,381.52 L1188.74,382.41 L1188.92,383.26 L1189.09,384.08 L1189.27,384.87 L1189.45,385.62 L1189.63,386.35 L1189.80,387.04 L1189.98,387.71 L1190.16,388.35 L1190.33,388.97 L1190.51,389.56 L1190.69,390.13 L1190.86,390.67 L1191.04,391.20 L1191.22,391.70 L1191.40,392.19 L1191.57,392.65 L1191.75,393.10 L1191.93,393.53 L1192.10,393.95 L1192.28,394.35 L1192.46,394.73 L1192.63,395.10 L1192.81,395.45 L1192.99,395.79 L1193.17,396.11 L1193.34,396.43 L1193.52,396.73 L1193.70,397.01 L1193.87,397.29 L1194.05,397.55 L1194.23,397.81 L1194.40,398.05 L1194.58,398.28 L1194.76,398.51 L1194.94,398.72 L1195.11,398.92 L1195.29,399.11 L1195.47,399.30 L1195.64,399.47 L1195.82,399.64 L1196.00,399.79 L1196.17,399.94 L1196.35,400.08 L1196.53,400.22 L1196.70,400.34 L1196.88,400.46 L1197.06,400.56 L1197.24,400.67 L1197.41,400.76 L1197.59,400.84 L1197.77,400.92 L1197.94,400.99 L1198.12,401.06 L1198.30,401.11 L1198.47,401.16 L1198.65,401.21 L1198.83,401.24 L1199.01,401.27 L1199.18,401.29 L1199.36,401.31 L1199.54,401.31 L1199.71,401.31 L1199.89,401.31 L1200.07,401.29 L1200.24,401.27 L1200.42,401.24 L1200.60,401.20 L1200.78,401.16 L1200.95,401.11 L1201.13,401.05 L1201.31,400.98 L1201.48,400.91 L1201.66,400.83 L1201.84,400.74 L1202.01,400.64 L1202.19,400.53 L1202.37,400.42 L1202.55,400.29 L1202.72,400.16 L1202.90,400.02 L1203.08,399.87 L1203.25,399.71 L1203.43,399.54 L1203.61,399.36 L1203.78,399.17 L1203.96,398.97 L1204.14,398.76 L1204.32,398.53 L1204.49,398.30 L1204.67,398.05 L1204.85,397.79 L1205.02,397.52 L1205.20,397.23 L1205.38,396.93 L1205.55,396.62 L1205.73,396.29 L1205.91,395.95 L1206.09,395.59 L1206.26,395.21 L1206.44,394.82 L1206.62,394.40 L1206.79,393.97 L1206.97,393.52 L1207.15,393.05 L1207.32,392.55 L1207.50,392.04 L1207.68,391.50 L1207.86,390.94 L1208.03,390.35 L1208.21,389.73 L1208.39,389.08 L1208.56,388.41 L1208.74,387.70 L1208.92,386.96 L1209.09,386.18 L1209.27,385.37 L1209.45,384.52 L1209.63,383.63 L1209.80,382.70 L1209.98,381.72 L1210.16,380.69 L1210.33,379.62 L1210.51,378.49 L1210.69,377.30 L1210.86,376.05 L1211.04,374.74 L1211.22,373.37 L1211.40,371.92 L1211.57,370.39 L1211.75,368.79 L1211.93,367.10 L1212.10,365.32 L1212.28,363.45 L1212.46,361.48 L1212.63,359.39 L1212.81,357.19 L1212.99,354.87 L1213.17,352.42 L1213.34,349.84 L1213.52,347.10 L1213.70,344.21 L1213.87,341.16 L1214.05,337.93 L1214.23,334.52 L1214.40,330.91 L1214.58,327.10 L1214.76,323.07 L1214.94,318.81 L1215.11,314.32 L1215.29,309.57 L1215.47,304.57 L1215.64,299.30 L1215.82,293.76 L1216.00,287.94 L1216.17,281.84 L1216.35,275.46 L1216.53,268.82 L1216.71,261.91 L1216.88,254.77 L1217.06,247.41 L1217.24,239.87 L1217.41,232.21 L1217.59,224.46 L1217.77,216.71 L1217.94,209.04 L1218.12,201.53 L1218.30,194.30 L1218.48,187.44 L1218.65,181.09 L1218.83,175.37 L1219.01,170.38 L1219.18,166.25 L1219.36,163.06 L1219.54,160.90 L1219.71,159.82 L1219.80,159.70 L1219.89,159.86 L1220.07,161.00 L1220.24,163.22 L1220.42,166.46 L1220.60,170.66 L1220.78,175.70 L1220.95,181.48 L1221.13,187.87 L1221.31,194.77 L1221.48,202.05 L1221.66,209.59 L1221.84,217.30 L1222.01,225.09 L1222.19,232.86 L1222.37,240.56 L1222.55,248.12 L1222.72,255.51 L1222.90,262.68 L1223.08,269.61 L1223.25,276.28 L1223.43,282.69 L1223.61,288.81 L1223.78,294.66 L1223.96,300.22 L1224.14,305.52 L1224.32,310.55 L1224.49,315.32 L1224.67,319.84 L1224.85,324.13 L1225.02,328.19 L1225.20,332.03 L1225.38,335.67 L1225.55,339.11 L1225.73,342.37 L1225.91,345.45 L1226.09,348.37 L1226.26,351.14 L1226.44,353.76 L1226.62,356.24 L1226.79,358.60 L1226.97,360.83 L1227.15,362.95 L1227.32,364.96 L1227.50,366.87 L1227.68,368.68 L1227.86,370.40 L1228.03,372.04 L1228.21,373.60 L1228.39,375.09 L1228.56,376.50 L1228.74,377.85 L1228.92,379.14 L1229.09,380.36 L1229.27,381.53 L1229.45,382.65 L1229.63,383.72 L1229.80,384.74 L1229.98,385.71 L1230.16,386.65 L1230.33,387.54 L1230.51,388.39 L1230.69,389.21 L1230.86,389.99 L1231.04,390.75 L1231.22,391.47 L1231.40,392.16 L1231.57,392.82 L1231.75,393.46 L1231.93,394.07 L1232.10,394.66 L1232.28,395.22 L1232.46,395.76 L1232.63,396.29 L1232.81,396.79 L1232.99,397.27 L1233.17,397.73 L1233.34,398.18 L1233.52,398.61 L1233.70,399.03 L1233.87,399.42 L1234.05,399.81 L1234.23,400.18 L1234.40,400.54 L1234.58,400.88 L1234.76,401.21 L1234.94,401.53 L1235.11,401.84 L1235.29,402.13 L1235.47,402.42 L1235.64,402.69 L1235.82,402.96 L1236.00,403.22 L1236.17,403.46 L1236.35,403.70 L1236.53,403.93 L1236.71,404.15 L1236.88,404.36 L1237.06,404.57 L1237.24,404.76 L1237.41,404.95 L1237.59,405.13 L1237.77,405.31 L1237.94,405.48 L1238.12,405.64 L1238.30,405.79 L1238.48,405.94 L1238.65,406.09 L1238.83,406.22 L1239.01,406.36 L1239.18,406.48 L1239.36,406.60 L1239.54,406.72 L1239.71,406.82 L1239.89,406.93 L1240.07,407.03 L1240.25,407.12 L1240.42,407.21 L1240.60,407.29 L1240.78,407.37 L1240.95,407.44 L1241.13,407.51 L1241.31,407.58 L1241.48,407.64 L1241.66,407.69 L1241.84,407.74 L1242.02,407.79 L1242.19,407.83 L1242.37,407.87 L1242.55,407.90 L1242.72,407.93 L1242.90,407.95 L1243.08,407.97 L1243.25,407.98 L1243.43,407.99 L1243.61,408.00 L1243.78,408.00 L1243.96,408.00 L1244.14,407.99 L1244.32,407.97 L1244.49,407.96 L1244.67,407.93 L1244.85,407.91 L1245.02,407.87 L1245.20,407.84 L1245.38,407.79 L1245.55,407.74 L1245.73,407.69 L1245.91,407.63 L1246.09,407.57 L1246.26,407.50 L1246.44,407.42 L1246.62,407.34 L1246.79,407.25 L1246.97,407.16 L1247.15,407.06 L1247.32,406.95 L1247.50,406.84 L1247.68,406.72 L1247.86,406.59 L1248.03,406.46 L1248.21,406.31 L1248.39,406.16 L1248.56,406.00 L1248.74,405.83 L1248.92,405.66 L1249.09,405.47 L1249.27,405.28 L1249.45,405.07 L1249.63,404.86 L1249.80,404.63 L1249.98,404.39 L1250.16,404.14 L1250.33,403.88 L1250.51,403.61 L1250.69,403.32 L1250.86,403.02 L1251.04,402.70 L1251.22,402.37 L1251.40,402.02 L1251.57,401.66 L1251.75,401.27 L1251.93,400.87 L1252.10,400.45 L1252.28,400.01 L1252.46,399.55 L1252.63,399.06 L1252.81,398.55 L1252.99,398.02 L1253.17,397.46 L1253.34,396.87 L1253.52,396.25 L1253.70,395.59 L1253.87,394.91 L1254.05,394.19 L1254.23,393.43 L1254.40,392.63 L1254.58,391.79 L1254.76,390.91 L1254.94,389.97 L1255.11,388.99 L1255.29,387.95 L1255.47,386.86 L1255.64,385.70 L1255.82,384.49 L1256.00,383.20 L1256.17,381.84 L1256.35,380.40 L1256.53,378.88 L1256.71,377.28 L1256.88,375.58 L1257.06,373.79 L1257.24,371.89 L1257.41,369.88 L1257.59,367.76 L1257.77,365.52 L1257.94,363.15 L1258.12,360.65 L1258.30,358.00 L1258.48,355.22 L1258.65,352.28 L1258.83,349.20 L1259.01,345.95 L1259.18,342.56 L1259.36,339.00 L1259.54,335.30 L1259.71,331.46 L1259.89,327.48 L1260.07,323.38 L1260.25,319.18 L1260.42,314.92 L1260.60,310.61 L1260.78,306.30 L1260.95,302.04 L1261.13,297.87 L1261.31,293.85 L1261.48,290.06 L1261.66,286.54 L1261.84,283.38 L1262.02,280.63 L1262.19,278.36 L1262.37,276.62 L1262.55,275.45 L1262.72,274.89 L1262.80,274.84 L1262.90,274.95 L1263.08,275.62 L1263.25,276.90 L1263.43,278.74 L1263.61,281.11 L1263.79,283.94 L1263.96,287.19 L1264.14,290.77 L1264.32,294.63 L1264.49,298.70 L1264.67,302.92 L1264.85,307.22 L1265.02,311.56 L1265.20,315.90 L1265.38,320.19 L1265.55,324.40 L1265.73,328.52 L1265.91,332.51 L1266.09,336.37 L1266.26,340.08 L1266.44,343.65 L1266.62,347.06 L1266.79,350.31 L1266.97,353.41 L1267.15,356.36 L1267.32,359.15 L1267.50,361.81 L1267.68,364.33 L1267.86,366.71 L1268.03,368.97 L1268.21,371.11 L1268.39,373.14 L1268.56,375.06 L1268.74,376.87 L1268.92,378.59 L1269.09,380.21 L1269.27,381.76 L1269.45,383.22 L1269.63,384.60 L1269.80,385.91 L1269.98,387.16 L1270.16,388.34 L1270.33,389.46 L1270.51,390.52 L1270.69,391.54 L1270.86,392.50 L1271.04,393.41 L1271.22,394.28 L1271.40,395.11 L1271.57,395.90 L1271.75,396.66 L1271.93,397.38 L1272.10,398.06 L1272.28,398.72 L1272.46,399.34 L1272.63,399.94 L1272.81,400.51 L1272.99,401.05 L1273.17,401.58 L1273.34,402.08 L1273.52,402.55 L1273.70,403.01 L1273.87,403.45 L1274.05,403.87 L1274.23,404.28 L1274.40,404.67 L1274.58,405.04 L1274.76,405.40 L1274.94,405.74 L1275.11,406.07 L1275.29,406.39 L1275.47,406.69 L1275.64,406.98 L1275.82,407.27 L1276.00,407.54 L1276.17,407.80 L1276.35,408.05 L1276.53,408.29 L1276.71,408.53 L1276.88,408.75 L1277.06,408.97 L1277.24,409.18 L1277.41,409.38 L1277.59,409.57 L1277.77,409.76 L1277.94,409.94 L1278.12,410.11 L1278.30,410.28 L1278.48,410.44 L1278.65,410.60 L1278.83,410.74 L1279.01,410.89 L1279.18,411.03 L1279.36,411.16 L1279.54,411.29 L1279.71,411.42 L1279.89,411.54 L1280.07,411.65 L1280.25,411.76 L1280.42,411.87 L1280.60,411.97 L1280.78,412.07 L1280.95,412.17 L1281.13,412.26 L1281.31,412.35 L1281.48,412.43 L1281.66,412.51 L1281.84,412.59 L1282.02,412.66 L1282.19,412.73 L1282.37,412.80 L1282.55,412.86 L1282.72,412.92 L1282.90,412.98 L1283.08,413.03 L1283.25,413.09 L1283.43,413.13 L1283.61,413.18 L1283.79,413.22 L1283.96,413.26 L1284.14,413.30 L1284.32,413.33 L1284.49,413.37 L1284.67,413.39 L1284.85,413.42 L1285.02,413.44 L1285.20,413.46 L1285.38,413.48 L1285.56,413.50 L1285.73,413.51 L1285.91,413.52 L1286.09,413.52 L1286.26,413.53 L1286.44,413.53 L1286.62,413.52 L1286.79,413.52 L1286.97,413.51 L1287.15,413.50 L1287.33,413.48 L1287.50,413.47 L1287.68,413.45 L1287.86,413.42 L1288.03,413.39 L1288.21,413.36 L1288.39,413.33 L1288.56,413.29 L1288.74,413.25 L1288.92,413.20 L1289.09,413.15 L1289.27,413.10 L1289.45,413.04 L1289.63,412.98 L1289.80,412.91 L1289.98,412.84 L1290.16,412.76 L1290.33,412.68 L1290.51,412.60 L1290.69,412.51 L1290.86,412.41 L1291.04,412.31 L1291.22,412.20 L1291.40,412.09 L1291.57,411.96 L1291.75,411.84 L1291.93,411.70 L1292.10,411.56 L1292.28,411.41 L1292.46,411.25 L1292.63,411.08 L1292.81,410.91 L1292.99,410.72 L1293.17,410.53 L1293.34,410.32 L1293.52,410.11 L1293.70,409.88 L1293.87,409.64 L1294.05,409.39 L1294.23,409.12 L1294.40,408.84 L1294.58,408.54 L1294.76,408.23 L1294.94,407.90 L1295.11,407.56 L1295.29,407.19 L1295.47,406.81 L1295.64,406.40 L1295.82,405.97 L1296.00,405.51 L1296.17,405.03 L1296.35,404.53 L1296.53,403.99 L1296.71,403.42 L1296.88,402.83 L1297.06,402.19 L1297.24,401.52 L1297.41,400.81 L1297.59,400.06 L1297.77,399.27 L1297.94,398.43 L1298.12,397.54 L1298.30,396.60 L1298.48,395.60 L1298.65,394.55 L1298.83,393.44 L1299.01,392.27 L1299.18,391.03 L1299.36,389.72 L1299.54,388.35 L1299.71,386.91 L1299.89,385.40 L1300.07,383.82 L1300.25,382.17 L1300.42,380.46 L1300.60,378.69 L1300.78,376.87 L1300.95,375.00 L1301.13,373.10 L1301.31,371.19 L1301.48,369.27 L1301.66,367.38 L1301.84,365.53 L1302.02,363.75 L1302.19,362.07 L1302.37,360.51 L1302.55,359.11 L1302.72,357.90 L1302.90,356.91 L1303.08,356.15 L1303.25,355.65 L1303.43,355.42 L1303.50,355.40 L1303.61,355.46 L1303.79,355.78 L1303.96,356.36 L1304.14,357.20 L1304.32,358.27 L1304.49,359.55 L1304.67,361.02 L1304.85,362.63 L1305.02,364.36 L1305.20,366.18 L1305.38,368.07 L1305.56,370.00 L1305.73,371.94 L1305.91,373.88 L1306.09,375.79 L1306.26,377.68 L1306.44,379.51 L1306.62,381.30 L1306.79,383.02 L1306.97,384.68 L1307.15,386.27 L1307.33,387.79 L1307.50,389.25 L1307.68,390.63 L1307.86,391.95 L1308.03,393.20 L1308.21,394.38 L1308.39,395.51 L1308.56,396.57 L1308.74,397.58 L1308.92,398.54 L1309.10,399.44 L1309.27,400.30 L1309.45,401.11 L1309.63,401.88 L1309.80,402.61 L1309.98,403.30 L1310.16,403.96 L1310.33,404.58 L1310.51,405.16 L1310.69,405.72 L1310.87,406.25 L1311.04,406.76 L1311.22,407.23 L1311.40,407.69 L1311.57,408.12 L1311.75,408.53 L1311.93,408.92 L1312.10,409.30 L1312.28,409.65 L1312.46,409.99 L1312.63,410.32 L1312.81,410.63 L1312.99,410.92 L1313.17,411.20 L1313.34,411.47 L1313.52,411.73 L1313.70,411.98 L1313.87,412.22 L1314.05,412.44 L1314.23,412.66 L1314.40,412.87 L1314.58,413.07 L1314.76,413.26 L1314.94,413.44 L1315.11,413.62 L1315.29,413.79 L1315.47,413.95 L1315.64,414.11 L1315.82,414.26 L1316.00,414.41 L1316.17,414.55 L1316.35,414.68 L1316.53,414.81 L1316.71,414.94 L1316.88,415.06 L1317.06,415.17 L1317.24,415.29 L1317.41,415.39 L1317.59,415.50 L1317.77,415.60 L1317.94,415.70 L1318.12,415.79 L1318.30,415.88 L1318.48,415.97 L1318.65,416.05 L1318.83,416.14 L1319.01,416.21 L1319.18,416.29 L1319.36,416.36 L1319.54,416.44 L1319.71,416.50 L1319.89,416.57 L1320.07,416.64 L1320.25,416.70 L1320.42,416.76 L1320.60,416.82 L1320.78,416.87 L1320.95,416.93 L1321.13,416.98 L1321.31,417.03 L1321.48,417.08 L1321.66,417.13 L1321.84,417.17 L1322.02,417.21 L1322.19,417.26 L1322.37,417.30 L1322.55,417.34 L1322.72,417.38 L1322.90,417.41 L1323.08,417.45 L1323.25,417.48 L1323.43,417.51 L1323.61,417.55 L1323.79,417.58 L1323.96,417.60 L1324.14,417.63 L1324.32,417.66 L1324.49,417.68 L1324.67,417.71 L1324.85,417.73 L1325.02,417.75 L1325.20,417.77 L1325.38,417.79 L1325.56,417.81 L1325.73,417.83 L1325.91,417.84 L1326.09,417.86 L1326.26,417.87 L1326.44,417.88 L1326.62,417.89 L1326.79,417.90 L1326.97,417.91 L1327.15,417.92 L1327.33,417.93 L1327.50,417.93 L1327.68,417.94 L1327.86,417.94 L1328.03,417.95 L1328.21,417.95 L1328.39,417.95 L1328.56,417.95 L1328.74,417.94 L1328.92,417.94 L1329.10,417.93 L1329.27,417.93 L1329.45,417.92 L1329.63,417.91 L1329.80,417.90 L1329.98,417.89 L1330.16,417.87 L1330.33,417.86 L1330.51,417.84 L1330.69,417.82 L1330.87,417.81 L1331.04,417.78 L1331.22,417.76 L1331.40,417.74 L1331.57,417.71 L1331.75,417.68 L1331.93,417.65 L1332.10,417.61 L1332.28,417.58 L1332.46,417.54 L1332.64,417.50 L1332.81,417.46 L1332.99,417.41 L1333.17,417.37 L1333.34,417.31 L1333.52,417.26 L1333.70,417.20 L1333.87,417.14 L1334.05,417.08 L1334.23,417.01 L1334.41,416.94 L1334.58,416.86 L1334.76,416.79 L1334.94,416.70 L1335.11,416.61 L1335.29,416.52 L1335.47,416.42 L1335.64,416.32 L1335.82,416.20 L1336.00,416.09 L1336.17,415.96 L1336.35,415.83 L1336.53,415.70 L1336.71,415.55 L1336.88,415.40 L1337.06,415.24 L1337.24,415.06 L1337.41,414.88 L1337.59,414.69 L1337.77,414.49 L1337.94,414.27 L1338.12,414.04 L1338.30,413.80 L1338.48,413.55 L1338.65,413.28 L1338.83,412.99 L1339.01,412.69 L1339.18,412.36 L1339.36,412.02 L1339.54,411.66 L1339.71,411.28 L1339.89,410.88 L1340.07,410.45 L1340.25,410.01 L1340.42,409.53 L1340.60,409.03 L1340.78,408.51 L1340.95,407.96 L1341.13,407.38 L1341.31,406.78 L1341.48,406.16 L1341.66,405.51 L1341.84,404.85 L1342.02,404.16 L1342.19,403.47 L1342.37,402.77 L1342.55,402.06 L1342.72,401.36 L1342.90,400.68 L1343.08,400.02 L1343.25,399.39 L1343.43,398.81 L1343.61,398.28 L1343.79,397.82 L1343.96,397.44 L1344.14,397.14 L1344.32,396.94 L1344.49,396.83 L1344.60,396.82 L1344.67,396.83 L1344.85,396.93 L1345.02,397.13 L1345.20,397.42 L1345.38,397.80 L1345.56,398.26 L1345.73,398.79 L1345.91,399.38 L1346.09,400.01 L1346.26,400.68 L1346.44,401.37 L1346.62,402.09 L1346.79,402.81 L1346.97,403.52 L1347.15,404.24 L1347.33,404.94 L1347.50,405.62 L1347.68,406.29 L1347.86,406.93 L1348.03,407.55 L1348.21,408.15 L1348.39,408.72 L1348.56,409.26 L1348.74,409.78 L1348.92,410.28 L1349.10,410.74 L1349.27,411.19 L1349.45,411.61 L1349.63,412.01 L1349.80,412.39 L1349.98,412.75 L1350.16,413.09 L1350.33,413.42 L1350.51,413.72 L1350.69,414.01 L1350.87,414.29 L1351.04,414.55 L1351.22,414.79 L1351.40,415.03 L1351.57,415.25 L1351.75,415.46 L1351.93,415.66 L1352.10,415.85 L1352.28,416.03 L1352.46,416.21 L1352.64,416.37 L1352.81,416.53 L1352.99,416.68 L1353.17,416.82 L1353.34,416.95 L1353.52,417.08 L1353.70,417.21 L1353.87,417.32 L1354.05,417.44 L1354.23,417.55 L1354.41,417.65 L1354.58,417.75 L1354.76,417.84 L1354.94,417.93 L1355.11,418.02 L1355.29,418.11 L1355.47,418.19 L1355.64,418.26 L1355.82,418.34 L1356.00,418.41 L1356.18,418.48 L1356.35,418.54 L1356.53,418.61 L1356.71,418.67 L1356.88,418.73 L1357.06,418.79 L1357.24,418.84 L1357.41,418.90 L1357.59,418.95 L1357.77,419.00 L1357.94,419.04 L1358.12,419.09 L1358.30,419.14 L1358.48,419.18 L1358.65,419.22 L1358.83,419.26 L1359.01,419.30 L1359.18,419.34 L1359.36,419.38 L1359.54,419.41 L1359.71,419.45 L1359.89,419.48 L1360.07,419.52 L1360.25,419.55 L1360.42,419.58 L1360.60,419.61 L1360.78,419.64 L1360.95,419.67 L1361.13,419.70 L1361.31,419.72 L1361.48,419.75 L1361.66,419.78 L1361.84,419.80 L1362.02,419.83 L1362.19,419.85 L1362.37,419.87 L1362.55,419.90 L1362.72,419.92 L1362.90,419.94 L1363.08,419.96 L1363.25,419.98 L1363.43,420.00 L1363.61,420.02 L1363.79,420.04 L1363.96,420.06 L1364.14,420.08 L1364.32,420.10 L1364.49,420.11 L1364.67,420.13 L1364.85,420.15 L1365.02,420.16 L1365.20,420.18 L1365.38,420.19 L1365.56,420.21 L1365.73,420.23 L1365.91,420.24 L1366.09,420.25 L1366.26,420.27 L1366.44,420.28 L1366.62,420.30 L1366.79,420.31 L1366.97,420.32 L1367.15,420.34 L1367.33,420.35 L1367.50,420.36 L1367.68,420.37 L1367.86,420.38 L1368.03,420.40 L1368.21,420.41 L1368.39,420.42 L1368.56,420.43 L1368.74,420.44 L1368.92,420.45 L1369.10,420.46 L1369.27,420.47 L1369.45,420.48 L1369.63,420.49 L1369.80,420.50 L1369.98,420.51 L1370.16,420.52 L1370.33,420.53 L1370.51,420.54 L1370.69,420.55 L1370.87,420.56 L1371.04,420.57 L1371.22,420.58 L1371.40,420.59 L1371.57,420.59 L1371.75,420.60 L1371.93,420.61 L1372.10,420.62 L1372.28,420.63 L1372.46,420.63 L1372.64,420.64 L1372.81,420.65 L1372.99,420.66 L1373.17,420.66 L1373.34,420.67 L1373.52,420.68 L1373.70,420.69 L1373.87,420.69 L1374.05,420.70 L1374.23,420.71 L1374.41,420.71 L1374.58,420.72 L1374.76,420.73 L1374.94,420.73 L1375.11,420.74 L1375.29,420.75 L1375.47,420.75 L1375.64,420.76 L1375.82,420.76 L1376.00,420.77 L1376.18,420.78 L1376.35,420.78 L1376.53,420.79 L1376.71,420.79 L1376.88,420.80 L1377.06,420.80 L1377.24,420.81 L1377.41,420.82 L1377.59,420.82 L1377.77,420.83 L1377.95,420.83 L1378.12,420.84 L1378.30,420.84 L1378.48,420.85 L1378.65,420.85 L1378.83,420.86 L1379.01,420.86 L1379.18,420.87 L1379.36,420.87 L1379.54,420.88 L1379.72,420.88 L1379.89,420.88 L1380.07,420.89 L1380.25,420.89 L1380.42,420.90 L1380.60,420.90" stroke="#1a1a1a" stroke-width="3.0" fill="none" stroke-linejoin="round"/>
<path d="M849.80,421.85 L849.98,421.85 L850.15,421.85 L850.33,421.85 L850.51,421.85 L850.68,421.85 L850.86,421.85 L851.04,421.85 L851.22,421.85 L851.39,421.85 L851.57,421.85 L851.75,421.85 L851.92,421.84 L852.10,421.84 L852.28,421.84 L852.45,421.84 L852.63,421.84 L852.81,421.84 L852.99,421.84 L853.16,421.84 L853.34,421.84 L853.52,421.84 L853.69,421.84 L853.87,421.84 L854.05,421.84 L854.22,421.84 L854.40,421.84 L854.58,421.84 L854.76,421.84 L854.93,421.84 L855.11,421.84 L855.29,421.84 L855.46,421.84 L855.64,421.84 L855.82,421.84 L855.99,421.84 L856.17,421.84 L856.35,421.84 L856.53,421.84 L856.70,421.84 L856.88,421.84 L857.06,421.84 L857.23,421.84 L857.41,421.84 L857.59,421.84 L857.76,421.84 L857.94,421.84 L858.12,421.84 L858.30,421.84 L858.47,421.84 L858.65,421.84 L858.83,421.84 L859.00,421.84 L859.18,421.84 L859.36,421.84 L859.53,421.84 L859.71,421.84 L859.89,421.84 L860.07,421.84 L860.24,421.84 L860.42,421.84 L860.60,421.84 L860.77,421.84 L860.95,421.84 L861.13,421.84 L861.30,421.84 L861.48,421.84 L861.66,421.84 L861.84,421.84 L862.01,421.84 L862.19,421.84 L862.37,421.84 L862.54,421.84 L862.72,421.84 L862.90,421.84 L863.07,421.84 L863.25,421.84 L863.43,421.84 L863.61,421.84 L863.78,421.84 L863.96,421.84 L864.14,421.84 L864.31,421.84 L864.49,421.84 L864.67,421.84 L864.84,421.84 L865.02,421.84 L865.20,421.84 L865.38,421.84 L865.55,421.84 L865.73,421.84 L865.91,421.84 L866.08,421.84 L866.26,421.84 L866.44,421.84 L866.61,421.84 L866.79,421.84 L866.97,421.84 L867.15,421.84 L867.32,421.84 L867.50,421.84 L867.68,421.84 L867.85,421.84 L868.03,421.84 L868.21,421.84 L868.38,421.84 L868.56,421.84 L868.74,421.84 L868.92,421.84 L869.09,421.84 L869.27,421.84 L869.45,421.84 L869.62,421.84 L869.80,421.84 L869.98,421.84 L870.15,421.84 L870.33,421.84 L870.51,421.84 L870.69,421.84 L870.86,421.84 L871.04,421.84 L871.22,421.84 L871.39,421.84 L871.57,421.84 L871.75,421.84 L871.92,421.84 L872.10,421.84 L872.28,421.84 L872.46,421.84 L872.63,421.84 L872.81,421.84 L872.99,421.84 L873.16,421.84 L873.34,421.84 L873.52,421.84 L873.69,421.84 L873.87,421.84 L874.05,421.84 L874.22,421.84 L874.40,421.84 L874.58,421.83 L874.76,421.83 L874.93,421.83 L875.11,421.83 L875.29,421.83 L875.46,421.83 L875.64,421.83 L875.82,421.83 L875.99,421.83 L876.17,421.83 L876.35,421.83 L876.53,421.83 L876.70,421.83 L876.88,421.83 L877.06,421.83 L877.23,421.83 L877.41,421.83 L877.59,421.83 L877.76,421.83 L877.94,421.83 L878.12,421.83 L878.30,421.83 L878.47,421.83 L878.65,421.83 L878.83,421.83 L879.00,421.83 L879.18,421.83 L879.36,421.83 L879.53,421.83 L879.71,421.83 L879.89,421.83 L880.07,421.83 L880.24,421.83 L880.42,421.83 L880.60,421.83 L880.77,421.83 L880.95,421.83 L881.13,421.83 L881.30,421.83 L881.48,421.83 L881.66,421.83 L881.84,421.83 L882.01,421.83 L882.19,421.83 L882.37,421.83 L882.54,421.83 L882.72,421.83 L882.90,421.83 L883.07,421.83 L883.25,421.83 L883.43,421.83 L883.61,421.83 L883.78,421.83 L883.96,421.83 L884.14,421.83 L884.31,421.83 L884.49,421.83 L884.67,421.83 L884.84,421.83 L885.02,421.83 L885.20,421.83 L885.38,421.83 L885.55,421.83 L885.73,421.83 L885.91,421.83 L886.08,421.83 L886.26,421.83 L886.44,421.83 L886.61,421.83 L886.79,421.83 L886.97,421.83 L887.15,421.83 L887.32,421.83 L887.50,421.83 L887.68,421.83 L887.85,421.83 L888.03,421.83 L888.21,421.83 L888.38,421.83 L888.56,421.83 L888.74,421.83 L888.92,421.83 L889.09,421.83 L889.27,421.83 L889.45,421.83 L889.62,421.83 L889.80,421.83 L889.98,421.83 L890.15,421.83 L890.33,421.83 L890.51,421.83 L890.69,421.83 L890.86,421.83 L891.04,421.83 L891.22,421.83 L891.39,421.83 L891.57,421.83 L891.75,421.83 L891.92,421.83 L892.10,421.83 L892.28,421.83 L892.46,421.82 L892.63,421.82 L892.81,421.82 L892.99,421.82 L893.16,421.82 L893.34,421.82 L893.52,421.82 L893.69,421.82 L893.87,421.82 L894.05,421.82 L894.23,421.82 L894.40,421.82 L894.58,421.82 L894.76,421.82 L894.93,421.82 L895.11,421.82 L895.29,421.82 L895.46,421.82 L895.64,421.82 L895.82,421.82 L895.99,421.82 L896.17,421.82 L896.35,421.82 L896.53,421.82 L896.70,421.82 L896.88,421.82 L897.06,421.82 L897.23,421.82 L897.41,421.82 L897.59,421.82 L897.76,421.82 L897.94,421.82 L898.12,421.82 L898.30,421.82 L898.47,421.82 L898.65,421.82 L898.83,421.82 L899.00,421.82 L899.18,421.82 L899.36,421.82 L899.53,421.82 L899.71,421.82 L899.89,421.82 L900.07,421.82 L900.24,421.82 L900.42,421.82 L900.60,421.82 L900.77,421.82 L900.95,421.82 L901.13,421.82 L901.30,421.82 L901.48,421.82 L901.66,421.82 L901.84,421.82 L902.01,421.82 L902.19,421.82 L902.37,421.82 L902.54,421.82 L902.72,421.82 L902.90,421.82 L903.07,421.82 L903.25,421.82 L903.43,421.82 L903.61,421.82 L903.78,421.82 L903.96,421.82 L904.14,421.82 L904.31,421.82 L904.49,421.82 L904.67,421.82 L904.84,421.82 L905.02,421.82 L905.20,421.82 L905.38,421.82 L905.55,421.82 L905.73,421.82 L905.91,421.82 L906.08,421.82 L906.26,421.82 L906.44,421.82 L906.61,421.82 L906.79,421.82 L906.97,421.82 L907.15,421.81 L907.32,421.81 L907.50,421.81 L907.68,421.81 L907.85,421.81 L908.03,421.81 L908.21,421.81 L908.38,421.81 L908.56,421.81 L908.74,421.81 L908.92,421.81 L909.09,421.81 L909.27,421.81 L909.45,421.81 L909.62,421.81 L909.80,421.81 L909.98,421.81 L910.15,421.81 L910.33,421.81 L910.51,421.81 L910.69,421.81 L910.86,421.81 L911.04,421.81 L911.22,421.81 L911.39,421.81 L911.57,421.81 L911.75,421.81 L911.92,421.81 L912.10,421.81 L912.28,421.81 L912.46,421.81 L912.63,421.81 L912.81,421.81 L912.99,421.81 L913.16,421.81 L913.34,421.81 L913.52,421.81 L913.69,421.81 L913.87,421.81 L914.05,421.81 L914.23,421.81 L914.40,421.81 L914.58,421.81 L914.76,421.81 L914.93,421.81 L915.11,421.81 L915.29,421.81 L915.46,421.81 L915.64,421.81 L915.82,421.81 L916.00,421.81 L916.17,421.81 L916.35,421.81 L916.53,421.81 L916.70,421.81 L916.88,421.81 L917.06,421.81 L917.23,421.81 L917.41,421.81 L917.59,421.81 L917.77,421.81 L917.94,421.81 L918.12,421.81 L918.30,421.81 L918.47,421.81 L918.65,421.81 L918.83,421.81 L919.00,421.81 L919.18,421.81 L919.36,421.81 L919.53,421.80 L919.71,421.80 L919.89,421.80 L920.07,421.80 L920.24,421.80 L920.42,421.80 L920.60,421.80 L920.77,421.80 L920.95,421.80 L921.13,421.80 L921.30,421.80 L921.48,421.80 L921.66,421.80 L921.84,421.80 L922.01,421.80 L922.19,421.80 L922.37,421.80 L922.54,421.80 L922.72,421.80 L922.90,421.80 L923.07,421.80 L923.25,421.80 L923.43,421.80 L923.61,421.80 L923.78,421.80 L923.96,421.80 L924.14,421.80 L924.31,421.80 L924.49,421.80 L924.67,421.80 L924.84,421.80 L925.02,421.80 L925.20,421.80 L925.38,421.80 L925.55,421.80 L925.73,421.80 L925.91,421.80 L926.08,421.80 L926.26,421.80 L926.44,421.80 L926.61,421.80 L926.79,421.80 L926.97,421.80 L927.15,421.80 L927.32,421.80 L927.50,421.80 L927.68,421.80 L927.85,421.80 L928.03,421.80 L928.21,421.80 L928.38,421.80 L928.56,421.80 L928.74,421.80 L928.92,421.80 L929.09,421.80 L929.27,421.80 L929.45,421.80 L929.62,421.80 L929.80,421.80 L929.98,421.79 L930.15,421.79 L930.33,421.79 L930.51,421.79 L930.69,421.79 L930.86,421.79 L931.04,421.79 L931.22,421.79 L931.39,421.79 L931.57,421.79 L931.75,421.79 L931.92,421.79 L932.10,421.79 L932.28,421.79 L932.46,421.79 L932.63,421.79 L932.81,421.79 L932.99,421.79 L933.16,421.79 L933.34,421.79 L933.52,421.79 L933.69,421.79 L933.87,421.79 L934.05,421.79 L934.23,421.79 L934.40,421.79 L934.58,421.79 L934.76,421.79 L934.93,421.79 L935.11,421.79 L935.29,421.79 L935.46,421.79 L935.64,421.79 L935.82,421.79 L936.00,421.79 L936.17,421.79 L936.35,421.79 L936.53,421.79 L936.70,421.79 L936.88,421.79 L937.06,421.79 L937.23,421.79 L937.41,421.79 L937.59,421.79 L937.77,421.79 L937.94,421.79 L938.12,421.79 L938.30,421.79 L938.47,421.79 L938.65,421.79 L938.83,421.79 L939.00,421.78 L939.18,421.78 L939.36,421.78 L939.54,421.78 L939.71,421.78 L939.89,421.78 L940.07,421.78 L940.24,421.78 L940.42,421.78 L940.60,421.78 L940.77,421.78 L940.95,421.78 L941.13,421.78 L941.31,421.78 L941.48,421.78 L941.66,421.78 L941.84,421.78 L942.01,421.78 L942.19,421.78 L942.37,421.78 L942.54,421.78 L942.72,421.78 L942.90,421.78 L943.07,421.78 L943.25,421.78 L943.43,421.78 L943.61,421.78 L943.78,421.78 L943.96,421.78 L944.14,421.78 L944.31,421.78 L944.49,421.78 L944.67,421.78 L944.84,421.78 L945.02,421.78 L945.20,421.78 L945.38,421.78 L945.55,421.78 L945.73,421.78 L945.91,421.78 L946.08,421.78 L946.26,421.78 L946.44,421.78 L946.61,421.78 L946.79,421.78 L946.97,421.77 L947.15,421.77 L947.32,421.77 L947.50,421.77 L947.68,421.77 L947.85,421.77 L948.03,421.77 L948.21,421.77 L948.38,421.77 L948.56,421.77 L948.74,421.77 L948.92,421.77 L949.09,421.77 L949.27,421.77 L949.45,421.77 L949.62,421.77 L949.80,421.77 L949.98,421.77 L950.15,421.77 L950.33,421.77 L950.51,421.77 L950.69,421.77 L950.86,421.77 L951.04,421.77 L951.22,421.77 L951.39,421.77 L951.57,421.77 L951.75,421.77 L951.92,421.77 L952.10,421.77 L952.28,421.77 L952.46,421.77 L952.63,421.77 L952.81,421.77 L952.99,421.77 L953.16,421.77 L953.34,421.77 L953.52,421.77 L953.69,421.77 L953.87,421.77 L954.05,421.76 L954.23,421.76 L954.40,421.76 L954.58,421.76 L954.76,421.76 L954.93,421.76 L955.11,421.76 L955.29,421.76 L955.46,421.76 L955.64,421.76 L955.82,421.76 L956.00,421.76 L956.17,421.76 L956.35,421.76 L956.53,421.76 L956.70,421.76 L956.88,421.76 L957.06,421.76 L957.23,421.76 L957.41,421.76 L957.59,421.76 L957.77,421.76 L957.94,421.76 L958.12,421.76 L958.30,421.76 L958.47,421.76 L958.65,421.76 L958.83,421.76 L959.00,421.76 L959.18,421.76 L959.36,421.76 L959.54,421.76 L959.71,421.76 L959.89,421.76 L960.07,421.76 L960.24,421.76 L960.42,421.75 L960.60,421.75 L960.77,421.75 L960.95,421.75 L961.13,421.75 L961.31,421.75 L961.48,421.75 L961.66,421.75 L961.84,421.75 L962.01,421.75 L962.19,421.75 L962.37,421.75 L962.54,421.75 L962.72,421.75 L962.90,421.75 L963.08,421.75 L963.25,421.75 L963.43,421.75 L963.61,421.75 L963.78,421.75 L963.96,421.75 L964.14,421.75 L964.31,421.75 L964.49,421.75 L964.67,421.75 L964.85,421.75 L965.02,421.75 L965.20,421.75 L965.38,421.75 L965.55,421.75 L965.73,421.75 L965.91,421.75 L966.08,421.75 L966.26,421.74 L966.44,421.74 L966.61,421.74 L966.79,421.74 L966.97,421.74 L967.15,421.74 L967.32,421.74 L967.50,421.74 L967.68,421.74 L967.85,421.74 L968.03,421.74 L968.21,421.74 L968.38,421.74 L968.56,421.74 L968.74,421.74 L968.92,421.74 L969.09,421.74 L969.27,421.74 L969.45,421.74 L969.62,421.74 L969.80,421.74 L969.98,421.74 L970.15,421.74 L970.33,421.74 L970.51,421.74 L970.69,421.74 L970.86,421.74 L971.04,421.74 L971.22,421.74 L971.39,421.73 L971.57,421.73 L971.75,421.73 L971.92,421.73 L972.10,421.73 L972.28,421.73 L972.46,421.73 L972.63,421.73 L972.81,421.73 L972.99,421.73 L973.16,421.73 L973.34,421.73 L973.52,421.73 L973.69,421.73 L973.87,421.73 L974.05,421.73 L974.23,421.73 L974.40,421.73 L974.58,421.73 L974.76,421.73 L974.93,421.73 L975.11,421.73 L975.29,421.73 L975.46,421.73 L975.64,421.73 L975.82,421.73 L976.00,421.73 L976.17,421.72 L976.35,421.72 L976.53,421.72 L976.70,421.72 L976.88,421.72 L977.06,421.72 L977.23,421.72 L977.41,421.72 L977.59,421.72 L977.77,421.72 L977.94,421.72 L978.12,421.72 L978.30,421.72 L978.47,421.72 L978.65,421.72 L978.83,421.72 L979.00,421.72 L979.18,421.72 L979.36,421.72 L979.54,421.72 L979.71,421.72 L979.89,421.72 L980.07,421.72 L980.24,421.72 L980.42,421.71 L980.60,421.71 L980.77,421.71 L980.95,421.71 L981.13,421.71 L981.31,421.71 L981.48,421.71 L981.66,421.71 L981.84,421.71 L982.01,421.71 L982.19,421.71 L982.37,421.71 L982.54,421.71 L982.72,421.71 L982.90,421.71 L983.08,421.71 L983.25,421.71 L983.43,421.71 L983.61,421.71 L983.78,421.71 L983.96,421.71 L984.14,421.71 L984.31,421.71 L984.49,421.70 L984.67,421.70 L984.85,421.70 L985.02,421.70 L985.20,421.70 L985.38,421.70 L985.55,421.70 L985.73,421.70 L985.91,421.70 L986.08,421.70 L986.26,421.70 L986.44,421.70 L986.62,421.70 L986.79,421.70 L986.97,421.70 L987.15,421.70 L987.32,421.70 L987.50,421.70 L987.68,421.70 L987.85,421.70 L988.03,421.70 L988.21,421.69 L988.38,421.69 L988.56,421.69 L988.74,421.69 L988.92,421.69 L989.09,421.69 L989.27,421.69 L989.45,421.69 L989.62,421.69 L989.80,421.69 L989.98,421.69 L990.15,421.69 L990.33,421.69 L990.51,421.69 L990.69,421.69 L990.86,421.69 L991.04,421.69 L991.22,421.69 L991.39,421.69 L991.57,421.68 L991.75,421.68 L991.92,421.68 L992.10,421.68 L992.28,421.68 L992.46,421.68 L992.63,421.68 L992.81,421.68 L992.99,421.68 L993.16,421.68 L993.34,421.68 L993.52,421.68 L993.69,421.68 L993.87,421.68 L994.05,421.68 L994.23,421.68 L994.40,421.68 L994.58,421.68 L994.76,421.67 L994.93,421.67 L995.11,421.67 L995.29,421.67 L995.46,421.67 L995.64,421.67 L995.82,421.67 L996.00,421.67 L996.17,421.67 L996.35,421.67 L996.53,421.67 L996.70,421.67 L996.88,421.67 L997.06,421.67 L997.23,421.67 L997.41,421.67 L997.59,421.67 L997.77,421.66 L997.94,421.66 L998.12,421.66 L998.30,421.66 L998.47,421.66 L998.65,421.66 L998.83,421.66 L999.00,421.66 L999.18,421.66 L999.36,421.66 L999.54,421.66 L999.71,421.66 L999.89,421.66 L1000.07,421.66 L1000.24,421.66 L1000.42,421.66 L1000.60,421.65 L1000.77,421.65 L1000.95,421.65 L1001.13,421.65 L1001.31,421.65 L1001.48,421.65 L1001.66,421.65 L1001.84,421.65 L1002.01,421.65 L1002.19,421.65 L1002.37,421.65 L1002.54,421.65 L1002.72,421.65 L1002.90,421.65 L1003.08,421.65 L1003.25,421.64 L1003.43,421.64 L1003.61,421.64 L1003.78,421.64 L1003.96,421.64 L1004.14,421.64 L1004.31,421.64 L1004.49,421.64 L1004.67,421.64 L1004.85,421.64 L1005.02,421.64 L1005.20,421.64 L1005.38,421.64 L1005.55,421.64 L1005.73,421.63 L1005.91,421.63 L1006.08,421.63 L1006.26,421.63 L1006.44,421.63 L1006.62,421.63 L1006.79,421.63 L1006.97,421.63 L1007.15,421.63 L1007.32,421.63 L1007.50,421.63 L1007.68,421.63 L1007.85,421.63 L1008.03,421.63 L1008.21,421.62 L1008.39,421.62 L1008.56,421.62 L1008.74,421.62 L1008.92,421.62 L1009.09,421.62 L1009.27,421.62 L1009.45,421.62 L1009.62,421.62 L1009.80,421.62 L1009.98,421.62 L1010.16,421.62 L1010.33,421.61 L1010.51,421.61 L1010.69,421.61 L1010.86,421.61 L1011.04,421.61 L1011.22,421.61 L1011.39,421.61 L1011.57,421.61 L1011.75,421.61 L1011.92,421.61 L1012.10,421.61 L1012.28,421.61 L1012.46,421.60 L1012.63,421.60 L1012.81,421.60 L1012.99,421.60 L1013.16,421.60 L1013.34,421.60 L1013.52,421.60 L1013.69,421.60 L1013.87,421.60 L1014.05,421.60 L1014.23,421.60 L1014.40,421.60 L1014.58,421.59 L1014.76,421.59 L1014.93,421.59 L1015.11,421.59 L1015.29,421.59 L1015.46,421.59 L1015.64,421.59 L1015.82,421.59 L1016.00,421.59 L1016.17,421.59 L1016.35,421.59 L1016.53,421.58 L1016.70,421.58 L1016.88,421.58 L1017.06,421.58 L1017.23,421.58 L1017.41,421.58 L1017.59,421.58 L1017.77,421.58 L1017.94,421.58 L1018.12,421.58 L1018.30,421.57 L1018.47,421.57 L1018.65,421.57 L1018.83,421.57 L1019.00,421.57 L1019.18,421.57 L1019.36,421.57 L1019.54,421.57 L1019.71,421.57 L1019.89,421.57 L1020.07,421.56 L1020.24,421.56 L1020.42,421.56 L1020.60,421.56 L1020.77,421.56 L1020.95,421.56 L1021.13,421.56 L1021.31,421.56 L1021.48,421.56 L1021.66,421.55 L1021.84,421.55 L1022.01,421.55 L1022.19,421.55 L1022.37,421.55 L1022.54,421.55 L1022.72,421.55 L1022.90,421.55 L1023.08,421.55 L1023.25,421.54 L1023.43,421.54 L1023.61,421.54 L1023.78,421.54 L1023.96,421.54 L1024.14,421.54 L1024.31,421.54 L1024.49,421.54 L1024.67,421.54 L1024.85,421.53 L1025.02,421.53 L1025.20,421.53 L1025.38,421.53 L1025.55,421.53 L1025.73,421.53 L1025.91,421.53 L1026.08,421.53 L1026.26,421.52 L1026.44,421.52 L1026.62,421.52 L1026.79,421.52 L1026.97,421.52 L1027.15,421.52 L1027.32,421.52 L1027.50,421.52 L1027.68,421.51 L1027.85,421.51 L1028.03,421.51 L1028.21,421.51 L1028.39,421.51 L1028.56,421.51 L1028.74,421.51 L1028.92,421.51 L1029.09,421.50 L1029.27,421.50 L1029.45,421.50 L1029.62,421.50 L1029.80,421.50 L1029.98,421.50 L1030.16,421.50 L1030.33,421.49 L1030.51,421.49 L1030.69,421.49 L1030.86,421.49 L1031.04,421.49 L1031.22,421.49 L1031.39,421.49 L1031.57,421.49 L1031.75,421.48 L1031.93,421.48 L1032.10,421.48 L1032.28,421.48 L1032.46,421.48 L1032.63,421.48 L1032.81,421.47 L1032.99,421.47 L1033.16,421.47 L1033.34,421.47 L1033.52,421.47 L1033.70,421.47 L1033.87,421.47 L1034.05,421.46 L1034.23,421.46 L1034.40,421.46 L1034.58,421.46 L1034.76,421.46 L1034.93,421.46 L1035.11,421.45 L1035.29,421.45 L1035.46,421.45 L1035.64,421.45 L1035.82,421.45 L1036.00,421.45 L1036.17,421.45 L1036.35,421.44 L1036.53,421.44 L1036.70,421.44 L1036.88,421.44 L1037.06,421.44 L1037.23,421.44 L1037.41,421.43 L1037.59,421.43 L1037.77,421.43 L1037.94,421.43 L1038.12,421.43 L1038.30,421.42 L1038.47,421.42 L1038.65,421.42 L1038.83,421.42 L1039.00,421.42 L1039.18,421.42 L1039.36,421.41 L1039.54,421.41 L1039.71,421.41 L1039.89,421.41 L1040.07,421.41 L1040.24,421.41 L1040.42,421.40 L1040.60,421.40 L1040.77,421.40 L1040.95,421.40 L1041.13,421.40 L1041.31,421.39 L1041.48,421.39 L1041.66,421.39 L1041.84,421.39 L1042.01,421.39 L1042.19,421.38 L1042.37,421.38 L1042.54,421.38 L1042.72,421.38 L1042.90,421.38 L1043.08,421.37 L1043.25,421.37 L1043.43,421.37 L1043.61,421.37 L1043.78,421.37 L1043.96,421.36 L1044.14,421.36 L1044.31,421.36 L1044.49,421.36 L1044.67,421.36 L1044.85,421.35 L1045.02,421.35 L1045.20,421.35 L1045.38,421.35 L1045.55,421.34 L1045.73,421.34 L1045.91,421.34 L1046.08,421.34 L1046.26,421.34 L1046.44,421.33 L1046.62,421.33 L1046.79,421.33 L1046.97,421.33 L1047.15,421.32 L1047.32,421.32 L1047.50,421.32 L1047.68,421.32 L1047.85,421.31 L1048.03,421.31 L1048.21,421.31 L1048.39,421.31 L1048.56,421.30 L1048.74,421.30 L1048.92,421.30 L1049.09,421.30 L1049.27,421.29 L1049.45,421.29 L1049.62,421.29 L1049.80,421.29 L1049.98,421.28 L1050.16,421.28 L1050.33,421.28 L1050.51,421.28 L1050.69,421.27 L1050.86,421.27 L1051.04,421.27 L1051.22,421.27 L1051.39,421.26 L1051.57,421.26 L1051.75,421.26 L1051.93,421.26 L1052.10,421.25 L1052.28,421.25 L1052.46,421.25 L1052.63,421.24 L1052.81,421.24 L1052.99,421.24 L1053.16,421.24 L1053.34,421.23 L1053.52,421.23 L1053.70,421.23 L1053.87,421.22 L1054.05,421.22 L1054.23,421.22 L1054.40,421.21 L1054.58,421.21 L1054.76,421.21 L1054.93,421.21 L1055.11,421.20 L1055.29,421.20 L1055.47,421.20 L1055.64,421.19 L1055.82,421.19 L1056.00,421.19 L1056.17,421.18 L1056.35,421.18 L1056.53,421.18 L1056.70,421.17 L1056.88,421.17 L1057.06,421.17 L1057.24,421.16 L1057.41,421.16 L1057.59,421.16 L1057.77,421.15 L1057.94,421.15 L1058.12,421.15 L1058.30,421.14 L1058.47,421.14 L1058.65,421.14 L1058.83,421.13 L1059.00,421.13 L1059.18,421.13 L1059.36,421.12 L1059.54,421.12 L1059.71,421.11 L1059.89,421.11 L1060.07,421.11 L1060.24,421.10 L1060.42,421.10 L1060.60,421.10 L1060.77,421.09 L1060.95,421.09 L1061.13,421.08 L1061.31,421.08 L1061.48,421.08 L1061.66,421.07 L1061.84,421.07 L1062.01,421.06 L1062.19,421.06 L1062.37,421.06 L1062.54,421.05 L1062.72,421.05 L1062.90,421.04 L1063.08,421.04 L1063.25,421.03 L1063.43,421.03 L1063.61,421.03 L1063.78,421.02 L1063.96,421.02 L1064.14,421.01 L1064.31,421.01 L1064.49,421.00 L1064.67,421.00 L1064.85,420.99 L1065.02,420.99 L1065.20,420.98 L1065.38,420.98 L1065.55,420.98 L1065.73,420.97 L1065.91,420.97 L1066.08,420.96 L1066.26,420.96 L1066.44,420.95 L1066.62,420.95 L1066.79,420.94 L1066.97,420.94 L1067.15,420.93 L1067.32,420.93 L1067.50,420.92 L1067.68,420.92 L1067.85,420.91 L1068.03,420.91 L1068.21,420.90 L1068.39,420.89 L1068.56,420.89 L1068.74,420.88 L1068.92,420.88 L1069.09,420.87 L1069.27,420.87 L1069.45,420.86 L1069.62,420.86 L1069.80,420.85 L1069.98,420.84 L1070.16,420.84 L1070.33,420.83 L1070.51,420.83 L1070.69,420.82 L1070.86,420.81 L1071.04,420.81 L1071.22,420.80 L1071.39,420.80 L1071.57,420.79 L1071.75,420.78 L1071.93,420.78 L1072.10,420.77 L1072.28,420.77 L1072.46,420.76 L1072.63,420.75 L1072.81,420.75 L1072.99,420.74 L1073.16,420.73 L1073.34,420.73 L1073.52,420.72 L1073.70,420.71 L1073.87,420.70 L1074.05,420.70 L1074.23,420.69 L1074.40,420.68 L1074.58,420.68 L1074.76,420.67 L1074.93,420.66 L1075.11,420.65 L1075.29,420.65 L1075.47,420.64 L1075.64,420.63 L1075.82,420.62 L1076.00,420.62 L1076.17,420.61 L1076.35,420.60 L1076.53,420.59 L1076.70,420.58 L1076.88,420.58 L1077.06,420.57 L1077.24,420.56 L1077.41,420.55 L1077.59,420.54 L1077.77,420.54 L1077.94,420.53 L1078.12,420.52 L1078.30,420.51 L1078.47,420.50 L1078.65,420.49 L1078.83,420.48 L1079.01,420.47 L1079.18,420.46 L1079.36,420.46 L1079.54,420.45 L1079.71,420.44 L1079.89,420.43 L1080.07,420.42 L1080.24,420.41 L1080.42,420.40 L1080.60,420.39 L1080.77,420.38 L1080.95,420.37 L1081.13,420.36 L1081.31,420.35 L1081.48,420.34 L1081.66,420.33 L1081.84,420.32 L1082.01,420.31 L1082.19,420.30 L1082.37,420.28 L1082.54,420.27 L1082.72,420.26 L1082.90,420.25 L1083.08,420.24 L1083.25,420.23 L1083.43,420.22 L1083.61,420.20 L1083.78,420.19 L1083.96,420.18 L1084.14,420.17 L1084.31,420.16 L1084.49,420.14 L1084.67,420.13 L1084.85,420.12 L1085.02,420.11 L1085.20,420.09 L1085.38,420.08 L1085.55,420.07 L1085.73,420.05 L1085.91,420.04 L1086.08,420.03 L1086.26,420.01 L1086.44,420.00 L1086.62,419.99 L1086.79,419.97 L1086.97,419.96 L1087.15,419.94 L1087.32,419.93 L1087.50,419.91 L1087.68,419.90 L1087.85,419.88 L1088.03,419.87 L1088.21,419.85 L1088.39,419.84 L1088.56,419.82 L1088.74,419.80 L1088.92,419.79 L1089.09,419.77 L1089.27,419.76 L1089.45,419.74 L1089.62,419.72 L1089.80,419.70 L1089.98,419.69 L1090.16,419.67 L1090.33,419.65 L1090.51,419.63 L1090.69,419.61 L1090.86,419.60 L1091.04,419.58 L1091.22,419.56 L1091.39,419.54 L1091.57,419.52 L1091.75,419.50 L1091.93,419.48 L1092.10,419.46 L1092.28,419.44 L1092.46,419.42 L1092.63,419.40 L1092.81,419.38 L1092.99,419.36 L1093.16,419.33 L1093.34,419.31 L1093.52,419.29 L1093.70,419.27 L1093.87,419.24 L1094.05,419.22 L1094.23,419.20 L1094.40,419.17 L1094.58,419.15 L1094.76,419.13 L1094.93,419.10 L1095.11,419.08 L1095.29,419.05 L1095.47,419.02 L1095.64,419.00 L1095.82,418.97 L1096.00,418.94 L1096.17,418.92 L1096.35,418.89 L1096.53,418.86 L1096.70,418.83 L1096.88,418.80 L1097.06,418.78 L1097.24,418.75 L1097.41,418.72 L1097.59,418.69 L1097.77,418.65 L1097.94,418.62 L1098.12,418.59 L1098.30,418.56 L1098.47,418.53 L1098.65,418.49 L1098.83,418.46 L1099.01,418.43 L1099.18,418.39 L1099.36,418.36 L1099.54,418.32 L1099.71,418.28 L1099.89,418.25 L1100.07,418.21 L1100.24,418.17 L1100.42,418.13 L1100.60,418.09 L1100.78,418.05 L1100.95,418.01 L1101.13,417.97 L1101.31,417.93 L1101.48,417.89 L1101.66,417.85 L1101.84,417.80 L1102.01,417.76 L1102.19,417.71 L1102.37,417.67 L1102.55,417.62 L1102.72,417.57 L1102.90,417.52 L1103.08,417.48 L1103.25,417.43 L1103.43,417.37 L1103.61,417.32 L1103.78,417.27 L1103.96,417.22 L1104.14,417.16 L1104.31,417.11 L1104.49,417.05 L1104.67,416.99 L1104.85,416.94 L1105.02,416.88 L1105.20,416.82 L1105.38,416.76 L1105.55,416.69 L1105.73,416.63 L1105.91,416.56 L1106.08,416.50 L1106.26,416.43 L1106.44,416.36 L1106.62,416.29 L1106.79,416.22 L1106.97,416.15 L1107.15,416.08 L1107.32,416.00 L1107.50,415.92 L1107.68,415.85 L1107.85,415.77 L1108.03,415.69 L1108.21,415.60 L1108.39,415.52 L1108.56,415.43 L1108.74,415.34 L1108.92,415.25 L1109.09,415.16 L1109.27,415.07 L1109.45,414.97 L1109.62,414.88 L1109.80,414.78 L1109.98,414.67 L1110.16,414.57 L1110.33,414.46 L1110.51,414.36 L1110.69,414.25 L1110.86,414.13 L1111.04,414.02 L1111.22,413.90 L1111.39,413.78 L1111.57,413.65 L1111.75,413.53 L1111.93,413.40 L1112.10,413.27 L1112.28,413.13 L1112.46,412.99 L1112.63,412.85 L1112.81,412.70 L1112.99,412.55 L1113.16,412.40 L1113.34,412.25 L1113.52,412.09 L1113.70,411.92 L1113.87,411.75 L1114.05,411.58 L1114.23,411.40 L1114.40,411.22 L1114.58,411.04 L1114.76,410.85 L1114.93,410.65 L1115.11,410.45 L1115.29,410.24 L1115.47,410.03 L1115.64,409.81 L1115.82,409.59 L1116.00,409.36 L1116.17,409.12 L1116.35,408.88 L1116.53,408.63 L1116.70,408.37 L1116.88,408.11 L1117.06,407.83 L1117.24,407.55 L1117.41,407.26 L1117.59,406.97 L1117.77,406.66 L1117.94,406.34 L1118.12,406.02 L1118.30,405.68 L1118.47,405.34 L1118.65,404.98 L1118.83,404.61 L1119.01,404.23 L1119.18,403.83 L1119.36,403.43 L1119.54,403.01 L1119.71,402.57 L1119.89,402.12 L1120.07,401.66 L1120.24,401.17 L1120.42,400.68 L1120.60,400.16 L1120.78,399.62 L1120.95,399.07 L1121.13,398.49 L1121.31,397.90 L1121.48,397.28 L1121.66,396.63 L1121.84,395.97 L1122.01,395.27 L1122.19,394.55 L1122.37,393.80 L1122.55,393.02 L1122.72,392.21 L1122.90,391.36 L1123.08,390.48 L1123.25,389.56 L1123.43,388.60 L1123.61,387.59 L1123.78,386.55 L1123.96,385.45 L1124.14,384.31 L1124.32,383.12 L1124.49,381.87 L1124.67,380.56 L1124.85,379.18 L1125.02,377.75 L1125.20,376.24 L1125.38,374.65 L1125.55,372.99 L1125.73,371.24 L1125.91,369.40 L1126.09,367.47 L1126.26,365.43 L1126.44,363.28 L1126.62,361.02 L1126.79,358.63 L1126.97,356.11 L1127.15,353.44 L1127.32,350.62 L1127.50,347.64 L1127.68,344.49 L1127.85,341.15 L1128.03,337.60 L1128.21,333.85 L1128.39,329.86 L1128.56,325.63 L1128.74,321.14 L1128.92,316.37 L1129.09,311.29 L1129.27,305.90 L1129.45,300.16 L1129.62,294.06 L1129.80,287.58 L1129.98,280.68 L1130.16,273.36 L1130.33,265.58 L1130.51,257.33 L1130.69,248.60 L1130.86,239.36 L1131.04,229.61 L1131.22,219.34 L1131.39,208.57 L1131.57,197.31 L1131.75,185.59 L1131.93,173.46 L1132.10,161.00 L1132.28,148.30 L1132.46,135.47 L1132.63,122.66 L1132.81,110.04 L1132.99,97.82 L1133.16,86.21 L1133.34,75.46 L1133.52,65.82 L1133.70,57.53 L1133.87,50.83 L1134.05,45.89 L1134.23,42.88 L1134.40,41.90 L1134.40,41.90 L1134.58,42.97 L1134.76,46.06 L1134.93,51.07 L1135.11,57.85 L1135.29,66.20 L1135.47,75.89 L1135.64,86.68 L1135.82,98.31 L1136.00,110.56 L1136.17,123.18 L1136.35,136.00 L1136.53,148.83 L1136.70,161.52 L1136.88,173.97 L1137.06,186.08 L1137.24,197.78 L1137.41,209.02 L1137.59,219.78 L1137.77,230.02 L1137.94,239.75 L1138.12,248.97 L1138.30,257.69 L1138.47,265.91 L1138.65,273.67 L1138.83,280.98 L1139.01,287.85 L1139.18,294.32 L1139.36,300.40 L1139.54,306.13 L1139.71,311.51 L1139.89,316.57 L1140.07,321.33 L1140.24,325.81 L1140.42,330.03 L1140.60,334.01 L1140.78,337.76 L1140.95,341.29 L1141.13,344.62 L1141.31,347.77 L1141.48,350.74 L1141.66,353.55 L1141.84,356.21 L1142.01,358.73 L1142.19,361.11 L1142.37,363.37 L1142.55,365.51 L1142.72,367.55 L1142.90,369.48 L1143.08,371.31 L1143.25,373.06 L1143.43,374.72 L1143.61,376.30 L1143.78,377.81 L1143.96,379.24 L1144.14,380.61 L1144.32,381.92 L1144.49,383.17 L1144.67,384.36 L1144.85,385.50 L1145.02,386.59 L1145.20,387.64 L1145.38,388.64 L1145.55,389.59 L1145.73,390.51 L1145.91,391.39 L1146.09,392.24 L1146.26,393.05 L1146.44,393.83 L1146.62,394.58 L1146.79,395.30 L1146.97,395.99 L1147.15,396.66 L1147.32,397.30 L1147.50,397.92 L1147.68,398.52 L1147.86,399.09 L1148.03,399.65 L1148.21,400.18 L1148.39,400.70 L1148.56,401.19 L1148.74,401.68 L1148.92,402.14 L1149.09,402.59 L1149.27,403.02 L1149.45,403.44 L1149.63,403.85 L1149.80,404.24 L1149.98,404.62 L1150.16,404.99 L1150.33,405.35 L1150.51,405.70 L1150.69,406.03 L1150.86,406.36 L1151.04,406.67 L1151.22,406.98 L1151.39,407.28 L1151.57,407.56 L1151.75,407.85 L1151.93,408.12 L1152.10,408.38 L1152.28,408.64 L1152.46,408.89 L1152.63,409.13 L1152.81,409.37 L1152.99,409.60 L1153.16,409.82 L1153.34,410.04 L1153.52,410.25 L1153.70,410.46 L1153.87,410.66 L1154.05,410.85 L1154.23,411.04 L1154.40,411.23 L1154.58,411.41 L1154.76,411.59 L1154.93,411.76 L1155.11,411.93 L1155.29,412.09 L1155.47,412.25 L1155.64,412.41 L1155.82,412.56 L1156.00,412.71 L1156.17,412.85 L1156.35,413.00 L1156.53,413.14 L1156.70,413.27 L1156.88,413.40 L1157.06,413.53 L1157.24,413.66 L1157.41,413.78 L1157.59,413.90 L1157.77,414.02 L1157.94,414.14 L1158.12,414.25 L1158.30,414.36 L1158.47,414.47 L1158.65,414.58 L1158.83,414.68 L1159.01,414.78 L1159.18,414.88 L1159.36,414.98 L1159.54,415.07 L1159.71,415.17 L1159.89,415.26 L1160.07,415.35 L1160.24,415.44 L1160.42,415.52 L1160.60,415.61 L1160.78,415.69 L1160.95,415.77 L1161.13,415.85 L1161.31,415.93 L1161.48,416.00 L1161.66,416.08 L1161.84,416.15 L1162.01,416.23 L1162.19,416.30 L1162.37,416.37 L1162.55,416.43 L1162.72,416.50 L1162.90,416.57 L1163.08,416.63 L1163.25,416.70 L1163.43,416.76 L1163.61,416.82 L1163.78,416.88 L1163.96,416.94 L1164.14,417.00 L1164.32,417.05 L1164.49,417.11 L1164.67,417.17 L1164.85,417.22 L1165.02,417.27 L1165.20,417.33 L1165.38,417.38 L1165.55,417.43 L1165.73,417.48 L1165.91,417.53 L1166.09,417.57 L1166.26,417.62 L1166.44,417.67 L1166.62,417.71 L1166.79,417.76 L1166.97,417.80 L1167.15,417.85 L1167.32,417.89 L1167.50,417.93 L1167.68,417.97 L1167.86,418.02 L1168.03,418.06 L1168.21,418.10 L1168.39,418.13 L1168.56,418.17 L1168.74,418.21 L1168.92,418.25 L1169.09,418.29 L1169.27,418.32 L1169.45,418.36 L1169.63,418.39 L1169.80,418.43 L1169.98,418.46 L1170.16,418.49 L1170.33,418.53 L1170.51,418.56 L1170.69,418.59 L1170.86,418.62 L1171.04,418.66 L1171.22,418.69 L1171.40,418.72 L1171.57,418.75 L1171.75,418.78 L1171.93,418.81 L1172.10,418.83 L1172.28,418.86 L1172.46,418.89 L1172.63,418.92 L1172.81,418.95 L1172.99,418.97 L1173.16,419.00 L1173.34,419.03 L1173.52,419.05 L1173.70,419.08 L1173.87,419.10 L1174.05,419.13 L1174.23,419.15 L1174.40,419.17 L1174.58,419.20 L1174.76,419.22 L1174.93,419.25 L1175.11,419.27 L1175.29,419.29 L1175.47,419.31 L1175.64,419.33 L1175.82,419.36 L1176.00,419.38 L1176.17,419.40 L1176.35,419.42 L1176.53,419.44 L1176.70,419.46 L1176.88,419.48 L1177.06,419.50 L1177.24,419.52 L1177.41,419.54 L1177.59,419.56 L1177.77,419.58 L1177.94,419.60 L1178.12,419.62 L1178.30,419.63 L1178.47,419.65 L1178.65,419.67 L1178.83,419.69 L1179.01,419.70 L1179.18,419.72 L1179.36,419.74 L1179.54,419.76 L1179.71,419.77 L1179.89,419.79 L1180.07,419.81 L1180.24,419.82 L1180.42,419.84 L1180.60,419.85 L1180.78,419.87 L1180.95,419.88 L1181.13,419.90 L1181.31,419.91 L1181.48,419.93 L1181.66,419.94 L1181.84,419.96 L1182.01,419.97 L1182.19,419.99 L1182.37,420.00 L1182.55,420.01 L1182.72,420.03 L1182.90,420.04 L1183.08,420.06 L1183.25,420.07 L1183.43,420.08 L1183.61,420.09 L1183.78,420.11 L1183.96,420.12 L1184.14,420.13 L1184.32,420.15 L1184.49,420.16 L1184.67,420.17 L1184.85,420.18 L1185.02,420.19 L1185.20,420.21 L1185.38,420.22 L1185.55,420.23 L1185.73,420.24 L1185.91,420.25 L1186.09,420.26 L1186.26,420.27 L1186.44,420.28 L1186.62,420.30 L1186.79,420.31 L1186.97,420.32 L1187.15,420.33 L1187.32,420.34 L1187.50,420.35 L1187.68,420.36 L1187.86,420.37 L1188.03,420.38 L1188.21,420.39 L1188.39,420.40 L1188.56,420.41 L1188.74,420.42 L1188.92,420.43 L1189.09,420.44 L1189.27,420.45 L1189.45,420.46 L1189.63,420.47 L1189.80,420.47 L1189.98,420.48 L1190.16,420.49 L1190.33,420.50 L1190.51,420.51 L1190.69,420.52 L1190.86,420.53 L1191.04,420.54 L1191.22,420.54 L1191.40,420.55 L1191.57,420.56 L1191.75,420.57 L1191.93,420.58 L1192.10,420.59 L1192.28,420.59 L1192.46,420.60 L1192.63,420.61 L1192.81,420.62 L1192.99,420.62 L1193.17,420.63 L1193.34,420.64 L1193.52,420.65 L1193.70,420.65 L1193.87,420.66 L1194.05,420.67 L1194.23,420.68 L1194.40,420.68 L1194.58,420.69 L1194.76,420.70 L1194.94,420.71 L1195.11,420.71 L1195.29,420.72 L1195.47,420.73 L1195.64,420.73 L1195.82,420.74 L1196.00,420.75 L1196.17,420.75 L1196.35,420.76 L1196.53,420.77 L1196.70,420.77 L1196.88,420.78 L1197.06,420.78 L1197.24,420.79 L1197.41,420.80 L1197.59,420.80 L1197.77,420.81 L1197.94,420.82 L1198.12,420.82 L1198.30,420.83 L1198.47,420.83 L1198.65,420.84 L1198.83,420.84 L1199.01,420.85 L1199.18,420.86 L1199.36,420.86 L1199.54,420.87 L1199.71,420.87 L1199.89,420.88 L1200.07,420.88 L1200.24,420.89 L1200.42,420.89 L1200.60,420.90 L1200.78,420.91 L1200.95,420.91 L1201.13,420.92 L1201.31,420.92 L1201.48,420.93 L1201.66,420.93 L1201.84,420.94 L1202.01,420.94 L1202.19,420.95 L1202.37,420.95 L1202.55,420.96 L1202.72,420.96 L1202.90,420.97 L1203.08,420.97 L1203.25,420.98 L1203.43,420.98 L1203.61,420.99 L1203.78,420.99 L1203.96,420.99 L1204.14,421.00 L1204.32,421.00 L1204.49,421.01 L1204.67,421.01 L1204.85,421.02 L1205.02,421.02 L1205.20,421.03 L1205.38,421.03 L1205.55,421.03 L1205.73,421.04 L1205.91,421.04 L1206.09,421.05 L1206.26,421.05 L1206.44,421.06 L1206.62,421.06 L1206.79,421.06 L1206.97,421.07 L1207.15,421.07 L1207.32,421.08 L1207.50,421.08 L1207.68,421.08 L1207.86,421.09 L1208.03,421.09 L1208.21,421.10 L1208.39,421.10 L1208.56,421.10 L1208.74,421.11 L1208.92,421.11 L1209.09,421.11 L1209.27,421.12 L1209.45,421.12 L1209.63,421.13 L1209.80,421.13 L1209.98,421.13 L1210.16,421.14 L1210.33,421.14 L1210.51,421.14 L1210.69,421.15 L1210.86,421.15 L1211.04,421.15 L1211.22,421.16 L1211.40,421.16 L1211.57,421.16 L1211.75,421.17 L1211.93,421.17 L1212.10,421.17 L1212.28,421.18 L1212.46,421.18 L1212.63,421.18 L1212.81,421.19 L1212.99,421.19 L1213.17,421.19 L1213.34,421.20 L1213.52,421.20 L1213.70,421.20 L1213.87,421.21 L1214.05,421.21 L1214.23,421.21 L1214.40,421.21 L1214.58,421.22 L1214.76,421.22 L1214.94,421.22 L1215.11,421.23 L1215.29,421.23 L1215.47,421.23 L1215.64,421.24 L1215.82,421.24 L1216.00,421.24 L1216.17,421.24 L1216.35,421.25 L1216.53,421.25 L1216.71,421.25 L1216.88,421.26 L1217.06,421.26 L1217.24,421.26 L1217.41,421.26 L1217.59,421.27 L1217.77,421.27 L1217.94,421.27 L1218.12,421.27 L1218.30,421.28 L1218.48,421.28 L1218.65,421.28 L1218.83,421.28 L1219.01,421.29 L1219.18,421.29 L1219.36,421.29 L1219.54,421.29 L1219.71,421.30 L1219.89,421.30 L1220.07,421.30 L1220.24,421.30 L1220.42,421.31 L1220.60,421.31 L1220.78,421.31 L1220.95,421.31 L1221.13,421.32 L1221.31,421.32 L1221.48,421.32 L1221.66,421.32 L1221.84,421.33 L1222.01,421.33 L1222.19,421.33 L1222.37,421.33 L1222.55,421.34 L1222.72,421.34 L1222.90,421.34 L1223.08,421.34 L1223.25,421.34 L1223.43,421.35 L1223.61,421.35 L1223.78,421.35 L1223.96,421.35 L1224.14,421.36 L1224.32,421.36 L1224.49,421.36 L1224.67,421.36 L1224.85,421.36 L1225.02,421.37 L1225.20,421.37 L1225.38,421.37 L1225.55,421.37 L1225.73,421.37 L1225.91,421.38 L1226.09,421.38 L1226.26,421.38 L1226.44,421.38 L1226.62,421.38 L1226.79,421.39 L1226.97,421.39 L1227.15,421.39 L1227.32,421.39 L1227.50,421.39 L1227.68,421.40 L1227.86,421.40 L1228.03,421.40 L1228.21,421.40 L1228.39,421.40 L1228.56,421.41 L1228.74,421.41 L1228.92,421.41 L1229.09,421.41 L1229.27,421.41 L1229.45,421.41 L1229.63,421.42 L1229.80,421.42 L1229.98,421.42 L1230.16,421.42 L1230.33,421.42 L1230.51,421.43 L1230.69,421.43 L1230.86,421.43 L1231.04,421.43 L1231.22,421.43 L1231.40,421.43 L1231.57,421.44 L1231.75,421.44 L1231.93,421.44 L1232.10,421.44 L1232.28,421.44 L1232.46,421.44 L1232.63,421.45 L1232.81,421.45 L1232.99,421.45 L1233.17,421.45 L1233.34,421.45 L1233.52,421.45 L1233.70,421.45 L1233.87,421.46 L1234.05,421.46 L1234.23,421.46 L1234.40,421.46 L1234.58,421.46 L1234.76,421.46 L1234.94,421.47 L1235.11,421.47 L1235.29,421.47 L1235.47,421.47 L1235.64,421.47 L1235.82,421.47 L1236.00,421.47 L1236.17,421.48 L1236.35,421.48 L1236.53,421.48 L1236.71,421.48 L1236.88,421.48 L1237.06,421.48 L1237.24,421.49 L1237.41,421.49 L1237.59,421.49 L1237.77,421.49 L1237.94,421.49 L1238.12,421.49 L1238.30,421.49 L1238.48,421.49 L1238.65,421.50 L1238.83,421.50 L1239.01,421.50 L1239.18,421.50 L1239.36,421.50 L1239.54,421.50 L1239.71,421.50 L1239.89,421.51 L1240.07,421.51 L1240.25,421.51 L1240.42,421.51 L1240.60,421.51 L1240.78,421.51 L1240.95,421.51 L1241.13,421.51 L1241.31,421.52 L1241.48,421.52 L1241.66,421.52 L1241.84,421.52 L1242.02,421.52 L1242.19,421.52 L1242.37,421.52 L1242.55,421.52 L1242.72,421.53 L1242.90,421.53 L1243.08,421.53 L1243.25,421.53 L1243.43,421.53 L1243.61,421.53 L1243.78,421.53 L1243.96,421.53 L1244.14,421.54 L1244.32,421.54 L1244.49,421.54 L1244.67,421.54 L1244.85,421.54 L1245.02,421.54 L1245.20,421.54 L1245.38,421.54 L1245.55,421.54 L1245.73,421.55 L1245.91,421.55 L1246.09,421.55 L1246.26,421.55 L1246.44,421.55 L1246.62,421.55 L1246.79,421.55 L1246.97,421.55 L1247.15,421.55 L1247.32,421.56 L1247.50,421.56 L1247.68,421.56 L1247.86,421.56 L1248.03,421.56 L1248.21,421.56 L1248.39,421.56 L1248.56,421.56 L1248.74,421.56 L1248.92,421.57 L1249.09,421.57 L1249.27,421.57 L1249.45,421.57 L1249.63,421.57 L1249.80,421.57 L1249.98,421.57 L1250.16,421.57 L1250.33,421.57 L1250.51,421.57 L1250.69,421.58 L1250.86,421.58 L1251.04,421.58 L1251.22,421.58 L1251.40,421.58 L1251.57,421.58 L1251.75,421.58 L1251.93,421.58 L1252.10,421.58 L1252.28,421.58 L1252.46,421.59 L1252.63,421.59 L1252.81,421.59 L1252.99,421.59 L1253.17,421.59 L1253.34,421.59 L1253.52,421.59 L1253.70,421.59 L1253.87,421.59 L1254.05,421.59 L1254.23,421.59 L1254.40,421.60 L1254.58,421.60 L1254.76,421.60 L1254.94,421.60 L1255.11,421.60 L1255.29,421.60 L1255.47,421.60 L1255.64,421.60 L1255.82,421.60 L1256.00,421.60 L1256.17,421.60 L1256.35,421.60 L1256.53,421.61 L1256.71,421.61 L1256.88,421.61 L1257.06,421.61 L1257.24,421.61 L1257.41,421.61 L1257.59,421.61 L1257.77,421.61 L1257.94,421.61 L1258.12,421.61 L1258.30,421.61 L1258.48,421.61 L1258.65,421.62 L1258.83,421.62 L1259.01,421.62 L1259.18,421.62 L1259.36,421.62 L1259.54,421.62 L1259.71,421.62 L1259.89,421.62 L1260.07,421.62 L1260.25,421.62 L1260.42,421.62 L1260.60,421.62 L1260.78,421.63 L1260.95,421.63 L1261.13,421.63 L1261.31,421.63 L1261.48,421.63 L1261.66,421.63 L1261.84,421.63 L1262.02,421.63 L1262.19,421.63 L1262.37,421.63 L1262.55,421.63 L1262.72,421.63 L1262.90,421.63 L1263.08,421.63 L1263.25,421.64 L1263.43,421.64 L1263.61,421.64 L1263.79,421.64 L1263.96,421.64 L1264.14,421.64 L1264.32,421.64 L1264.49,421.64 L1264.67,421.64 L1264.85,421.64 L1265.02,421.64 L1265.20,421.64 L1265.38,421.64 L1265.55,421.64 L1265.73,421.65 L1265.91,421.65 L1266.09,421.65 L1266.26,421.65 L1266.44,421.65 L1266.62,421.65 L1266.79,421.65 L1266.97,421.65 L1267.15,421.65 L1267.32,421.65 L1267.50,421.65 L1267.68,421.65 L1267.86,421.65 L1268.03,421.65 L1268.21,421.65 L1268.39,421.66 L1268.56,421.66 L1268.74,421.66 L1268.92,421.66 L1269.09,421.66 L1269.27,421.66 L1269.45,421.66 L1269.63,421.66 L1269.80,421.66 L1269.98,421.66 L1270.16,421.66 L1270.33,421.66 L1270.51,421.66 L1270.69,421.66 L1270.86,421.66 L1271.04,421.66 L1271.22,421.67 L1271.40,421.67 L1271.57,421.67 L1271.75,421.67 L1271.93,421.67 L1272.10,421.67 L1272.28,421.67 L1272.46,421.67 L1272.63,421.67 L1272.81,421.67 L1272.99,421.67 L1273.17,421.67 L1273.34,421.67 L1273.52,421.67 L1273.70,421.67 L1273.87,421.67 L1274.05,421.67 L1274.23,421.68 L1274.40,421.68 L1274.58,421.68 L1274.76,421.68 L1274.94,421.68 L1275.11,421.68 L1275.29,421.68 L1275.47,421.68 L1275.64,421.68 L1275.82,421.68 L1276.00,421.68 L1276.17,421.68 L1276.35,421.68 L1276.53,421.68 L1276.71,421.68 L1276.88,421.68 L1277.06,421.68 L1277.24,421.68 L1277.41,421.69 L1277.59,421.69 L1277.77,421.69 L1277.94,421.69 L1278.12,421.69 L1278.30,421.69 L1278.48,421.69 L1278.65,421.69 L1278.83,421.69 L1279.01,421.69 L1279.18,421.69 L1279.36,421.69 L1279.54,421.69 L1279.71,421.69 L1279.89,421.69 L1280.07,421.69 L1280.25,421.69 L1280.42,421.69 L1280.60,421.69 L1280.78,421.70 L1280.95,421.70 L1281.13,421.70 L1281.31,421.70 L1281.48,421.70 L1281.66,421.70 L1281.84,421.70 L1282.02,421.70 L1282.19,421.70 L1282.37,421.70 L1282.55,421.70 L1282.72,421.70 L1282.90,421.70 L1283.08,421.70 L1283.25,421.70 L1283.43,421.70 L1283.61,421.70 L1283.79,421.70 L1283.96,421.70 L1284.14,421.70 L1284.32,421.70 L1284.49,421.71 L1284.67,421.71 L1284.85,421.71 L1285.02,421.71 L1285.20,421.71 L1285.38,421.71 L1285.56,421.71 L1285.73,421.71 L1285.91,421.71 L1286.09,421.71 L1286.26,421.71 L1286.44,421.71 L1286.62,421.71 L1286.79,421.71 L1286.97,421.71 L1287.15,421.71 L1287.33,421.71 L1287.50,421.71 L1287.68,421.71 L1287.86,421.71 L1288.03,421.71 L1288.21,421.71 L1288.39,421.71 L1288.56,421.72 L1288.74,421.72 L1288.92,421.72 L1289.09,421.72 L1289.27,421.72 L1289.45,421.72 L1289.63,421.72 L1289.80,421.72 L1289.98,421.72 L1290.16,421.72 L1290.33,421.72 L1290.51,421.72 L1290.69,421.72 L1290.86,421.72 L1291.04,421.72 L1291.22,421.72 L1291.40,421.72 L1291.57,421.72 L1291.75,421.72 L1291.93,421.72 L1292.10,421.72 L1292.28,421.72 L1292.46,421.72 L1292.63,421.72 L1292.81,421.73 L1292.99,421.73 L1293.17,421.73 L1293.34,421.73 L1293.52,421.73 L1293.70,421.73 L1293.87,421.73 L1294.05,421.73 L1294.23,421.73 L1294.40,421.73 L1294.58,421.73 L1294.76,421.73 L1294.94,421.73 L1295.11,421.73 L1295.29,421.73 L1295.47,421.73 L1295.64,421.73 L1295.82,421.73 L1296.00,421.73 L1296.17,421.73 L1296.35,421.73 L1296.53,421.73 L1296.71,421.73 L1296.88,421.73 L1297.06,421.73 L1297.24,421.73 L1297.41,421.73 L1297.59,421.74 L1297.77,421.74 L1297.94,421.74 L1298.12,421.74 L1298.30,421.74 L1298.48,421.74 L1298.65,421.74 L1298.83,421.74 L1299.01,421.74 L1299.18,421.74 L1299.36,421.74 L1299.54,421.74 L1299.71,421.74 L1299.89,421.74 L1300.07,421.74 L1300.25,421.74 L1300.42,421.74 L1300.60,421.74 L1300.78,421.74 L1300.95,421.74 L1301.13,421.74 L1301.31,421.74 L1301.48,421.74 L1301.66,421.74 L1301.84,421.74 L1302.02,421.74 L1302.19,421.74 L1302.37,421.74 L1302.55,421.74 L1302.72,421.75 L1302.90,421.75 L1303.08,421.75 L1303.25,421.75 L1303.43,421.75 L1303.61,421.75 L1303.79,421.75 L1303.96,421.75 L1304.14,421.75 L1304.32,421.75 L1304.49,421.75 L1304.67,421.75 L1304.85,421.75 L1305.02,421.75 L1305.20,421.75 L1305.38,421.75 L1305.56,421.75 L1305.73,421.75 L1305.91,421.75 L1306.09,421.75 L1306.26,421.75 L1306.44,421.75 L1306.62,421.75 L1306.79,421.75 L1306.97,421.75 L1307.15,421.75 L1307.33,421.75 L1307.50,421.75 L1307.68,421.75 L1307.86,421.75 L1308.03,421.75 L1308.21,421.75 L1308.39,421.75 L1308.56,421.76 L1308.74,421.76 L1308.92,421.76 L1309.10,421.76 L1309.27,421.76 L1309.45,421.76 L1309.63,421.76 L1309.80,421.76 L1309.98,421.76 L1310.16,421.76 L1310.33,421.76 L1310.51,421.76 L1310.69,421.76 L1310.87,421.76 L1311.04,421.76 L1311.22,421.76 L1311.40,421.76 L1311.57,421.76 L1311.75,421.76 L1311.93,421.76 L1312.10,421.76 L1312.28,421.76 L1312.46,421.76 L1312.63,421.76 L1312.81,421.76 L1312.99,421.76 L1313.17,421.76 L1313.34,421.76 L1313.52,421.76 L1313.70,421.76 L1313.87,421.76 L1314.05,421.76 L1314.23,421.76 L1314.40,421.76 L1314.58,421.76 L1314.76,421.77 L1314.94,421.77 L1315.11,421.77 L1315.29,421.77 L1315.47,421.77 L1315.64,421.77 L1315.82,421.77 L1316.00,421.77 L1316.17,421.77 L1316.35,421.77 L1316.53,421.77 L1316.71,421.77 L1316.88,421.77 L1317.06,421.77 L1317.24,421.77 L1317.41,421.77 L1317.59,421.77 L1317.77,421.77 L1317.94,421.77 L1318.12,421.77 L1318.30,421.77 L1318.48,421.77 L1318.65,421.77 L1318.83,421.77 L1319.01,421.77 L1319.18,421.77 L1319.36,421.77 L1319.54,421.77 L1319.71,421.77 L1319.89,421.77 L1320.07,421.77 L1320.25,421.77 L1320.42,421.77 L1320.60,421.77 L1320.78,421.77 L1320.95,421.77 L1321.13,421.77 L1321.31,421.77 L1321.48,421.77 L1321.66,421.77 L1321.84,421.78 L1322.02,421.78 L1322.19,421.78 L1322.37,421.78 L1322.55,421.78 L1322.72,421.78 L1322.90,421.78 L1323.08,421.78 L1323.25,421.78 L1323.43,421.78 L1323.61,421.78 L1323.79,421.78 L1323.96,421.78 L1324.14,421.78 L1324.32,421.78 L1324.49,421.78 L1324.67,421.78 L1324.85,421.78 L1325.02,421.78 L1325.20,421.78 L1325.38,421.78 L1325.56,421.78 L1325.73,421.78 L1325.91,421.78 L1326.09,421.78 L1326.26,421.78 L1326.44,421.78 L1326.62,421.78 L1326.79,421.78 L1326.97,421.78 L1327.15,421.78 L1327.33,421.78 L1327.50,421.78 L1327.68,421.78 L1327.86,421.78 L1328.03,421.78 L1328.21,421.78 L1328.39,421.78 L1328.56,421.78 L1328.74,421.78 L1328.92,421.78 L1329.10,421.78 L1329.27,421.78 L1329.45,421.78 L1329.63,421.78 L1329.80,421.78 L1329.98,421.79 L1330.16,421.79 L1330.33,421.79 L1330.51,421.79 L1330.69,421.79 L1330.87,421.79 L1331.04,421.79 L1331.22,421.79 L1331.40,421.79 L1331.57,421.79 L1331.75,421.79 L1331.93,421.79 L1332.10,421.79 L1332.28,421.79 L1332.46,421.79 L1332.64,421.79 L1332.81,421.79 L1332.99,421.79 L1333.17,421.79 L1333.34,421.79 L1333.52,421.79 L1333.70,421.79 L1333.87,421.79 L1334.05,421.79 L1334.23,421.79 L1334.41,421.79 L1334.58,421.79 L1334.76,421.79 L1334.94,421.79 L1335.11,421.79 L1335.29,421.79 L1335.47,421.79 L1335.64,421.79 L1335.82,421.79 L1336.00,421.79 L1336.17,421.79 L1336.35,421.79 L1336.53,421.79 L1336.71,421.79 L1336.88,421.79 L1337.06,421.79 L1337.24,421.79 L1337.41,421.79 L1337.59,421.79 L1337.77,421.79 L1337.94,421.79 L1338.12,421.79 L1338.30,421.79 L1338.48,421.79 L1338.65,421.79 L1338.83,421.79 L1339.01,421.80 L1339.18,421.80 L1339.36,421.80 L1339.54,421.80 L1339.71,421.80 L1339.89,421.80 L1340.07,421.80 L1340.25,421.80 L1340.42,421.80 L1340.60,421.80 L1340.78,421.80 L1340.95,421.80 L1341.13,421.80 L1341.31,421.80 L1341.48,421.80 L1341.66,421.80 L1341.84,421.80 L1342.02,421.80 L1342.19,421.80 L1342.37,421.80 L1342.55,421.80 L1342.72,421.80 L1342.90,421.80 L1343.08,421.80 L1343.25,421.80 L1343.43,421.80 L1343.61,421.80 L1343.79,421.80 L1343.96,421.80 L1344.14,421.80 L1344.32,421.80 L1344.49,421.80 L1344.67,421.80 L1344.85,421.80 L1345.02,421.80 L1345.20,421.80 L1345.38,421.80 L1345.56,421.80 L1345.73,421.80 L1345.91,421.80 L1346.09,421.80 L1346.26,421.80 L1346.44,421.80 L1346.62,421.80 L1346.79,421.80 L1346.97,421.80 L1347.15,421.80 L1347.33,421.80 L1347.50,421.80 L1347.68,421.80 L1347.86,421.80 L1348.03,421.80 L1348.21,421.80 L1348.39,421.80 L1348.56,421.80 L1348.74,421.80 L1348.92,421.80 L1349.10,421.80 L1349.27,421.80 L1349.45,421.81 L1349.63,421.81 L1349.80,421.81 L1349.98,421.81 L1350.16,421.81 L1350.33,421.81 L1350.51,421.81 L1350.69,421.81 L1350.87,421.81 L1351.04,421.81 L1351.22,421.81 L1351.40,421.81 L1351.57,421.81 L1351.75,421.81 L1351.93,421.81 L1352.10,421.81 L1352.28,421.81 L1352.46,421.81 L1352.64,421.81 L1352.81,421.81 L1352.99,421.81 L1353.17,421.81 L1353.34,421.81 L1353.52,421.81 L1353.70,421.81 L1353.87,421.81 L1354.05,421.81 L1354.23,421.81 L1354.41,421.81 L1354.58,421.81 L1354.76,421.81 L1354.94,421.81 L1355.11,421.81 L1355.29,421.81 L1355.47,421.81 L1355.64,421.81 L1355.82,421.81 L1356.00,421.81 L1356.18,421.81 L1356.35,421.81 L1356.53,421.81 L1356.71,421.81 L1356.88,421.81 L1357.06,421.81 L1357.24,421.81 L1357.41,421.81 L1357.59,421.81 L1357.77,421.81 L1357.94,421.81 L1358.12,421.81 L1358.30,421.81 L1358.48,421.81 L1358.65,421.81 L1358.83,421.81 L1359.01,421.81 L1359.18,421.81 L1359.36,421.81 L1359.54,421.81 L1359.71,421.81 L1359.89,421.81 L1360.07,421.81 L1360.25,421.81 L1360.42,421.81 L1360.60,421.81 L1360.78,421.81 L1360.95,421.81 L1361.13,421.81 L1361.31,421.81 L1361.48,421.81 L1361.66,421.81 L1361.84,421.82 L1362.02,421.82 L1362.19,421.82 L1362.37,421.82 L1362.55,421.82 L1362.72,421.82 L1362.90,421.82 L1363.08,421.82 L1363.25,421.82 L1363.43,421.82 L1363.61,421.82 L1363.79,421.82 L1363.96,421.82 L1364.14,421.82 L1364.32,421.82 L1364.49,421.82 L1364.67,421.82 L1364.85,421.82 L1365.02,421.82 L1365.20,421.82 L1365.38,421.82 L1365.56,421.82 L1365.73,421.82 L1365.91,421.82 L1366.09,421.82 L1366.26,421.82 L1366.44,421.82 L1366.62,421.82 L1366.79,421.82 L1366.97,421.82 L1367.15,421.82 L1367.33,421.82 L1367.50,421.82 L1367.68,421.82 L1367.86,421.82 L1368.03,421.82 L1368.21,421.82 L1368.39,421.82 L1368.56,421.82 L1368.74,421.82 L1368.92,421.82 L1369.10,421.82 L1369.27,421.82 L1369.45,421.82 L1369.63,421.82 L1369.80,421.82 L1369.98,421.82 L1370.16,421.82 L1370.33,421.82 L1370.51,421.82 L1370.69,421.82 L1370.87,421.82 L1371.04,421.82 L1371.22,421.82 L1371.40,421.82 L1371.57,421.82 L1371.75,421.82 L1371.93,421.82 L1372.10,421.82 L1372.28,421.82 L1372.46,421.82 L1372.64,421.82 L1372.81,421.82 L1372.99,421.82 L1373.17,421.82 L1373.34,421.82 L1373.52,421.82 L1373.70,421.82 L1373.87,421.82 L1374.05,421.82 L1374.23,421.82 L1374.41,421.82 L1374.58,421.82 L1374.76,421.82 L1374.94,421.82 L1375.11,421.82 L1375.29,421.82 L1375.47,421.82 L1375.64,421.82 L1375.82,421.82 L1376.00,421.82 L1376.18,421.82 L1376.35,421.82 L1376.53,421.83 L1376.71,421.83 L1376.88,421.83 L1377.06,421.83 L1377.24,421.83 L1377.41,421.83 L1377.59,421.83 L1377.77,421.83 L1377.95,421.83 L1378.12,421.83 L1378.30,421.83 L1378.48,421.83 L1378.65,421.83 L1378.83,421.83 L1379.01,421.83 L1379.18,421.83 L1379.36,421.83 L1379.54,421.83 L1379.72,421.83 L1379.89,421.83 L1380.07,421.83 L1380.25,421.83 L1380.42,421.83 L1380.60,421.83" stroke="#00aeef" stroke-width="3.4" fill="none" stroke-dasharray="14.2 13.6"/>
</g>
<path d="M1088.3,64.7 L1125.8,99.6" stroke="#1a1a1a" stroke-width="1.1"/>
<path d="M1120.3,80.9 L1126.6,100.4 L1106.2,95.9" stroke="#1a1a1a" stroke-width="3.6" fill="none"/>
<rect x="112.5" y="558.5" width="533.8" height="420.20000000000005" fill="none" stroke="#565454" stroke-width="1.1"/>
<path d="M212.60,978.7 V973.20 M212.60,558.5 V564.00 M379.40,978.7 V973.20 M379.40,558.5 V564.00 M546.20,978.7 V973.20 M546.20,558.5 V564.00 M112.5,918.67 H118.00 M646.3,918.67 H640.80 M112.5,768.60 H118.00 M646.3,768.60 H640.80 M112.5,618.53 H118.00 M646.3,618.53 H640.80" stroke="#565454" stroke-width="1.1" fill="none"/>
<g clip-path="url(#cc)">
<path d="M112.5,935.08 L646.3,919.07" stroke="#ec1c24" stroke-width="3"/>
<path d="M112.5,895.46 L646.3,879.45" stroke="#ec1c24" stroke-width="3"/>
<path d="M112.5,855.84 L646.3,839.83" stroke="#ec1c24" stroke-width="3"/>
<path d="M112.5,816.22 L646.3,800.21" stroke="#ec1c24" stroke-width="3"/>
<path d="M112.5,736.99 L646.3,720.98" stroke="#ec1c24" stroke-width="3"/>
<path d="M112.5,697.37 L646.3,681.36" stroke="#ec1c24" stroke-width="3"/>
<path d="M112.5,657.75 L646.3,641.74" stroke="#ec1c24" stroke-width="3"/>
<path d="M112.5,618.13 L646.3,602.12" stroke="#ec1c24" stroke-width="3"/>
<path d="M112.5,776.6 L646.3,760.5" stroke="#467446" stroke-width="2.8" stroke-dasharray="9.5 10"/>
<path d="M112.52,560.12 L113.41,561.10 L114.30,562.07 L115.19,563.04 L116.08,564.00 L116.98,564.97 L117.87,565.93 L118.76,566.89 L119.65,567.85 L120.54,568.81 L121.43,569.76 L122.32,570.71 L123.21,571.66 L124.10,572.61 L125.00,573.55 L125.89,574.49 L126.78,575.43 L127.67,576.37 L128.56,577.30 L129.45,578.24 L130.34,579.17 L131.23,580.09 L132.12,581.02 L133.01,581.94 L133.91,582.86 L134.80,583.78 L135.69,584.70 L136.58,585.61 L137.47,586.52 L138.36,587.43 L139.25,588.34 L140.14,589.24 L141.03,590.14 L141.93,591.04 L142.82,591.94 L143.71,592.83 L144.60,593.72 L145.49,594.61 L146.38,595.50 L147.27,596.38 L148.16,597.26 L149.05,598.14 L149.95,599.02 L150.84,599.89 L151.73,600.76 L152.62,601.63 L153.51,602.50 L154.40,603.36 L155.29,604.22 L156.18,605.08 L157.07,605.94 L157.97,606.79 L158.86,607.64 L159.75,608.49 L160.64,609.34 L161.53,610.18 L162.42,611.02 L163.31,611.86 L164.20,612.70 L165.09,613.53 L165.99,614.36 L166.88,615.19 L167.77,616.01 L168.66,616.83 L169.55,617.65 L170.44,618.47 L171.33,619.29 L172.22,620.10 L173.11,620.91 L174.00,621.71 L174.90,622.52 L175.79,623.32 L176.68,624.11 L177.57,624.91 L178.46,625.70 L179.35,626.49 L180.24,627.28 L181.13,628.06 L182.02,628.85 L182.92,629.62 L183.81,630.40 L184.70,631.17 L185.59,631.94 L186.48,632.71 L187.37,633.48 L188.26,634.24 L189.15,635.00 L190.04,635.76 L190.94,636.51 L191.83,637.26 L192.72,638.01 L193.61,638.75 L194.50,639.50 L195.39,640.24 L196.28,640.97 L197.17,641.71 L198.06,642.44 L198.96,643.16 L199.85,643.89 L200.74,644.61 L201.63,645.33 L202.52,646.05 L203.41,646.76 L204.30,647.47 L205.19,648.18 L206.08,648.88 L206.98,649.59 L207.87,650.28 L208.76,650.98 L209.65,651.67 L210.54,652.36 L211.43,653.05 L212.32,653.73 L213.21,654.41 L214.10,655.09 L214.99,655.77 L215.89,656.44 L216.78,657.11 L217.67,657.77 L218.56,658.44 L219.45,659.10 L220.34,659.75 L221.23,660.41 L222.12,661.06 L223.01,661.70 L223.91,662.35 L224.80,662.99 L225.69,663.63 L226.58,664.26 L227.47,664.90 L228.36,665.52 L229.25,666.15 L230.14,666.77 L231.03,667.39 L231.93,668.01 L232.82,668.62 L233.71,669.23 L234.60,669.84 L235.49,670.44 L236.38,671.04 L237.27,671.64 L238.16,672.24 L239.05,672.83 L239.95,673.41 L240.84,674.00 L241.73,674.58 L242.62,675.16 L243.51,675.73 L244.40,676.30 L245.29,676.87 L246.18,677.44 L247.07,678.00 L247.96,678.56 L248.86,679.11 L249.75,679.67 L250.64,680.22 L251.53,680.76 L252.42,681.30 L253.31,681.84 L254.20,682.38 L255.09,682.91 L255.98,683.44 L256.88,683.97 L257.77,684.49 L258.66,685.01 L259.55,685.52 L260.44,686.03 L261.33,686.54 L262.22,687.05 L263.11,687.55 L264.00,688.05 L264.90,688.55 L265.79,689.04 L266.68,689.53 L267.57,690.01 L268.46,690.49 L269.35,690.97 L270.24,691.45 L271.13,691.92 L272.02,692.39 L272.92,692.85 L273.81,693.31 L274.70,693.77 L275.59,694.22 L276.48,694.67 L277.37,695.12 L278.26,695.56 L279.15,696.00 L280.04,696.44 L280.94,696.87 L281.83,697.30 L282.72,697.73 L283.61,698.15 L284.50,698.57 L285.39,698.99 L286.28,699.40 L287.17,699.81 L288.06,700.21 L288.95,700.61 L289.85,701.01 L290.74,701.40 L291.63,701.79 L292.52,702.18 L293.41,702.56 L294.30,702.94 L295.19,703.32 L296.08,703.69 L296.97,704.06 L297.87,704.43 L298.76,704.79 L299.65,705.14 L300.54,705.50 L301.43,705.85 L302.32,706.20 L303.21,706.54 L304.10,706.88 L304.99,707.21 L305.89,707.55 L306.78,707.87 L307.67,708.20 L308.56,708.52 L309.45,708.84 L310.34,709.15 L311.23,709.46 L312.12,709.76 L313.01,710.07 L313.91,710.36 L314.80,710.66 L315.69,710.95 L316.58,711.24 L317.47,711.52 L318.36,711.80 L319.25,712.07 L320.14,712.34 L321.03,712.61 L321.93,712.88 L322.82,713.14 L323.71,713.39 L324.60,713.64 L325.49,713.89 L326.38,714.14 L327.27,714.38 L328.16,714.62 L329.05,714.85 L329.94,715.08 L330.84,715.30 L331.73,715.52 L332.62,715.74 L333.51,715.95 L334.40,716.16 L335.29,716.37 L336.18,716.57 L337.07,716.77 L337.96,716.96 L338.86,717.15 L339.75,717.34 L340.64,717.52 L341.53,717.70 L342.42,717.87 L343.31,718.04 L344.20,718.21 L345.09,718.37 L345.98,718.53 L346.88,718.68 L347.77,718.83 L348.66,718.98 L349.55,719.12 L350.44,719.26 L351.33,719.39 L352.22,719.52 L353.11,719.64 L354.00,719.77 L354.90,719.88 L355.79,720.00 L356.68,720.10 L357.57,720.21 L358.46,720.31 L359.35,720.41 L360.24,720.50 L361.13,720.59 L362.02,720.67 L362.91,720.75 L363.81,720.83 L364.70,720.90 L365.59,720.97 L366.48,721.03 L367.37,721.09 L368.26,721.15 L369.15,721.20 L370.04,721.24 L370.93,721.29 L371.83,721.32 L372.72,721.36 L373.61,721.39 L374.50,721.41 L375.39,721.43 L376.28,721.45 L377.17,721.46 L378.06,721.47 L378.95,721.48 L379.85,721.48 L380.74,721.47 L381.63,721.46 L382.52,721.45 L383.41,721.43 L384.30,721.41 L385.19,721.39 L386.08,721.36 L386.97,721.32 L387.87,721.28 L388.76,721.24 L389.65,721.19 L390.54,721.14 L391.43,721.08 L392.32,721.02 L393.21,720.96 L394.10,720.89 L394.99,720.82 L395.89,720.74 L396.78,720.66 L397.67,720.57 L398.56,720.48 L399.45,720.38 L400.34,720.28 L401.23,720.18 L402.12,720.07 L403.01,719.95 L403.90,719.83 L404.80,719.71 L405.69,719.59 L406.58,719.45 L407.47,719.32 L408.36,719.18 L409.25,719.03 L410.14,718.88 L411.03,718.73 L411.92,718.57 L412.82,718.41 L413.71,718.24 L414.60,718.07 L415.49,717.89 L416.38,717.71 L417.27,717.52 L418.16,717.33 L419.05,717.14 L419.94,716.94 L420.84,716.73 L421.73,716.52 L422.62,716.31 L423.51,716.09 L424.40,715.87 L425.29,715.64 L426.18,715.41 L427.07,715.17 L427.96,714.93 L428.86,714.69 L429.75,714.44 L430.64,714.18 L431.53,713.92 L432.42,713.66 L433.31,713.39 L434.20,713.11 L435.09,712.83 L435.98,712.55 L436.87,712.26 L437.77,711.97 L438.66,711.67 L439.55,711.37 L440.44,711.06 L441.33,710.75 L442.22,710.43 L443.11,710.11 L444.00,709.79 L444.89,709.46 L445.79,709.12 L446.68,708.78 L447.57,708.43 L448.46,708.08 L449.35,707.73 L450.24,707.37 L451.13,707.00 L452.02,706.63 L452.91,706.26 L453.81,705.88 L454.70,705.50 L455.59,705.11 L456.48,704.71 L457.37,704.32 L458.26,703.91 L459.15,703.50 L460.04,703.09 L460.93,702.67 L461.83,702.25 L462.72,701.82 L463.61,701.39 L464.50,700.95 L465.39,700.51 L466.28,700.06 L467.17,699.61 L468.06,699.15 L468.95,698.69 L469.85,698.22 L470.74,697.75 L471.63,697.27 L472.52,696.79 L473.41,696.30 L474.30,695.81 L475.19,695.31 L476.08,694.81 L476.97,694.30 L477.86,693.79 L478.76,693.27 L479.65,692.75 L480.54,692.22 L481.43,691.69 L482.32,691.15 L483.21,690.60 L484.10,690.06 L484.99,689.50 L485.88,688.95 L486.78,688.38 L487.67,687.81 L488.56,687.24 L489.45,686.66 L490.34,686.08 L491.23,685.49 L492.12,684.89 L493.01,684.29 L493.90,683.69 L494.80,683.08 L495.69,682.47 L496.58,681.85 L497.47,681.22 L498.36,680.59 L499.25,679.95 L500.14,679.31 L501.03,678.67 L501.92,678.02 L502.82,677.36 L503.71,676.70 L504.60,676.03 L505.49,675.36 L506.38,674.68 L507.27,674.00 L508.16,673.31 L509.05,672.62 L509.94,671.92 L510.84,671.22 L511.73,670.51 L512.62,669.79 L513.51,669.07 L514.40,668.35 L515.29,667.62 L516.18,666.88 L517.07,666.14 L517.96,665.40 L518.85,664.64 L519.75,663.89 L520.64,663.12 L521.53,662.36 L522.42,661.58 L523.31,660.80 L524.20,660.02 L525.09,659.23 L525.98,658.44 L526.87,657.64 L527.77,656.83 L528.66,656.02 L529.55,655.20 L530.44,654.38 L531.33,653.55 L532.22,652.72 L533.11,651.88 L534.00,651.04 L534.89,650.19 L535.79,649.34 L536.68,648.48 L537.57,647.61 L538.46,646.74 L539.35,645.86 L540.24,644.98 L541.13,644.09 L542.02,643.20 L542.91,642.30 L543.81,641.40 L544.70,640.49 L545.59,639.57 L546.48,638.65 L547.37,637.72 L548.26,636.79 L549.15,635.85 L550.04,634.91 L550.93,633.96 L551.82,633.01 L552.72,632.05 L553.61,631.08 L554.50,630.11 L555.39,629.13 L556.28,628.15 L557.17,627.16 L558.06,626.17 L558.95,625.17 L559.84,624.17 L560.74,623.15 L561.63,622.14 L562.52,621.12 L563.41,620.09 L564.30,619.05 L565.19,618.01 L566.08,616.97 L566.97,615.92 L567.86,614.86 L568.76,613.80 L569.65,612.73 L570.54,611.66 L571.43,610.58 L572.32,609.49 L573.21,608.40 L574.10,607.31 L574.99,606.20 L575.88,605.09 L576.78,603.98 L577.67,602.86 L578.56,601.74 L579.45,600.60 L580.34,599.47 L581.23,598.32 L582.12,597.17 L583.01,596.02 L583.90,594.86 L584.80,593.69 L585.69,592.52 L586.58,591.34 L587.47,590.16 L588.36,588.97 L589.25,587.77 L590.14,586.57 L591.03,585.36 L591.92,584.15 L592.81,582.93 L593.71,581.70 L594.60,580.47 L595.49,579.23 L596.38,577.99 L597.27,576.74 L598.16,575.48 L599.05,574.22 L599.94,572.96 L600.83,571.68 L601.73,570.40 L602.62,569.12 L603.51,567.83 L604.40,566.53 L605.29,565.23 L606.18,563.92 L607.07,562.60 L607.96,561.28 L608.85,559.95 L609.75,558.62 L610.64,557.28 L611.53,555.93 L612.42,554.58 L613.31,553.23 L614.20,551.86 L615.09,550.49 L615.98,549.12 L616.87,547.73 L617.77,546.35 L618.66,544.95 L619.55,543.55 L620.44,542.14 L621.33,540.73 L622.22,539.31 L623.11,537.89 L624.00,536.46 L624.89,535.02 L625.79,533.58 L626.68,532.13 L627.57,530.67 L628.46,529.21 L629.35,527.74 L630.24,526.26 L631.13,524.78 L632.02,523.30 L632.91,521.80 L633.80,520.30 L634.70,518.80 L635.59,517.29 L636.48,515.77 L637.37,514.24 L638.26,512.71 L639.15,511.18 L640.04,509.63 L640.93,508.08 L641.82,506.53 L642.72,504.97 L643.61,503.40 L644.50,501.82 L645.39,500.24 L646.28,498.65" stroke="#2b2f8f" stroke-width="1.5" fill="none"/>
<path d="M112.52,1037.18 L113.41,1035.60 L114.30,1034.02 L115.19,1032.46 L116.08,1030.90 L116.98,1029.34 L117.87,1027.79 L118.76,1026.25 L119.65,1024.71 L120.54,1023.19 L121.43,1021.66 L122.32,1020.14 L123.21,1018.63 L124.10,1017.13 L125.00,1015.63 L125.89,1014.14 L126.78,1012.65 L127.67,1011.17 L128.56,1009.70 L129.45,1008.23 L130.34,1006.77 L131.23,1005.31 L132.12,1003.86 L133.01,1002.42 L133.91,1000.98 L134.80,999.55 L135.69,998.13 L136.58,996.71 L137.47,995.30 L138.36,993.89 L139.25,992.49 L140.14,991.10 L141.03,989.71 L141.93,988.33 L142.82,986.95 L143.71,985.58 L144.60,984.22 L145.49,982.86 L146.38,981.51 L147.27,980.16 L148.16,978.82 L149.05,977.49 L149.95,976.16 L150.84,974.84 L151.73,973.52 L152.62,972.21 L153.51,970.91 L154.40,969.61 L155.29,968.32 L156.18,967.03 L157.07,965.75 L157.97,964.48 L158.86,963.21 L159.75,961.95 L160.64,960.69 L161.53,959.44 L162.42,958.20 L163.31,956.96 L164.20,955.73 L165.09,954.50 L165.99,953.28 L166.88,952.07 L167.77,950.86 L168.66,949.65 L169.55,948.46 L170.44,947.26 L171.33,946.08 L172.22,944.90 L173.11,943.73 L174.00,942.56 L174.90,941.40 L175.79,940.24 L176.68,939.09 L177.57,937.94 L178.46,936.81 L179.35,935.67 L180.24,934.55 L181.13,933.42 L182.02,932.31 L182.92,931.20 L183.81,930.09 L184.70,929.00 L185.59,927.90 L186.48,926.82 L187.37,925.73 L188.26,924.66 L189.15,923.59 L190.04,922.53 L190.94,921.47 L191.83,920.41 L192.72,919.37 L193.61,918.33 L194.50,917.29 L195.39,916.26 L196.28,915.24 L197.17,914.22 L198.06,913.20 L198.96,912.20 L199.85,911.20 L200.74,910.20 L201.63,909.21 L202.52,908.22 L203.41,907.24 L204.30,906.27 L205.19,905.30 L206.08,904.34 L206.98,903.38 L207.87,902.43 L208.76,901.49 L209.65,900.55 L210.54,899.61 L211.43,898.68 L212.32,897.76 L213.21,896.84 L214.10,895.93 L214.99,895.02 L215.89,894.12 L216.78,893.23 L217.67,892.34 L218.56,891.45 L219.45,890.57 L220.34,889.70 L221.23,888.83 L222.12,887.97 L223.01,887.11 L223.91,886.26 L224.80,885.41 L225.69,884.57 L226.58,883.73 L227.47,882.90 L228.36,882.08 L229.25,881.26 L230.14,880.44 L231.03,879.64 L231.93,878.83 L232.82,878.04 L233.71,877.24 L234.60,876.46 L235.49,875.67 L236.38,874.90 L237.27,874.13 L238.16,873.36 L239.05,872.60 L239.95,871.85 L240.84,871.10 L241.73,870.35 L242.62,869.61 L243.51,868.88 L244.40,868.15 L245.29,867.43 L246.18,866.71 L247.07,866.00 L247.96,865.29 L248.86,864.59 L249.75,863.89 L250.64,863.20 L251.53,862.52 L252.42,861.83 L253.31,861.16 L254.20,860.49 L255.09,859.82 L255.98,859.16 L256.88,858.51 L257.77,857.86 L258.66,857.21 L259.55,856.58 L260.44,855.94 L261.33,855.31 L262.22,854.69 L263.11,854.07 L264.00,853.46 L264.90,852.85 L265.79,852.25 L266.68,851.65 L267.57,851.06 L268.46,850.47 L269.35,849.88 L270.24,849.31 L271.13,848.74 L272.02,848.17 L272.92,847.61 L273.81,847.05 L274.70,846.50 L275.59,845.95 L276.48,845.41 L277.37,844.87 L278.26,844.34 L279.15,843.81 L280.04,843.29 L280.94,842.77 L281.83,842.26 L282.72,841.76 L283.61,841.25 L284.50,840.76 L285.39,840.27 L286.28,839.78 L287.17,839.30 L288.06,838.82 L288.95,838.35 L289.85,837.88 L290.74,837.42 L291.63,836.96 L292.52,836.51 L293.41,836.07 L294.30,835.62 L295.19,835.19 L296.08,834.75 L296.97,834.33 L297.87,833.91 L298.76,833.49 L299.65,833.08 L300.54,832.67 L301.43,832.26 L302.32,831.87 L303.21,831.47 L304.10,831.09 L304.99,830.70 L305.89,830.32 L306.78,829.95 L307.67,829.58 L308.56,829.22 L309.45,828.86 L310.34,828.50 L311.23,828.15 L312.12,827.81 L313.01,827.47 L313.91,827.13 L314.80,826.80 L315.69,826.48 L316.58,826.16 L317.47,825.84 L318.36,825.53 L319.25,825.22 L320.14,824.92 L321.03,824.62 L321.93,824.33 L322.82,824.04 L323.71,823.76 L324.60,823.48 L325.49,823.21 L326.38,822.94 L327.27,822.67 L328.16,822.41 L329.05,822.16 L329.94,821.91 L330.84,821.66 L331.73,821.42 L332.62,821.19 L333.51,820.95 L334.40,820.73 L335.29,820.50 L336.18,820.29 L337.07,820.07 L337.96,819.86 L338.86,819.66 L339.75,819.46 L340.64,819.27 L341.53,819.08 L342.42,818.89 L343.31,818.71 L344.20,818.53 L345.09,818.36 L345.98,818.19 L346.88,818.03 L347.77,817.87 L348.66,817.72 L349.55,817.57 L350.44,817.42 L351.33,817.28 L352.22,817.15 L353.11,817.01 L354.00,816.89 L354.90,816.76 L355.79,816.65 L356.68,816.53 L357.57,816.42 L358.46,816.32 L359.35,816.22 L360.24,816.12 L361.13,816.03 L362.02,815.94 L362.91,815.86 L363.81,815.78 L364.70,815.71 L365.59,815.64 L366.48,815.58 L367.37,815.51 L368.26,815.46 L369.15,815.41 L370.04,815.36 L370.93,815.32 L371.83,815.28 L372.72,815.24 L373.61,815.21 L374.50,815.19 L375.39,815.17 L376.28,815.15 L377.17,815.14 L378.06,815.13 L378.95,815.12 L379.85,815.12 L380.74,815.13 L381.63,815.14 L382.52,815.15 L383.41,815.16 L384.30,815.19 L385.19,815.21 L386.08,815.24 L386.97,815.28 L387.87,815.31 L388.76,815.36 L389.65,815.40 L390.54,815.45 L391.43,815.51 L392.32,815.57 L393.21,815.63 L394.10,815.70 L394.99,815.77 L395.89,815.85 L396.78,815.93 L397.67,816.01 L398.56,816.10 L399.45,816.19 L400.34,816.29 L401.23,816.39 L402.12,816.50 L403.01,816.60 L403.90,816.72 L404.80,816.84 L405.69,816.96 L406.58,817.08 L407.47,817.21 L408.36,817.35 L409.25,817.48 L410.14,817.62 L411.03,817.77 L411.92,817.92 L412.82,818.07 L413.71,818.23 L414.60,818.39 L415.49,818.56 L416.38,818.73 L417.27,818.90 L418.16,819.08 L419.05,819.26 L419.94,819.45 L420.84,819.64 L421.73,819.83 L422.62,820.03 L423.51,820.23 L424.40,820.44 L425.29,820.65 L426.18,820.86 L427.07,821.08 L427.96,821.30 L428.86,821.53 L429.75,821.76 L430.64,821.99 L431.53,822.23 L432.42,822.47 L433.31,822.71 L434.20,822.96 L435.09,823.21 L435.98,823.47 L436.87,823.73 L437.77,824.00 L438.66,824.26 L439.55,824.54 L440.44,824.81 L441.33,825.09 L442.22,825.37 L443.11,825.66 L444.00,825.95 L444.89,826.25 L445.79,826.55 L446.68,826.85 L447.57,827.15 L448.46,827.46 L449.35,827.78 L450.24,828.10 L451.13,828.42 L452.02,828.74 L452.91,829.07 L453.81,829.40 L454.70,829.74 L455.59,830.08 L456.48,830.42 L457.37,830.77 L458.26,831.12 L459.15,831.48 L460.04,831.83 L460.93,832.20 L461.83,832.56 L462.72,832.93 L463.61,833.30 L464.50,833.68 L465.39,834.06 L466.28,834.45 L467.17,834.83 L468.06,835.22 L468.95,835.62 L469.85,836.02 L470.74,836.42 L471.63,836.82 L472.52,837.23 L473.41,837.65 L474.30,838.06 L475.19,838.48 L476.08,838.91 L476.97,839.33 L477.86,839.76 L478.76,840.20 L479.65,840.64 L480.54,841.08 L481.43,841.52 L482.32,841.97 L483.21,842.42 L484.10,842.88 L484.99,843.34 L485.88,843.80 L486.78,844.26 L487.67,844.73 L488.56,845.21 L489.45,845.68 L490.34,846.16 L491.23,846.65 L492.12,847.13 L493.01,847.62 L493.90,848.12 L494.80,848.61 L495.69,849.11 L496.58,849.62 L497.47,850.12 L498.36,850.63 L499.25,851.15 L500.14,851.66 L501.03,852.19 L501.92,852.71 L502.82,853.24 L503.71,853.77 L504.60,854.30 L505.49,854.84 L506.38,855.38 L507.27,855.92 L508.16,856.47 L509.05,857.02 L509.94,857.58 L510.84,858.13 L511.73,858.69 L512.62,859.26 L513.51,859.82 L514.40,860.39 L515.29,860.97 L516.18,861.55 L517.07,862.13 L517.96,862.71 L518.85,863.30 L519.75,863.89 L520.64,864.48 L521.53,865.07 L522.42,865.67 L523.31,866.28 L524.20,866.88 L525.09,867.49 L525.98,868.10 L526.87,868.72 L527.77,869.34 L528.66,869.96 L529.55,870.59 L530.44,871.21 L531.33,871.85 L532.22,872.48 L533.11,873.12 L534.00,873.76 L534.89,874.40 L535.79,875.05 L536.68,875.70 L537.57,876.35 L538.46,877.01 L539.35,877.67 L540.24,878.33 L541.13,879.00 L542.02,879.67 L542.91,880.34 L543.81,881.01 L544.70,881.69 L545.59,882.37 L546.48,883.05 L547.37,883.74 L548.26,884.43 L549.15,885.12 L550.04,885.82 L550.93,886.52 L551.82,887.22 L552.72,887.93 L553.61,888.63 L554.50,889.35 L555.39,890.06 L556.28,890.78 L557.17,891.50 L558.06,892.22 L558.95,892.94 L559.84,893.67 L560.74,894.40 L561.63,895.14 L562.52,895.88 L563.41,896.62 L564.30,897.36 L565.19,898.11 L566.08,898.85 L566.97,899.61 L567.86,900.36 L568.76,901.12 L569.65,901.88 L570.54,902.64 L571.43,903.41 L572.32,904.18 L573.21,904.95 L574.10,905.72 L574.99,906.50 L575.88,907.28 L576.78,908.07 L577.67,908.85 L578.56,909.64 L579.45,910.43 L580.34,911.23 L581.23,912.02 L582.12,912.82 L583.01,913.62 L583.90,914.43 L584.80,915.24 L585.69,916.05 L586.58,916.86 L587.47,917.68 L588.36,918.50 L589.25,919.32 L590.14,920.14 L591.03,920.97 L591.92,921.80 L592.81,922.63 L593.71,923.47 L594.60,924.31 L595.49,925.15 L596.38,925.99 L597.27,926.84 L598.16,927.68 L599.05,928.54 L599.94,929.39 L600.83,930.25 L601.73,931.10 L602.62,931.97 L603.51,932.83 L604.40,933.70 L605.29,934.57 L606.18,935.44 L607.07,936.31 L607.96,937.19 L608.85,938.07 L609.75,938.95 L610.64,939.84 L611.53,940.72 L612.42,941.61 L613.31,942.51 L614.20,943.40 L615.09,944.30 L615.98,945.20 L616.87,946.10 L617.77,947.01 L618.66,947.91 L619.55,948.82 L620.44,949.74 L621.33,950.65 L622.22,951.57 L623.11,952.49 L624.00,953.41 L624.89,954.34 L625.79,955.26 L626.68,956.19 L627.57,957.12 L628.46,958.06 L629.35,959.00 L630.24,959.93 L631.13,960.88 L632.02,961.82 L632.91,962.77 L633.80,963.72 L634.70,964.67 L635.59,965.62 L636.48,966.58 L637.37,967.53 L638.26,968.50 L639.15,969.46 L640.04,970.42 L640.93,971.39 L641.82,972.36 L642.72,973.33 L643.61,974.31 L644.50,975.28 L645.39,976.26 L646.28,977.25" stroke="#1a1a1a" stroke-width="3.0" fill="none"/>
</g>
<circle cx="217.2" cy="891.9" r="8.15" fill="none" stroke="#1a1a1a" stroke-width="7.9"/>
<path d="M213.7,891.6 h7" stroke="#ec1c24" stroke-width="2.6"/>
<circle cx="267.8" cy="850.7" r="8.15" fill="none" stroke="#1a1a1a" stroke-width="7.9"/>
<path d="M264.3,850.4000000000001 h7" stroke="#ec1c24" stroke-width="2.6"/>
<circle cx="490.3" cy="845.4" r="8.15" fill="none" stroke="#1a1a1a" stroke-width="7.9"/>
<path d="M486.8,845.1 h7" stroke="#ec1c24" stroke-width="2.6"/>
<circle cx="548.6" cy="882.9" r="8.15" fill="none" stroke="#1a1a1a" stroke-width="7.9"/>
<path d="M545.1,882.6 h7" stroke="#ec1c24" stroke-width="2.6"/>
<rect x="850.4" y="555.5" width="528.8000000000001" height="417.0" fill="none" stroke="#565454" stroke-width="1.1"/>
<path d="M1026.67,972.5 V967.00 M1026.67,555.5 V561.00 M1202.94,972.5 V967.00 M1202.94,555.5 V561.00 M850.4,923.13 H855.90 M1379.2,923.13 H1373.70 M850.4,800.60 H855.90 M1379.2,800.60 H1373.70 M850.4,678.07 H855.90 M1379.2,678.07 H1373.70" stroke="#565454" stroke-width="1.1" fill="none"/>
<g clip-path="url(#cd)">
<path d="M850.4,631.6 L1379.2,629.1" stroke="#ec1c24" stroke-width="3"/>
<path d="M850.4,664.4 L1379.2,661.8" stroke="#ec1c24" stroke-width="3"/>
<path d="M850.4,696.7 L1379.2,694.1" stroke="#ec1c24" stroke-width="3"/>
<path d="M850.4,728.9 L1379.2,726.3" stroke="#ec1c24" stroke-width="3"/>
<path d="M850.4,793.4 L1379.2,790.9" stroke="#ec1c24" stroke-width="3"/>
<path d="M850.4,825.7 L1379.2,823.6" stroke="#ec1c24" stroke-width="3"/>
<path d="M850.4,858.4 L1379.2,855.9" stroke="#ec1c24" stroke-width="3"/>
<path d="M850.4,890.7 L1379.2,887.6" stroke="#ec1c24" stroke-width="3"/>
<circle cx="1134.5" cy="760.8" r="12.6" fill="#00a651"/>
<path d="M850.4,761.2 L1379.2,758.1" stroke="#467446" stroke-width="2.8" stroke-dasharray="9.5 10"/>
<path d="M850.40,955.78 L853.06,954.10 L855.71,952.41 L858.37,950.72 L861.03,949.03 L863.69,947.34 L866.34,945.65 L869.00,943.95 L871.66,942.25 L874.32,940.55 L876.97,938.84 L879.63,937.14 L882.29,935.43 L884.94,933.71 L887.60,932.00 L890.26,930.28 L892.92,928.57 L895.57,926.84 L898.23,925.12 L900.89,923.40 L903.55,921.67 L906.20,919.94 L908.86,918.20 L911.52,916.47 L914.17,914.73 L916.83,912.99 L919.49,911.25 L922.15,909.50 L924.80,907.76 L927.46,906.01 L930.12,904.25 L932.78,902.50 L935.43,900.74 L938.09,898.98 L940.75,897.22 L943.41,895.46 L946.06,893.69 L948.72,891.92 L951.38,890.15 L954.03,888.38 L956.69,886.60 L959.35,884.83 L962.01,883.04 L964.66,881.26 L967.32,879.48 L969.98,877.69 L972.64,875.90 L975.29,874.11 L977.95,872.31 L980.61,870.51 L983.26,868.72 L985.92,866.91 L988.58,865.11 L991.24,863.30 L993.89,861.49 L996.55,859.68 L999.21,857.87 L1001.87,856.05 L1004.52,854.23 L1007.18,852.41 L1009.84,850.59 L1012.49,848.76 L1015.15,846.94 L1017.81,845.10 L1020.47,843.27 L1023.12,841.44 L1025.78,839.60 L1028.44,837.76 L1031.10,835.92 L1033.75,834.07 L1036.41,832.23 L1039.07,830.38 L1041.72,828.52 L1044.38,826.67 L1047.04,824.81 L1049.70,822.95 L1052.35,821.09 L1055.01,819.23 L1057.67,817.36 L1060.33,815.49 L1062.98,813.62 L1065.64,811.75 L1068.30,809.87 L1070.95,808.00 L1073.61,806.12 L1076.27,804.23 L1078.93,802.35 L1081.58,800.46 L1084.24,798.57 L1086.90,796.68 L1089.56,794.78 L1092.21,792.89 L1094.87,790.99 L1097.53,789.09 L1100.18,787.18 L1102.84,785.28 L1105.50,783.37 L1108.16,781.46 L1110.81,779.54 L1113.47,777.63 L1116.13,775.71 L1118.79,773.79 L1121.44,771.86 L1124.10,769.94 L1126.76,768.01 L1129.42,766.08 L1132.07,764.15 L1134.73,762.21 L1137.39,760.27 L1140.04,758.33 L1142.70,756.39 L1145.36,754.45 L1148.02,752.50 L1150.67,750.55 L1153.33,748.60 L1155.99,746.65 L1158.65,744.69 L1161.30,742.73 L1163.96,740.77 L1166.62,738.81 L1169.27,736.84 L1171.93,734.87 L1174.59,732.90 L1177.25,730.93 L1179.90,728.95 L1182.56,726.97 L1185.22,724.99 L1187.88,723.01 L1190.53,721.03 L1193.19,719.04 L1195.85,717.05 L1198.50,715.06 L1201.16,713.06 L1203.82,711.07 L1206.48,709.07 L1209.13,707.07 L1211.79,705.06 L1214.45,703.06 L1217.11,701.05 L1219.76,699.04 L1222.42,697.02 L1225.08,695.01 L1227.73,692.99 L1230.39,690.97 L1233.05,688.94 L1235.71,686.92 L1238.36,684.89 L1241.02,682.86 L1243.68,680.83 L1246.34,678.79 L1248.99,676.76 L1251.65,674.72 L1254.31,672.67 L1256.96,670.63 L1259.62,668.58 L1262.28,666.53 L1264.94,664.48 L1267.59,662.43 L1270.25,660.37 L1272.91,658.31 L1275.57,656.25 L1278.22,654.19 L1280.88,652.12 L1283.54,650.05 L1286.19,647.98 L1288.85,645.91 L1291.51,643.84 L1294.17,641.76 L1296.82,639.68 L1299.48,637.60 L1302.14,635.51 L1304.80,633.42 L1307.45,631.33 L1310.11,629.24 L1312.77,627.15 L1315.43,625.05 L1318.08,622.95 L1320.74,620.85 L1323.40,618.75 L1326.05,616.64 L1328.71,614.53 L1331.37,612.42 L1334.03,610.31 L1336.68,608.19 L1339.34,606.07 L1342.00,603.95 L1344.66,601.83 L1347.31,599.71 L1349.97,597.58 L1352.63,595.45 L1355.28,593.32 L1357.94,591.18 L1360.60,589.04 L1363.26,586.90 L1365.91,584.76 L1368.57,582.62 L1371.23,580.47 L1373.89,578.32 L1376.54,576.17 L1379.20,574.02" stroke="#1a1a1a" stroke-width="3.1" fill="none"/>
</g>
<path d="M949.3,396.3284002943386 V889.0" stroke="#1a1a1a" stroke-width="1.9" stroke-dasharray="10.0 6.33" fill="none" stroke-dashoffset="4.78"/>
<path d="M996.0,341.29001435451437 V856.5" stroke="#1a1a1a" stroke-width="1.9" stroke-dasharray="10.0 6.33" fill="none" stroke-dashoffset="15.06"/>
<path d="M1044.3,279.9685392350319 V823.5" stroke="#1a1a1a" stroke-width="1.9" stroke-dasharray="10.0 6.33" fill="none" stroke-dashoffset="2.73"/>
<path d="M1090.2,190.3211131636045 V790.5" stroke="#1a1a1a" stroke-width="1.9" stroke-dasharray="10.0 6.33" fill="none" stroke-dashoffset="11.06"/>
<path d="M1134.8,98.20747448984719 V749.0" stroke="#1a1a1a" stroke-width="1.9" stroke-dasharray="10.0 6.33" fill="none" stroke-dashoffset="0.60"/>
<path d="M1179.2,154.21851199812772 V726.5" stroke="#1a1a1a" stroke-width="1.9" stroke-dasharray="10.0 6.33" fill="none" stroke-dashoffset="7.62"/>
<path d="M1223.2,274.2836768343511 V693.0" stroke="#1a1a1a" stroke-width="1.9" stroke-dasharray="10.0 6.33" fill="none" stroke-dashoffset="13.37"/>
<path d="M1264.8,306.0715300213056 V661.5" stroke="#1a1a1a" stroke-width="1.9" stroke-dasharray="10.0 6.33" fill="none" stroke-dashoffset="12.50"/>
<path d="M1303.6,355.45134594295166 V628.5" stroke="#1a1a1a" stroke-width="1.9" stroke-dasharray="10.0 6.33" fill="none" stroke-dashoffset="12.89"/>
<circle cx="949.3" cy="889.8" r="8.2" fill="none" stroke="#9b2590" stroke-width="3.6"/>
<circle cx="997.4" cy="857.2" r="8.2" fill="none" stroke="#9b2590" stroke-width="3.6"/>
<circle cx="1045.3" cy="824.2" r="8.2" fill="none" stroke="#9b2590" stroke-width="3.6"/>
<circle cx="1091.3" cy="791.4" r="8.2" fill="none" stroke="#9b2590" stroke-width="3.6"/>
<circle cx="1180.3" cy="727.4" r="8.2" fill="none" stroke="#9b2590" stroke-width="3.6"/>
<circle cx="1223.3" cy="694.1" r="8.2" fill="none" stroke="#9b2590" stroke-width="3.6"/>
<circle cx="1264.8" cy="662.3" r="8.2" fill="none" stroke="#9b2590" stroke-width="3.6"/>
<circle cx="1307.1" cy="629.0" r="8.2" fill="none" stroke="#9b2590" stroke-width="3.6"/>
<text x="110.20" y="436.80" font-size="40" text-anchor="end" font-weight="normal" fill="#1a1a1a" stroke="#1a1a1a" stroke-width="0.3" font-family="Liberation Sans, sans-serif" >0</text>
<text x="110.20" y="366.88" font-size="40" text-anchor="end" font-weight="normal" fill="#1a1a1a" stroke="#1a1a1a" stroke-width="0.3" font-family="Liberation Sans, sans-serif" >0.2</text>
<text x="110.20" y="296.96" font-size="40" text-anchor="end" font-weight="normal" fill="#1a1a1a" stroke="#1a1a1a" stroke-width="0.3" font-family="Liberation Sans, sans-serif" >0.4</text>
<text x="110.20" y="227.04" font-size="40" text-anchor="end" font-weight="normal" fill="#1a1a1a" stroke="#1a1a1a" stroke-width="0.3" font-family="Liberation Sans, sans-serif" >0.6</text>
<text x="110.20" y="157.12" font-size="40" text-anchor="end" font-weight="normal" fill="#1a1a1a" stroke="#1a1a1a" stroke-width="0.3" font-family="Liberation Sans, sans-serif" >0.8</text>
<path transform="translate(102.90,87.20) scale(40)" d="M0,0 V-0.717 H-0.109 Q-0.15,-0.62 -0.283,-0.545 L-0.275,-0.455 Q-0.19,-0.49 -0.097,-0.562 V0 Z" fill="#1a1a1a" stroke="#1a1a1a" stroke-width="0.0075"/>
<text x="215.80" y="464.00" font-size="40" text-anchor="end" font-weight="normal" fill="#1a1a1a" stroke="#1a1a1a" stroke-width="0.3" font-family="Liberation Sans, sans-serif" >-5</text>
<text x="381.00" y="464.00" font-size="40" text-anchor="middle" font-weight="normal" fill="#1a1a1a" stroke="#1a1a1a" stroke-width="0.3" font-family="Liberation Sans, sans-serif" >0</text>
<text x="547.30" y="464.00" font-size="40" text-anchor="middle" font-weight="normal" fill="#1a1a1a" stroke="#1a1a1a" stroke-width="0.3" font-family="Liberation Sans, sans-serif" >5</text>
<text x="377.30" y="502.50" font-size="36" text-anchor="middle" font-weight="normal" fill="#1a1a1a" stroke="#1a1a1a" stroke-width="0.3" font-family="Liberation Sans, sans-serif" >k</text>
<text x="18.30" y="243.70" font-size="51.5" text-anchor="middle" font-weight="normal" fill="#000" stroke="#000" stroke-width="0.3" font-family="Liberation Sans, sans-serif" >S</text>
<text transform="translate(-1.3,40.2) scale(0.93,1)" font-size="53.5" font-weight="bold" fill="#000" font-family="Liberation Sans, sans-serif">a</text>
<text x="171.50" y="389.40" font-size="49.5" text-anchor="start" font-weight="normal" fill="#1a1a1a" stroke="#1a1a1a" stroke-width="0.3" font-family="Liberation Sans, sans-serif" >2</text>
<rect x="200" y="385.7" width="10.9" height="3.3" fill="#1a1a1a"/>
<path transform="translate(285.10,395.70) scale(49.5)" d="M0,0 V-0.717 H-0.109 Q-0.15,-0.62 -0.283,-0.545 L-0.275,-0.455 Q-0.19,-0.49 -0.097,-0.562 V0 Z" fill="#1a1a1a" stroke="#1a1a1a" stroke-width="0.0061"/>
<rect x="295.4" y="392.3" width="10.9" height="3.3" fill="#1a1a1a"/>
<path transform="translate(458.40,384.40) scale(49.5)" d="M0,0 V-0.717 H-0.109 Q-0.15,-0.62 -0.283,-0.545 L-0.275,-0.455 Q-0.19,-0.49 -0.097,-0.562 V0 Z" fill="#1a1a1a" stroke="#1a1a1a" stroke-width="0.0061"/>
<rect x="469.1" y="377.0" width="20" height="3.4" fill="#1a1a1a"/><rect x="477.1" y="369.3" width="3.6" height="18.6" fill="#1a1a1a"/>
<text x="557.50" y="390.90" font-size="49.5" text-anchor="start" font-weight="normal" fill="#1a1a1a" stroke="#1a1a1a" stroke-width="0.3" font-family="Liberation Sans, sans-serif" >2</text>
<rect x="586.8" y="382.2" width="19.8" height="3.4" fill="#1a1a1a"/><rect x="594.9" y="374.6" width="3.6" height="19.4" fill="#1a1a1a"/>
<text x="845.30" y="436.90" font-size="40" text-anchor="end" font-weight="normal" fill="#1a1a1a" stroke="#1a1a1a" stroke-width="0.3" font-family="Liberation Sans, sans-serif" >0</text>
<text x="845.30" y="360.90" font-size="40" text-anchor="end" font-weight="normal" fill="#1a1a1a" stroke="#1a1a1a" stroke-width="0.3" font-family="Liberation Sans, sans-serif" >0.2</text>
<text x="845.30" y="284.90" font-size="40" text-anchor="end" font-weight="normal" fill="#1a1a1a" stroke="#1a1a1a" stroke-width="0.3" font-family="Liberation Sans, sans-serif" >0.4</text>
<text x="845.30" y="208.90" font-size="40" text-anchor="end" font-weight="normal" fill="#1a1a1a" stroke="#1a1a1a" stroke-width="0.3" font-family="Liberation Sans, sans-serif" >0.6</text>
<text x="845.30" y="132.90" font-size="40" text-anchor="end" font-weight="normal" fill="#1a1a1a" stroke="#1a1a1a" stroke-width="0.3" font-family="Liberation Sans, sans-serif" >0.8</text>
<path transform="translate(838.00,56.90) scale(40)" d="M0,0 V-0.717 H-0.109 Q-0.15,-0.62 -0.283,-0.545 L-0.275,-0.455 Q-0.19,-0.49 -0.097,-0.562 V0 Z" fill="#1a1a1a" stroke="#1a1a1a" stroke-width="0.0075"/>
<text x="849.80" y="464.00" font-size="40" text-anchor="middle" font-weight="normal" fill="#1a1a1a" stroke="#1a1a1a" stroke-width="0.3" font-family="Liberation Sans, sans-serif" >49</text>
<text x="1026.73" y="464.00" font-size="40" text-anchor="middle" font-weight="normal" fill="#1a1a1a" stroke="#1a1a1a" stroke-width="0.3" font-family="Liberation Sans, sans-serif" >50</text>
<text x="1380.59" y="464.00" font-size="40" text-anchor="middle" font-weight="normal" fill="#1a1a1a" stroke="#1a1a1a" stroke-width="0.3" font-family="Liberation Sans, sans-serif" >52</text>
<text x="1181.50" y="464.00" font-size="40" text-anchor="start" font-weight="normal" fill="#1a1a1a" stroke="#1a1a1a" stroke-width="0.3" font-family="Liberation Sans, sans-serif" >5</text>
<path transform="translate(1218.60,464.00) scale(40)" d="M0,0 V-0.717 H-0.109 Q-0.15,-0.62 -0.283,-0.545 L-0.275,-0.455 Q-0.19,-0.49 -0.097,-0.562 V0 Z" fill="#1a1a1a" stroke="#1a1a1a" stroke-width="0.0075"/>
<text x="1145.20" y="502.50" font-size="36" text-anchor="middle" font-weight="normal" fill="#1a1a1a" stroke="#1a1a1a" stroke-width="0.3" font-family="Liberation Sans, sans-serif" >k</text>
<text x="757.00" y="243.40" font-size="51.5" text-anchor="middle" font-weight="normal" fill="#000" stroke="#000" stroke-width="0.3" font-family="Liberation Sans, sans-serif" >S</text>
<text transform="translate(736.7,40.2) scale(1.06,1)" font-size="53.5" font-weight="bold" fill="#000" font-family="Liberation Sans, sans-serif">b</text>
<text x="940.00" y="56.80" font-size="32.6" text-anchor="start" font-weight="normal" fill="#00a651" stroke="#00a651" stroke-width="0.3" font-family="Liberation Sans, sans-serif" >Cherenkov</text>
<path transform="translate(1045.90,225.50) scale(49.5)" d="M0,0 V-0.717 H-0.109 Q-0.15,-0.62 -0.283,-0.545 L-0.275,-0.455 Q-0.19,-0.49 -0.097,-0.562 V0 Z" fill="#ec1c24" stroke="#ec1c24" stroke-width="0.0061"/>
<text x="981.50" y="326.40" font-size="49.5" text-anchor="start" font-weight="normal" fill="#ec1c24" stroke="#ec1c24" stroke-width="0.3" font-family="Liberation Sans, sans-serif" >2</text>
<text x="106.80" y="633.53" font-size="40" text-anchor="end" font-weight="normal" fill="#1a1a1a" stroke="#1a1a1a" stroke-width="0.3" font-family="Liberation Sans, sans-serif" >50</text>
<text x="106.80" y="783.60" font-size="40" text-anchor="end" font-weight="normal" fill="#1a1a1a" stroke="#1a1a1a" stroke-width="0.3" font-family="Liberation Sans, sans-serif" >0</text>
<text x="96.60" y="933.67" font-size="40" text-anchor="end" font-weight="normal" fill="#1a1a1a" stroke="#1a1a1a" stroke-width="0.3" font-family="Liberation Sans, sans-serif" >-50</text>
<text x="213.50" y="1020.60" font-size="40" text-anchor="end" font-weight="normal" fill="#1a1a1a" stroke="#1a1a1a" stroke-width="0.3" font-family="Liberation Sans, sans-serif" >-5</text>
<text x="378.90" y="1020.60" font-size="40" text-anchor="middle" font-weight="normal" fill="#1a1a1a" stroke="#1a1a1a" stroke-width="0.3" font-family="Liberation Sans, sans-serif" >0</text>
<text x="545.90" y="1020.60" font-size="40" text-anchor="middle" font-weight="normal" fill="#1a1a1a" stroke="#1a1a1a" stroke-width="0.3" font-family="Liberation Sans, sans-serif" >5</text>
<text x="378.70" y="1066.30" font-size="36" text-anchor="middle" font-weight="normal" fill="#1a1a1a" stroke="#1a1a1a" stroke-width="0.3" font-family="Liberation Sans, sans-serif" >k</text>
<text x="17.00" y="787.60" font-size="38" text-anchor="middle" font-weight="normal" fill="#1a1a1a" stroke="#1a1a1a" stroke-width="0.3" font-family="Liberation Sans, sans-serif" >ω</text>
<text x="-1.30" y="581.80" font-size="53.5" text-anchor="start" font-weight="bold" fill="#000" font-family="Liberation Sans, sans-serif" >c</text>
<text x="845.00" y="570.53" font-size="40" text-anchor="end" font-weight="normal" fill="#1a1a1a" stroke="#1a1a1a" stroke-width="0.3" font-family="Liberation Sans, sans-serif" >100</text>
<text x="845.00" y="693.07" font-size="40" text-anchor="end" font-weight="normal" fill="#1a1a1a" stroke="#1a1a1a" stroke-width="0.3" font-family="Liberation Sans, sans-serif" >50</text>
<text x="845.00" y="815.60" font-size="40" text-anchor="end" font-weight="normal" fill="#1a1a1a" stroke="#1a1a1a" stroke-width="0.3" font-family="Liberation Sans, sans-serif" >0</text>
<text x="835.20" y="938.13" font-size="40" text-anchor="end" font-weight="normal" fill="#1a1a1a" stroke="#1a1a1a" stroke-width="0.3" font-family="Liberation Sans, sans-serif" >-50</text>
<text x="850.40" y="1014.00" font-size="40" text-anchor="middle" font-weight="normal" fill="#1a1a1a" stroke="#1a1a1a" stroke-width="0.3" font-family="Liberation Sans, sans-serif" >49</text>
<text x="1026.67" y="1014.00" font-size="40" text-anchor="middle" font-weight="normal" fill="#1a1a1a" stroke="#1a1a1a" stroke-width="0.3" font-family="Liberation Sans, sans-serif" >50</text>
<text x="1379.21" y="1014.00" font-size="40" text-anchor="middle" font-weight="normal" fill="#1a1a1a" stroke="#1a1a1a" stroke-width="0.3" font-family="Liberation Sans, sans-serif" >52</text>
<text x="1180.70" y="1014.00" font-size="40" text-anchor="start" font-weight="normal" fill="#1a1a1a" stroke="#1a1a1a" stroke-width="0.3" font-family="Liberation Sans, sans-serif" >5</text>
<path transform="translate(1217.80,1014.00) scale(40)" d="M0,0 V-0.717 H-0.109 Q-0.15,-0.62 -0.283,-0.545 L-0.275,-0.455 Q-0.19,-0.49 -0.097,-0.562 V0 Z" fill="#1a1a1a" stroke="#1a1a1a" stroke-width="0.0075"/>
<text x="1145.60" y="1066.40" font-size="36" text-anchor="middle" font-weight="normal" fill="#1a1a1a" stroke="#1a1a1a" stroke-width="0.3" font-family="Liberation Sans, sans-serif" >k</text>
<text x="756.30" y="788.50" font-size="38" text-anchor="middle" font-weight="normal" fill="#1a1a1a" stroke="#1a1a1a" stroke-width="0.3" font-family="Liberation Sans, sans-serif" >ω</text>
<text transform="translate(736.3,581.6) scale(1.05,1)" font-size="53.5" font-weight="bold" fill="#000" font-family="Liberation Sans, sans-serif">d</text>
</svg>
</body></html>
